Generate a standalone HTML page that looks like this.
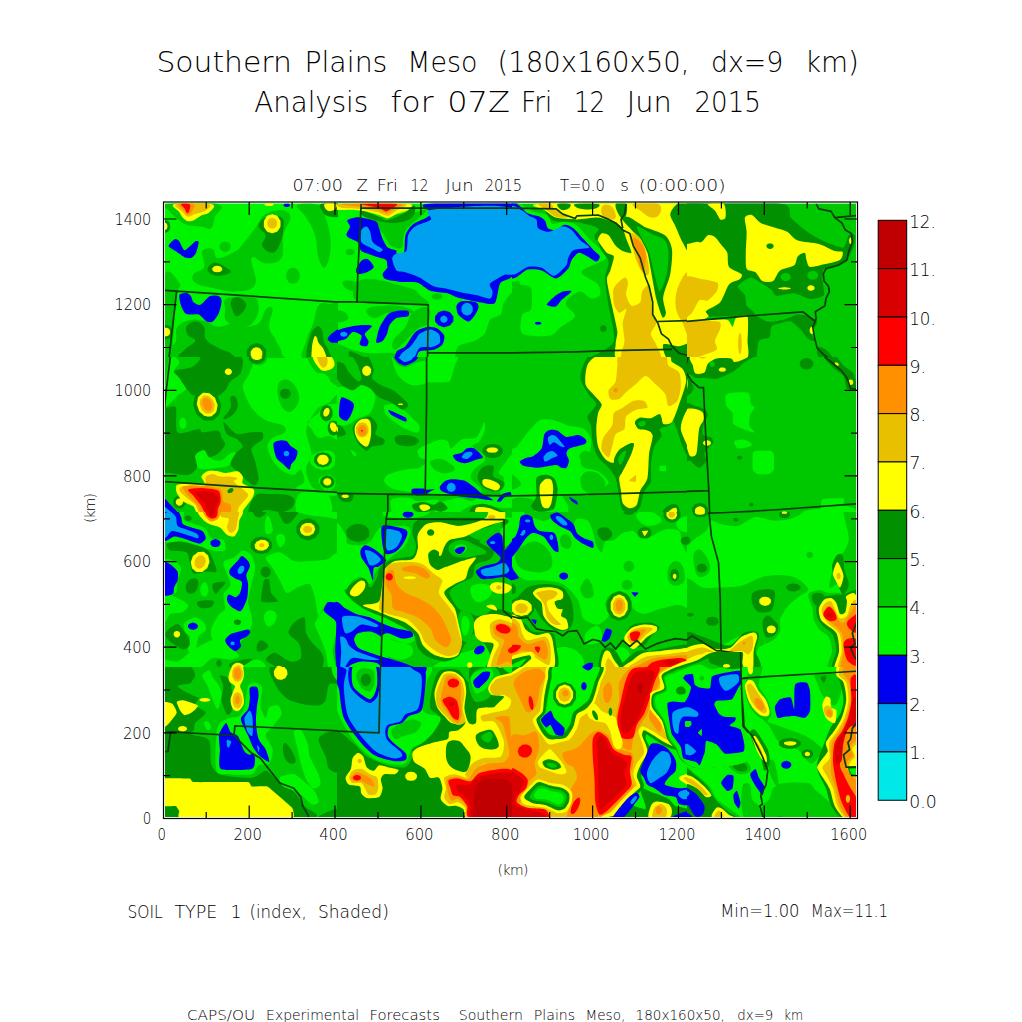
<!DOCTYPE html>
<html lang="en"><head><meta charset="utf-8"><title>Southern Plains Meso - SOIL TYPE 1</title>
<style>html,body{margin:0;padding:0;background:#fff;overflow:hidden}svg{display:block}text{fill:#000}</style>
</head><body>
<svg width="1022" height="1022" viewBox="0 0 1022 1022" font-family="'DejaVu Sans Light','DejaVu Sans','Liberation Sans',sans-serif" font-weight="200">
<defs><clipPath id="mapclip"><rect x="165" y="203.5" width="691" height="613.5"/></clipPath></defs>
<rect width="1022" height="1022" fill="#fff"/>
<g clip-path="url(#mapclip)">
<defs><clipPath id="t0"><rect x="160.0" y="200.0" width="178.0" height="158.0"/></clipPath><clipPath id="t1"><rect x="337.0" y="200.0" width="176.0" height="158.0"/></clipPath><clipPath id="t2"><rect x="512.0" y="200.0" width="176.0" height="158.0"/></clipPath><clipPath id="t3"><rect x="687.0" y="200.0" width="183.0" height="158.0"/></clipPath><clipPath id="t4"><rect x="160.0" y="357.0" width="178.0" height="156.0"/></clipPath><clipPath id="t5"><rect x="337.0" y="357.0" width="176.0" height="156.0"/></clipPath><clipPath id="t6"><rect x="512.0" y="357.0" width="176.0" height="156.0"/></clipPath><clipPath id="t7"><rect x="687.0" y="357.0" width="183.0" height="156.0"/></clipPath><clipPath id="t8"><rect x="160.0" y="512.0" width="178.0" height="156.0"/></clipPath><clipPath id="t9"><rect x="337.0" y="512.0" width="176.0" height="156.0"/></clipPath><clipPath id="t10"><rect x="512.0" y="512.0" width="176.0" height="156.0"/></clipPath><clipPath id="t11"><rect x="687.0" y="512.0" width="183.0" height="156.0"/></clipPath><clipPath id="t12"><rect x="160.0" y="667.0" width="178.0" height="162.9"/></clipPath><clipPath id="t13"><rect x="337.0" y="667.0" width="176.0" height="162.9"/></clipPath><clipPath id="t14"><rect x="512.0" y="667.0" width="176.0" height="162.9"/></clipPath><clipPath id="t15"><rect x="687.0" y="667.0" width="183.0" height="162.9"/></clipPath><clipPath id="t16"><rect x="650.0" y="652.0" width="98.0" height="120.0"/></clipPath></defs>
<rect x="160" y="200" width="700" height="622" fill="#00f400"/>
<g clip-path="url(#t0)">
<path fill="#00c800" d="M167.0 203.9C176.9 202.5 208.6 201.1 218.1 203.9C227.6 206.6 216.0 212.8 214.6 217.6C213.2 222.5 213.9 226.4 211.1 228.2C208.3 229.9 205.4 227.1 200.5 226.4C195.6 225.7 191.4 226.4 186.4 224.7C181.5 222.9 179.4 220.4 175.9 217.6C172.3 214.8 170.6 213.3 168.8 210.6C167.0 207.8 157.2 205.2 167.0 203.9ZM202.3 251.1C204.0 247.6 209.7 247.9 212.8 249.3C216.0 250.7 213.5 257.8 218.1 258.1C222.7 258.5 230.8 253.9 235.7 251.1C240.7 248.3 238.9 248.6 242.8 244.0C246.7 239.5 250.5 234.2 255.1 228.2C259.7 222.2 260.0 217.6 265.7 214.1C271.3 210.6 278.4 209.9 283.3 210.6C288.2 211.3 290.3 212.7 290.3 217.6C290.3 222.5 285.0 227.1 283.3 235.2C281.5 243.3 285.0 252.5 281.5 258.1C278.0 263.8 271.7 263.4 265.7 263.4C259.7 263.4 253.7 253.9 251.6 258.1C249.5 262.3 258.3 277.8 255.1 284.5C251.9 291.2 244.2 290.9 235.7 291.6C227.3 292.3 220.9 289.8 212.8 288.1C204.7 286.3 199.1 285.6 195.2 282.8C191.4 280.0 191.7 277.1 193.5 274.0C195.2 270.8 202.3 271.5 204.0 266.9C205.8 262.3 200.5 254.6 202.3 251.1ZM230.8 246.7C230.8 248.6 231.0 248.0 229.7 249.6C228.4 251.1 229.0 250.8 226.9 251.4C224.8 252.0 225.5 252.0 223.4 251.4C221.3 250.8 221.9 251.1 220.6 249.6C219.3 248.0 219.5 248.6 219.5 246.7C219.5 244.7 219.3 245.3 220.6 243.8C221.9 242.2 221.3 242.6 223.4 242.0C225.5 241.4 224.8 241.4 226.9 242.0C229.0 242.6 228.4 242.2 229.7 243.8C231.0 245.3 230.8 244.7 230.8 246.7ZM299.7 275.7C299.7 278.8 299.9 277.9 298.4 280.4C296.8 282.9 297.5 282.3 295.0 283.3C292.5 284.2 293.4 284.2 290.9 283.3C288.4 282.3 289.1 282.9 287.6 280.4C286.0 277.9 286.3 278.8 286.3 275.7C286.3 272.6 286.0 273.6 287.6 271.1C289.1 268.6 288.4 269.2 290.9 268.2C293.4 267.2 292.5 267.2 295.0 268.2C297.5 269.2 296.8 268.6 298.4 271.1C299.9 273.6 299.7 272.6 299.7 275.7ZM297.4 205.3C299.8 202.8 312.9 202.8 318.5 205.3C324.1 207.7 323.1 209.9 325.6 217.6C328.0 225.4 330.8 234.2 330.8 244.0C330.8 253.9 328.0 264.1 325.6 266.9C323.1 269.7 320.6 264.5 318.5 258.1C316.4 251.8 317.5 243.3 315.0 235.2C312.5 227.1 309.7 223.6 306.2 217.6C302.7 211.6 294.9 207.7 297.4 205.3ZM163.9 277.5C167.0 262.1 176.6 280.0 179.4 282.8C182.1 285.6 178.3 287.0 177.6 291.6C176.9 296.2 177.3 292.0 175.9 305.7C174.4 319.3 173.0 349.1 170.6 359.9C168.2 370.8 165.2 376.4 163.9 359.9C162.5 343.4 160.8 292.9 163.9 277.5ZM177.6 326.8C180.8 322.6 186.1 320.8 191.7 319.8C197.3 318.7 200.5 320.1 205.8 321.5C211.1 322.9 212.5 326.5 218.1 326.8C223.8 327.2 229.0 323.3 234.0 323.3C238.9 323.3 237.8 326.8 242.8 326.8C247.7 326.8 254.1 326.8 258.6 323.3C263.2 319.8 262.9 312.0 265.7 309.2C268.5 306.4 272.0 305.7 272.7 309.2C273.4 312.7 268.5 320.5 269.2 326.8C269.9 333.2 273.8 335.6 276.2 340.9C278.7 346.2 282.2 349.4 281.5 353.2C280.8 357.0 294.9 358.6 272.7 359.9C250.5 361.3 189.9 363.7 170.6 359.9C151.2 356.1 174.4 347.5 175.9 340.9C177.3 334.3 174.4 331.0 177.6 326.8ZM226.9 298.6C232.2 296.2 245.2 295.5 251.6 296.9C257.9 298.3 257.9 301.1 258.6 305.7C259.3 310.3 257.9 315.5 255.1 319.8C252.3 324.0 250.2 326.5 244.5 326.8C238.9 327.2 230.8 325.0 226.9 321.5C223.1 318.0 225.2 313.8 225.2 309.2C225.2 304.6 221.6 301.1 226.9 298.6ZM306.2 340.9C307.9 333.6 310.8 330.3 313.2 323.3C315.7 316.2 315.3 309.5 318.5 305.7C321.7 301.8 324.8 303.2 329.1 303.9C333.4 304.6 337.8 298.0 340.0 309.2C342.2 320.4 347.1 349.8 340.0 359.9C332.9 370.1 311.2 363.7 304.4 359.9C297.7 356.1 304.4 348.2 306.2 340.9Z"/>
<path fill="#009000" d="M258.6 226.4C258.6 222.9 261.1 219.4 265.7 217.6C270.3 215.9 278.0 215.1 281.5 217.6C285.0 220.1 283.6 224.7 283.3 229.9C282.9 235.2 281.9 239.5 279.8 244.0C277.7 248.6 276.2 252.5 272.7 252.8C269.2 253.2 263.6 249.3 262.2 245.8C260.7 242.3 266.4 239.1 265.7 235.2C265.0 231.4 258.6 229.9 258.6 226.4ZM321.2 203.9C324.7 202.5 336.2 201.5 340.0 203.9C343.8 206.3 342.5 213.5 340.0 215.9C337.5 218.2 330.9 216.9 327.3 215.9C323.7 214.8 323.3 213.0 322.0 210.6C320.8 208.2 317.6 205.2 321.2 203.9ZM186.4 326.8C187.8 324.0 191.7 321.5 195.2 321.5C198.7 321.5 201.9 323.3 204.0 326.8C206.1 330.3 203.0 334.9 205.8 339.1C208.6 343.4 213.2 345.1 218.1 347.9C223.1 350.8 228.0 350.8 230.5 353.2C232.9 355.6 240.3 358.6 230.5 359.9C220.6 361.3 190.3 362.0 181.1 359.9C172.0 357.9 181.8 353.5 184.7 349.7C187.5 345.9 194.5 343.7 195.2 340.9C195.9 338.1 189.9 338.4 188.2 335.6C186.4 332.8 185.0 329.6 186.4 326.8ZM231.3 300.4C232.7 298.1 236.3 296.7 239.3 297.7C242.3 298.8 246.7 302.0 246.3 305.7C245.9 309.4 240.3 315.5 237.5 316.2C234.7 316.9 233.4 312.4 232.2 309.2C231.0 306.0 229.9 302.7 231.3 300.4ZM207.6 268.7C208.3 266.4 211.1 262.9 214.6 262.5C218.1 262.2 222.0 265.0 225.2 266.9C228.3 268.9 231.5 270.5 230.5 272.2C229.4 274.0 223.8 275.4 219.9 275.7C216.0 276.1 213.5 275.4 211.1 274.0C208.6 272.6 206.8 271.0 207.6 268.7ZM170.2 226.4C170.2 228.8 170.4 228.1 169.3 230.0C168.1 232.0 168.6 231.5 166.8 232.3C165.0 233.0 165.6 233.0 163.8 232.3C161.9 231.5 162.4 232.0 161.3 230.0C160.2 228.1 160.4 228.8 160.4 226.4C160.4 224.0 160.2 224.7 161.3 222.8C162.4 220.8 161.9 221.3 163.8 220.6C165.6 219.8 165.0 219.8 166.8 220.6C168.6 221.3 168.1 220.8 169.3 222.8C170.4 224.7 170.2 224.0 170.2 226.4ZM172.3 332.1C172.3 334.9 172.6 334.0 171.2 336.2C169.7 338.5 170.4 337.9 168.1 338.8C165.8 339.6 166.6 339.6 164.3 338.8C162.0 337.9 162.6 338.5 161.2 336.2C159.8 334.0 160.0 334.9 160.0 332.1C160.0 329.3 159.8 330.2 161.2 328.0C162.6 325.7 162.0 326.2 164.3 325.4C166.6 324.5 165.8 324.5 168.1 325.4C170.4 326.2 169.7 325.7 171.2 328.0C172.6 330.2 172.3 329.3 172.3 332.1ZM266.2 353.2C266.2 357.0 266.6 355.9 264.4 358.9C262.1 362.0 263.1 361.3 259.5 362.4C255.9 363.6 257.1 363.6 253.5 362.4C249.9 361.3 250.9 362.0 248.7 358.9C246.4 355.9 246.8 357.0 246.8 353.2C246.8 349.4 246.4 350.6 248.7 347.5C250.9 344.5 249.9 345.2 253.5 344.0C257.1 342.8 255.9 342.8 259.5 344.0C263.1 345.2 262.1 344.5 264.4 347.5C266.6 350.6 266.2 349.4 266.2 353.2ZM309.7 337.4C311.5 330.8 314.3 328.2 316.8 326.8C319.2 325.4 320.6 327.5 322.0 330.3C323.4 333.2 322.4 336.7 323.8 340.9C325.2 345.1 328.0 347.7 329.1 351.5C330.1 355.3 333.3 358.2 329.1 359.9C324.9 361.6 311.8 364.4 307.9 359.9C304.1 355.4 307.9 344.0 309.7 337.4Z"/>
<path fill="#ffff00" d="M280.5 223.8C280.5 227.4 280.8 226.3 278.9 229.2C277.0 232.1 277.8 231.4 274.7 232.5C271.7 233.6 272.7 233.6 269.6 232.5C266.5 231.4 267.4 232.1 265.5 229.2C263.6 226.3 263.9 227.4 263.9 223.8C263.9 220.2 263.6 221.3 265.5 218.4C267.4 215.5 266.5 216.2 269.6 215.1C272.7 214.0 271.7 214.0 274.7 215.1C277.8 216.2 277.0 215.5 278.9 218.4C280.8 221.3 280.5 220.2 280.5 223.8ZM324.7 203.9C326.4 202.5 334.2 202.7 336.1 203.9C338.1 205.0 336.1 208.3 334.4 209.7C332.6 211.0 329.3 211.7 327.3 210.6C325.4 209.4 322.9 205.2 324.7 203.9ZM222.2 269.0C222.2 270.3 222.4 269.9 221.2 270.9C220.1 271.9 220.6 271.7 218.8 272.1C216.9 272.4 217.6 272.4 215.7 272.1C213.9 271.7 214.4 271.9 213.3 270.9C212.1 269.9 212.3 270.3 212.3 269.0C212.3 267.8 212.1 268.2 213.3 267.2C214.4 266.2 213.9 266.4 215.7 266.0C217.6 265.6 216.9 265.6 218.8 266.0C220.6 266.4 220.1 266.2 221.2 267.2C222.4 268.2 222.2 267.8 222.2 269.0ZM175.0 203.9C181.3 202.2 204.2 202.2 211.1 203.9C217.9 205.6 211.4 209.9 209.3 212.3C207.2 214.7 204.0 214.1 200.5 215.9C197.0 217.6 194.9 220.4 191.7 221.1C188.5 221.8 187.1 221.1 184.7 219.4C182.2 217.6 181.3 215.4 179.4 212.3C177.4 209.2 168.6 205.6 175.0 203.9ZM167.4 226.4C167.4 227.8 167.5 227.4 166.9 228.5C166.4 229.6 166.6 229.3 165.7 229.8C164.8 230.2 165.1 230.2 164.2 229.8C163.3 229.3 163.5 229.6 162.9 228.5C162.4 227.4 162.5 227.8 162.5 226.4C162.5 225.0 162.4 225.5 162.9 224.3C163.5 223.2 163.3 223.5 164.2 223.1C165.1 222.6 164.8 222.6 165.7 223.1C166.6 223.5 166.4 223.2 166.9 224.3C167.5 225.5 167.4 225.0 167.4 226.4ZM170.0 332.1C170.0 333.8 170.2 333.2 169.3 334.6C168.4 335.9 168.8 335.6 167.4 336.1C165.9 336.6 166.4 336.6 165.0 336.1C163.5 335.6 163.9 335.9 163.0 334.6C162.1 333.2 162.3 333.8 162.3 332.1C162.3 330.4 162.1 330.9 163.0 329.6C163.9 328.3 163.5 328.6 165.0 328.1C166.4 327.6 165.9 327.6 167.4 328.1C168.8 328.6 168.4 328.3 169.3 329.6C170.2 330.9 170.0 330.4 170.0 332.1ZM262.3 353.6C262.3 356.0 262.6 355.3 261.2 357.2C259.9 359.2 260.5 358.7 258.3 359.4C256.1 360.2 256.9 360.2 254.7 359.4C252.6 358.7 253.2 359.2 251.8 357.2C250.5 355.3 250.7 356.0 250.7 353.6C250.7 351.2 250.5 351.9 251.8 350.0C253.2 348.0 252.6 348.5 254.7 347.7C256.9 347.0 256.1 347.0 258.3 347.7C260.5 348.5 259.9 348.0 261.2 350.0C262.6 351.9 262.3 351.2 262.3 353.6ZM314.1 337.4C315.1 334.9 315.9 336.3 316.8 337.4C317.6 338.4 317.1 340.2 318.5 342.7C319.9 345.1 322.4 346.3 323.8 349.7C325.2 353.2 327.7 357.9 325.6 359.9C323.4 362.0 316.0 362.0 313.2 359.9C310.5 357.9 311.6 354.2 311.8 349.7C312.0 345.2 313.1 339.8 314.1 337.4ZM273.6 204.4C273.6 205.1 273.8 204.9 272.8 205.4C271.7 206.0 272.2 205.9 270.6 206.1C268.9 206.3 269.5 206.3 267.8 206.1C266.2 205.9 266.6 206.0 265.6 205.4C264.6 204.9 264.8 205.1 264.8 204.4C264.8 203.7 264.6 203.9 265.6 203.4C266.6 202.8 266.2 202.9 267.8 202.7C269.5 202.5 268.9 202.5 270.6 202.7C272.2 202.9 271.7 202.8 272.8 203.4C273.8 203.9 273.6 203.7 273.6 204.4Z"/>
<path fill="#e8c000" d="M277.1 223.2C277.1 225.3 277.3 224.7 276.2 226.4C275.0 228.0 275.6 227.6 273.7 228.3C271.9 228.9 272.5 228.9 270.7 228.3C268.8 227.6 269.3 228.0 268.2 226.4C267.1 224.7 267.3 225.3 267.3 223.2C267.3 221.2 267.1 221.8 268.2 220.1C269.3 218.5 268.8 218.9 270.7 218.2C272.5 217.6 271.9 217.6 273.7 218.2C275.6 218.9 275.0 218.5 276.2 220.1C277.3 221.8 277.1 221.2 277.1 223.2ZM176.7 203.9C181.8 202.2 202.6 202.5 208.4 203.9C214.2 205.2 208.4 208.5 205.8 210.6C203.2 212.6 198.7 212.9 195.2 214.1C191.7 215.3 190.6 217.1 188.2 216.7C185.7 216.4 185.2 214.9 182.9 212.3C180.6 209.8 171.6 205.6 176.7 203.9Z"/>
<path fill="#ff9000" d="M178.5 203.9C180.4 202.5 190.6 202.5 193.5 203.9C196.3 205.2 193.6 208.3 192.6 210.6C191.5 212.8 189.9 215.0 188.2 215.0C186.4 215.0 185.7 212.8 183.8 210.6C181.8 208.3 176.6 205.2 178.5 203.9Z"/>
<path fill="#ff0000" d="M181.1 203.9C182.0 202.9 187.3 202.9 189.1 203.9C190.8 204.9 190.3 206.9 189.9 208.8C189.6 210.7 188.4 213.2 187.3 213.2C186.2 213.2 185.9 210.7 184.7 208.8C183.4 206.9 180.3 204.9 181.1 203.9Z"/>
<path fill="#0000f0" d="M168.5 246.1C168.2 244.8 173.9 239.6 175.0 239.1C176.1 238.6 178.4 240.3 179.4 241.4C180.3 242.5 183.1 250.2 184.7 250.2C186.2 250.2 193.8 242.2 195.2 241.4C196.6 240.6 198.7 241.1 198.7 242.3C198.8 243.4 196.8 251.3 196.1 252.8C195.4 254.4 192.8 257.3 191.7 257.8C190.6 258.3 186.9 258.3 185.5 257.8C184.1 257.2 179.3 253.6 177.6 252.5C175.9 251.3 168.7 247.5 168.5 246.1ZM179.4 295.1C180.1 293.4 184.9 292.9 186.4 293.0C187.9 293.1 189.9 294.8 190.8 296.0C191.8 297.2 192.2 301.0 193.5 302.2C194.8 303.3 198.4 305.5 200.5 304.8C202.6 304.0 207.0 297.7 209.3 296.5C211.7 295.3 216.5 295.5 218.1 296.0C219.8 296.5 221.5 298.2 221.6 300.4C221.8 302.6 220.2 309.9 219.0 312.7C217.8 315.5 214.5 320.4 212.8 321.5C211.2 322.7 208.6 322.5 206.7 321.5C204.8 320.6 201.4 315.5 198.7 314.5C196.0 313.5 188.8 315.3 186.4 314.1C184.1 313.0 182.1 308.2 181.1 305.7C180.2 303.1 178.7 296.8 179.4 295.1ZM328.2 337.4C329.6 335.3 333.8 331.9 336.1 330.3C338.5 328.7 339.2 327.3 340.0 329.5C340.8 331.6 341.3 338.3 340.0 340.9C338.7 343.5 335.7 342.7 333.5 342.7C331.3 342.7 330.1 342.0 329.1 340.9C328.0 339.8 326.8 339.5 328.2 337.4ZM290.0 205.3C290.0 206.0 290.1 205.8 289.4 206.3C288.6 206.9 289.0 206.7 287.8 207.0C286.6 207.2 287.0 207.2 285.8 207.0C284.6 206.7 285.0 206.9 284.2 206.3C283.5 205.8 283.6 206.0 283.6 205.3C283.6 204.6 283.5 204.8 284.2 204.2C285.0 203.7 284.6 203.8 285.8 203.6C287.0 203.4 286.6 203.4 287.8 203.6C289.0 203.8 288.6 203.7 289.4 204.2C290.1 204.8 290.0 204.6 290.0 205.3Z"/>
<path fill="none" stroke="#0b3b0b" stroke-width="1.7" stroke-linejoin="round" d="M163.9 290.2L340.0 302.2M176.7 290.7L168.8 359.9"/>
</g>
<g clip-path="url(#t1)">
<path fill="#00c800" d="M375.5 219.4C381.5 214.8 404.0 214.1 414.3 212.3C424.5 210.6 427.6 207.7 426.6 210.6C425.5 213.4 413.6 221.5 409.0 226.4C404.4 231.4 405.1 231.0 403.7 235.2C402.3 239.5 404.4 245.4 401.9 247.6C399.5 249.7 394.9 248.3 391.4 245.8C387.8 243.3 387.5 240.5 384.3 235.2C381.1 229.9 369.5 224.0 375.5 219.4ZM357.9 282.8C360.4 278.4 364.9 279.6 370.2 279.3C375.5 278.9 379.0 280.0 384.3 281.0C389.6 282.1 390.7 282.8 396.6 284.5C402.6 286.3 409.7 287.7 414.3 289.8C418.8 291.9 416.7 292.3 419.5 295.1C422.4 297.9 431.2 302.2 428.3 303.9C425.5 305.7 419.5 304.4 405.5 303.9C391.4 303.4 367.4 305.5 357.9 301.3C348.4 297.0 355.4 287.2 357.9 282.8ZM515.0 293.3C513.9 287.6 505.5 300.0 504.1 302.2C502.6 304.3 502.0 312.7 500.6 314.5C499.1 316.2 491.6 317.8 490.0 319.8C488.4 321.7 486.3 331.7 484.7 333.9C483.1 336.0 476.8 339.7 474.1 340.9C471.5 342.1 459.9 344.3 458.3 346.2C456.7 348.1 452.6 358.5 458.3 359.9C464.0 361.3 509.3 366.6 515.0 359.9C520.7 353.3 516.1 299.1 515.0 293.3ZM335.0 311.0C337.1 309.2 343.1 311.0 345.6 312.7C348.0 314.5 349.4 318.0 347.3 319.8C345.2 321.5 337.5 323.3 335.0 321.5C332.5 319.8 332.9 312.7 335.0 311.0ZM366.7 309.2C368.8 306.7 376.6 306.0 384.3 305.7C392.1 305.3 399.5 306.0 405.5 307.4C411.4 308.8 415.0 311.7 414.3 312.7C413.6 313.8 407.2 312.7 401.9 312.7C396.6 312.7 393.5 311.7 387.8 312.7C382.2 313.8 378.0 318.7 373.7 318.0C369.5 317.3 364.6 311.7 366.7 309.2ZM335.0 344.4C338.5 342.4 345.6 347.9 352.6 349.7C359.7 351.5 362.1 352.5 370.2 353.2C378.3 353.9 388.5 351.9 393.1 353.2C397.7 354.6 404.7 358.6 393.1 359.9C381.5 361.3 346.6 363.0 335.0 359.9C323.4 356.8 331.5 346.5 335.0 344.4ZM412.5 312.7C417.1 308.8 425.2 305.3 428.3 307.4C431.5 309.5 430.5 319.1 428.3 323.3C426.2 327.5 422.4 325.0 417.8 328.6C413.2 332.1 410.0 336.7 405.5 340.9C400.9 345.1 397.3 349.7 394.9 349.7C392.4 349.7 391.0 345.5 393.1 340.9C395.2 336.3 401.6 332.4 405.5 326.8C409.3 321.2 407.9 316.6 412.5 312.7ZM354.4 252.0C354.4 253.2 354.5 252.8 353.5 253.8C352.5 254.8 353.0 254.6 351.3 255.0C349.7 255.4 350.3 255.4 348.6 255.0C347.0 254.6 347.4 254.8 346.4 253.8C345.4 252.8 345.6 253.2 345.6 252.0C345.6 250.7 345.4 251.1 346.4 250.1C347.4 249.1 347.0 249.3 348.6 248.9C350.3 248.6 349.7 248.6 351.3 248.9C353.0 249.3 352.5 249.1 353.5 250.1C354.5 251.1 354.4 250.7 354.4 252.0ZM442.4 296.5C442.4 297.8 442.6 297.4 441.4 298.4C440.2 299.4 440.8 299.1 438.8 299.5C436.8 299.9 437.5 299.9 435.5 299.5C433.6 299.1 434.1 299.4 432.9 298.4C431.7 297.4 431.9 297.8 431.9 296.5C431.9 295.3 431.7 295.7 432.9 294.7C434.1 293.6 433.6 293.9 435.5 293.5C437.5 293.1 436.8 293.1 438.8 293.5C440.8 293.9 440.2 293.6 441.4 294.7C442.6 295.7 442.4 295.3 442.4 296.5ZM343.8 281.0C346.3 280.0 355.3 280.7 357.9 282.8C360.5 284.9 359.5 290.5 357.0 291.6C354.5 292.6 348.2 290.2 345.6 288.1C342.9 285.9 341.3 282.1 343.8 281.0Z"/>
<path fill="#009000" d="M361.4 210.6C364.6 210.7 373.7 214.8 379.0 216.7C384.3 218.7 382.6 221.1 387.8 220.3C393.1 219.4 400.2 215.3 405.5 212.3C410.7 209.3 412.5 204.9 414.3 205.3C416.0 205.6 415.3 211.3 414.3 214.1C413.2 216.9 412.8 217.6 409.0 219.4C405.1 221.1 400.9 222.5 394.9 222.9C388.9 223.2 385.4 222.5 379.0 221.1C372.7 219.7 366.7 218.0 363.2 215.9C359.7 213.7 358.2 210.4 361.4 210.6ZM349.1 351.5C350.5 350.5 356.1 353.3 359.7 355.0C363.2 356.7 368.1 358.9 366.7 359.9C365.3 360.9 356.1 361.6 352.6 359.9C349.1 358.2 347.7 352.5 349.1 351.5Z"/>
<path fill="#ffff00" d="M335.0 203.9C342.4 203.3 401.8 203.2 409.0 203.9C416.2 204.5 408.4 209.5 407.2 210.6C406.0 211.6 398.6 213.3 396.6 214.1C394.7 214.9 389.6 218.4 387.8 218.5C386.1 218.6 381.1 215.7 379.0 215.0C376.9 214.3 369.3 212.0 366.7 211.4C364.1 210.9 355.8 209.9 352.6 209.7C349.4 209.5 336.8 210.3 335.0 209.7C333.2 209.1 327.6 204.5 335.0 203.9Z"/>
<path fill="#e8c000" d="M338.5 203.9C344.9 203.5 399.8 203.1 405.5 203.9C411.1 204.6 396.6 210.3 394.9 211.4C393.1 212.6 389.6 215.8 387.8 215.9C386.1 215.9 379.9 213.0 377.3 212.3C374.6 211.6 364.9 209.2 361.4 208.8C357.9 208.4 344.3 208.4 342.0 207.9C339.8 207.4 332.2 204.3 338.5 203.9Z"/>
<path fill="#ff9000" d="M342.0 203.9C346.1 203.6 396.8 203.3 401.9 203.9C407.0 204.5 394.6 208.8 393.1 209.7C391.6 210.6 388.5 213.2 387.0 213.2C385.4 213.2 379.8 210.3 377.3 209.7C374.7 209.1 364.9 207.6 361.4 207.0C357.9 206.5 338.0 204.2 342.0 203.9Z"/>
<path fill="#ff0000" d="M361.4 203.9C363.2 203.5 393.6 203.4 396.6 203.9C399.6 204.4 392.4 208.0 391.4 208.8C390.3 209.6 387.3 211.5 386.1 211.4C384.8 211.4 381.5 208.7 379.0 207.9C376.6 207.2 359.7 204.3 361.4 203.9Z"/>
<path fill="#0000f0" d="M426.6 203.9C437.8 202.7 503.2 195.0 515.0 203.9C526.8 212.8 516.9 259.9 515.0 270.5C513.1 281.0 503.0 279.3 500.6 282.8C498.2 286.3 498.0 294.1 497.0 296.9C496.1 299.7 495.9 303.2 493.5 303.9C491.2 304.6 484.1 303.0 479.4 302.2C474.7 301.3 462.5 298.9 458.3 297.7C454.1 296.6 451.5 294.3 447.7 293.3C444.0 292.4 434.1 292.1 430.1 290.7C426.1 289.3 421.8 284.0 417.8 282.8C413.8 281.6 404.4 282.4 400.2 281.9C395.9 281.4 388.4 280.3 386.1 279.3C383.7 278.2 382.3 275.6 382.6 274.0C382.8 272.3 386.7 269.0 387.8 266.9C389.0 264.8 390.7 260.0 391.4 258.1C392.1 256.2 391.5 253.5 393.1 252.8C394.8 252.1 402.0 255.2 403.7 252.8C405.3 250.5 404.3 239.0 405.5 235.2C406.6 231.5 409.7 227.0 412.5 224.7C415.3 222.3 424.1 219.3 426.6 217.6C429.1 216.0 431.0 214.2 431.0 212.3C431.0 210.5 415.4 205.0 426.6 203.9ZM347.3 220.3C348.5 219.0 355.0 217.1 358.8 217.3C362.5 217.4 372.8 219.7 375.5 221.1C378.2 222.6 378.1 225.8 379.0 228.2C380.0 230.5 381.4 236.2 382.6 238.7C383.7 241.3 386.0 245.9 387.8 247.6C389.7 249.2 395.9 249.7 396.6 251.1C397.3 252.5 393.1 255.5 393.1 258.1C393.1 260.7 397.3 269.3 396.6 270.5C395.9 271.6 389.2 268.3 387.8 266.9C386.4 265.5 387.7 261.3 386.1 259.9C384.4 258.5 378.8 257.5 375.5 256.4C372.2 255.2 363.8 253.0 361.4 251.1C359.1 249.2 359.5 244.0 357.9 242.3C356.3 240.5 350.6 238.9 349.1 237.9C347.6 236.8 346.3 235.9 346.4 234.3C346.6 232.8 349.9 228.3 350.0 226.4C350.1 224.5 346.2 221.5 347.3 220.3ZM356.1 269.6C356.6 267.8 359.9 262.2 361.4 260.8C362.9 259.4 365.9 258.2 367.6 259.0C369.2 259.8 373.9 265.2 373.7 266.9C373.6 268.7 368.8 271.3 366.7 272.2C364.6 273.2 359.3 274.3 357.9 274.0C356.5 273.6 355.7 271.3 356.1 269.6ZM456.5 305.7C457.0 303.9 459.2 301.7 461.8 301.3C464.4 300.8 473.7 301.3 475.9 302.2C478.1 303.0 478.8 305.6 478.5 307.4C478.3 309.3 475.5 314.4 474.1 316.2C472.7 318.1 470.1 321.8 468.0 321.5C465.9 321.3 459.8 316.6 458.3 314.5C456.8 312.4 456.1 307.4 456.5 305.7ZM453.4 318.9C453.4 322.0 453.7 321.0 451.6 323.5C449.5 326.1 450.4 325.5 447.0 326.4C443.6 327.4 444.8 327.4 441.4 326.4C438.0 325.5 438.9 326.1 436.8 323.5C434.7 321.0 435.0 322.0 435.0 318.9C435.0 315.8 434.7 316.7 436.8 314.2C438.9 311.7 438.0 312.3 441.4 311.3C444.8 310.4 443.6 310.4 447.0 311.3C450.4 312.3 449.5 311.7 451.6 314.2C453.7 316.7 453.4 315.8 453.4 318.9ZM417.8 330.3C419.9 329.2 425.8 327.0 428.3 326.8C430.9 326.6 435.0 327.4 437.2 328.6C439.3 329.7 443.5 333.5 444.2 335.6C444.9 337.7 443.8 342.5 442.4 344.4C441.0 346.3 436.7 348.8 433.6 349.7C430.6 350.6 422.1 350.1 419.5 351.5C417.0 352.8 417.4 358.8 414.3 359.9C411.1 361.0 398.1 361.0 395.8 359.9C393.4 358.8 395.4 353.3 396.6 351.5C397.9 349.6 403.3 348.3 405.5 346.2C407.6 344.1 410.9 337.7 412.5 335.6C414.1 333.5 415.7 331.5 417.8 330.3ZM335.0 332.1C336.4 330.3 342.0 328.6 345.6 327.7C349.1 326.8 357.9 325.3 361.4 325.0C364.9 324.8 371.5 324.8 372.0 325.9C372.5 327.1 365.4 331.9 364.9 333.9C364.5 335.9 368.2 339.3 368.5 340.9C368.7 342.5 367.9 345.7 366.7 346.2C365.5 346.7 360.4 345.8 359.7 344.4C359.0 343.0 362.4 337.3 361.4 335.6C360.5 334.0 354.7 331.6 352.6 332.1C350.5 332.6 347.9 338.0 345.6 339.1C343.2 340.3 336.4 341.8 335.0 340.9C333.6 340.0 333.6 333.9 335.0 332.1ZM387.8 314.5C390.1 312.4 393.9 311.4 396.6 311.0C399.3 310.5 406.6 310.3 408.1 311.0C409.6 311.7 409.6 315.3 408.1 316.2C406.6 317.2 399.1 316.8 396.6 318.0C394.2 319.2 390.9 322.9 389.6 325.0C388.3 327.2 387.9 331.7 387.0 333.9C386.0 336.0 384.0 339.7 382.6 340.9C381.1 342.1 377.1 343.4 376.4 342.7C375.7 342.0 376.8 337.7 377.3 335.6C377.7 333.5 378.5 329.6 379.9 326.8C381.3 324.0 385.6 316.6 387.8 314.5Z"/>
<path fill="#00a0f0" d="M431.9 209.7C443.1 208.4 503.9 201.7 515.0 209.7C526.1 217.7 516.5 260.9 515.0 269.6C513.5 278.3 507.4 273.0 504.1 274.9C500.7 276.7 491.5 281.4 490.0 283.7C488.5 285.9 492.6 289.6 492.6 291.6C492.6 293.6 492.2 298.2 490.0 298.6C487.8 299.1 479.7 295.9 475.9 295.1C472.1 294.3 465.6 293.3 461.8 292.5C458.1 291.6 451.5 289.8 447.7 288.9C444.0 288.1 437.4 287.8 433.6 286.3C429.9 284.8 423.3 279.4 419.5 277.5C415.8 275.6 408.5 273.2 405.5 272.2C402.4 271.3 398.4 272.2 396.6 270.5C394.9 268.7 392.4 261.2 392.2 259.0C392.1 256.8 393.9 254.8 395.8 253.7C397.6 252.7 404.7 253.5 406.3 251.1C408.0 248.6 406.9 238.5 408.1 235.2C409.3 231.9 412.1 228.5 415.1 226.4C418.2 224.3 428.8 221.6 431.0 219.4C433.2 217.1 420.7 211.0 431.9 209.7ZM361.4 229.9C362.1 227.8 365.5 226.2 366.7 226.4C367.9 226.7 369.4 229.6 370.2 231.7C371.0 233.8 371.2 239.9 372.9 242.3C374.5 244.6 381.7 248.0 382.6 249.3C383.4 250.6 380.7 252.2 379.0 252.0C377.4 251.7 372.6 248.8 370.2 247.6C367.9 246.3 362.6 244.6 361.4 242.3C360.2 239.9 360.7 232.1 361.4 229.9ZM472.7 309.2C472.7 311.6 473.0 310.9 471.7 312.8C470.4 314.8 470.9 314.3 468.8 315.1C466.7 315.8 467.5 315.8 465.4 315.1C463.3 314.3 463.8 314.8 462.5 312.8C461.2 310.9 461.5 311.6 461.5 309.2C461.5 306.8 461.2 307.5 462.5 305.6C463.8 303.6 463.3 304.1 465.4 303.3C467.5 302.6 466.7 302.6 468.8 303.3C470.9 304.1 470.4 303.6 471.7 305.6C473.0 307.5 472.7 306.8 472.7 309.2ZM447.4 319.2C447.4 320.6 447.5 320.2 446.7 321.3C445.9 322.4 446.2 322.2 444.9 322.6C443.6 323.0 444.1 323.0 442.8 322.6C441.4 322.2 441.8 322.4 441.0 321.3C440.2 320.2 440.3 320.6 440.3 319.2C440.3 317.9 440.2 318.3 441.0 317.2C441.8 316.0 441.4 316.3 442.8 315.9C444.1 315.5 443.6 315.5 444.9 315.9C446.2 316.3 445.9 316.0 446.7 317.2C447.5 318.3 447.4 317.9 447.4 319.2ZM419.5 333.9C421.4 332.6 427.5 329.5 430.1 329.5C432.7 329.5 437.6 332.1 438.9 333.9C440.2 335.6 440.7 340.9 439.8 342.7C438.9 344.4 434.6 346.4 431.9 347.1C429.2 347.8 422.1 346.2 419.5 347.9C417.0 349.7 415.2 358.3 412.5 359.9C409.8 361.5 400.7 360.8 399.3 359.9C397.9 359.0 400.4 355.1 401.9 353.2C403.5 351.4 408.9 348.1 410.7 346.2C412.6 344.3 414.8 340.8 416.0 339.1C417.2 337.5 417.7 335.1 419.5 333.9ZM347.3 334.2C347.3 335.2 347.5 334.9 346.7 335.7C345.8 336.4 346.2 336.3 344.9 336.6C343.6 336.9 344.0 336.9 342.7 336.6C341.4 336.3 341.8 336.4 341.0 335.7C340.1 334.9 340.3 335.2 340.3 334.2C340.3 333.2 340.1 333.5 341.0 332.8C341.8 332.0 341.4 332.2 342.7 331.9C344.0 331.6 343.6 331.6 344.9 331.9C346.2 332.2 345.8 332.0 346.7 332.8C347.5 333.5 347.3 333.2 347.3 334.2Z"/>
<path fill="none" stroke="#0b3b0b" stroke-width="1.7" stroke-linejoin="round" d="M361.1 203.9L359.7 235.2L357.9 270.5L357.0 301.8M335.0 301.8L357.0 301.8L428.3 304.8L427.5 359.9M427.5 352.9L515.0 352.9M361.1 208.1L515.0 208.1"/>
</g>
<g clip-path="url(#t2)">
<path fill="#00c800" d="M510.0 203.9L690.0 203.9L690.0 359.9L510.0 359.9Z"/>
<path fill="#00f400" d="M510.0 203.9C511.6 194.5 519.3 204.3 522.3 205.3C525.4 206.3 529.6 210.2 532.9 211.4C536.2 212.7 544.4 213.3 547.0 215.0C549.6 216.6 550.2 222.8 552.3 223.8C554.4 224.7 559.7 221.9 562.8 222.0C566.0 222.1 572.6 222.5 576.0 224.7C579.5 226.8 584.9 234.3 588.4 237.9C591.9 241.4 600.1 248.3 602.5 251.1C604.8 253.9 608.3 256.7 606.0 259.0C603.6 261.4 588.0 266.7 584.9 268.7C581.7 270.7 580.5 271.9 582.2 274.0C584.0 276.1 595.7 281.7 598.1 284.5C600.4 287.4 600.8 293.2 599.8 295.1C598.9 297.0 593.6 299.1 591.0 298.6C588.4 298.2 583.5 291.6 580.5 291.6C577.4 291.6 570.0 296.8 568.1 298.6C566.2 300.5 565.4 303.3 566.4 305.7C567.3 308.0 575.9 313.4 575.2 316.2C574.5 319.1 564.4 324.2 561.1 326.8C557.8 329.4 555.0 334.4 550.5 335.6C546.0 336.8 531.6 336.3 527.6 335.6C523.6 334.9 521.3 333.2 520.6 330.3C519.9 327.5 520.9 317.3 522.3 314.5C523.7 311.7 530.0 312.7 531.1 309.2C532.3 305.7 532.5 291.4 531.1 288.1C529.7 284.8 522.2 285.5 520.6 284.5C518.9 283.6 520.2 282.2 518.8 281.0C517.4 279.8 511.2 286.0 510.0 275.7C508.8 265.4 508.4 213.3 510.0 203.9Z"/>
<path fill="#009000" d="M545.2 210.6C545.5 210.1 551.6 216.4 555.8 217.6C560.0 218.8 571.3 219.4 576.9 219.4C582.6 219.4 592.9 217.1 598.1 217.6C603.2 218.1 612.4 221.5 615.7 222.9C619.0 224.3 620.6 224.2 622.7 228.2C624.8 232.2 631.5 249.8 631.5 252.8C631.5 255.9 624.8 252.0 622.7 251.1C620.6 250.1 617.6 247.9 615.7 245.8C613.8 243.7 610.5 236.9 608.6 235.2C606.8 233.6 603.2 232.8 601.6 233.5C599.9 234.2 597.2 240.3 596.3 240.5C595.4 240.7 594.3 236.9 594.5 235.2C594.8 233.6 600.4 229.9 598.1 228.2C595.7 226.4 582.8 223.0 576.9 222.0C571.1 221.1 558.3 222.7 554.0 221.1C549.8 219.6 545.0 211.0 545.2 210.6ZM598.1 240.5C598.8 240.7 604.8 250.7 606.9 252.8C609.0 255.0 613.4 254.0 613.9 256.4C614.4 258.7 611.3 267.4 610.4 270.5C609.5 273.5 606.9 275.5 606.9 279.3C606.9 283.0 609.5 293.9 610.4 298.6C611.3 303.3 613.0 310.0 613.9 314.5C614.9 318.9 617.2 328.1 617.4 332.1C617.7 336.1 615.4 340.7 615.7 344.4C615.9 348.1 623.0 357.9 619.2 359.9C615.4 362.0 589.4 361.3 587.5 359.9C585.6 358.6 601.6 352.2 605.1 349.7C608.6 347.2 613.0 344.4 613.9 340.9C614.9 337.4 612.9 328.0 612.2 323.3C611.4 318.6 609.6 311.5 608.6 305.7C607.7 299.8 605.1 285.1 605.1 279.3C605.1 273.4 609.1 265.4 608.6 261.6C608.2 257.9 603.0 253.9 601.6 251.1C600.2 248.3 597.4 240.3 598.1 240.5ZM606.5 328.6C606.5 329.8 606.6 329.4 605.9 330.4C605.2 331.4 605.5 331.2 604.3 331.6C603.1 332.0 603.5 332.0 602.4 331.6C601.2 331.2 601.5 331.4 600.8 330.4C600.1 329.4 600.2 329.8 600.2 328.6C600.2 327.3 600.1 327.7 600.8 326.7C601.5 325.7 601.2 325.9 602.4 325.6C603.5 325.2 603.1 325.2 604.3 325.6C605.5 325.9 605.2 325.7 605.9 326.7C606.6 327.7 606.5 327.3 606.5 328.6Z"/>
<path fill="#ffff00" d="M538.2 203.9C552.7 203.2 674.8 188.3 690.0 203.9C705.2 219.5 697.1 344.3 690.0 359.9C682.9 375.5 626.6 361.5 619.2 359.9C611.8 358.4 615.9 347.2 615.7 344.4C615.5 341.6 617.6 335.1 617.4 332.1C617.3 329.1 614.6 317.8 613.9 314.5C613.2 311.1 611.1 302.2 610.4 298.6C609.7 295.1 606.9 282.1 606.9 279.3C606.9 276.4 609.7 272.7 610.4 270.5C611.1 268.2 614.3 258.1 613.9 256.4C613.6 254.6 608.5 254.4 606.9 252.8C605.3 251.3 598.6 242.4 598.1 240.5C597.5 238.6 600.5 234.0 601.6 233.5C602.6 232.9 607.2 234.0 608.6 235.2C610.0 236.5 614.3 244.2 615.7 245.8C617.1 247.4 621.1 250.4 622.7 251.1C624.3 251.8 631.2 254.1 631.5 252.8C631.9 251.6 627.1 241.2 626.2 238.7C625.4 236.3 623.8 229.8 622.7 228.2C621.7 226.6 618.1 224.0 615.7 222.9C613.2 221.8 601.9 218.0 598.1 217.6C594.2 217.3 581.2 219.4 576.9 219.4C572.7 219.4 559.0 218.5 555.8 217.6C552.6 216.7 547.0 211.9 545.2 210.6C543.5 209.2 523.7 204.5 538.2 203.9Z"/>
<path fill="#009000" d="M615.7 203.9C616.9 201.3 624.3 201.1 626.2 203.9C628.2 206.6 626.6 215.0 625.4 217.6C624.1 220.2 622.0 219.5 620.1 216.7C618.1 214.0 614.4 206.4 615.7 203.9ZM575.2 203.9C578.7 202.9 594.2 202.9 598.1 203.9C601.9 204.9 598.1 207.8 594.5 208.8C591.0 209.8 584.3 209.8 580.5 208.8C576.6 207.8 571.6 204.9 575.2 203.9ZM557.6 203.9C559.3 202.7 567.8 202.9 569.9 203.9C572.0 204.9 569.9 207.6 568.1 208.8C566.4 210.0 563.2 210.7 561.1 209.7C559.0 208.7 555.8 205.0 557.6 203.9ZM621.0 217.6C620.7 216.0 626.7 216.4 629.8 217.6C632.8 218.8 639.2 224.1 643.9 226.4C648.6 228.8 661.2 232.2 665.0 235.2C668.7 238.3 671.3 244.1 672.0 249.3C672.7 254.5 671.4 267.6 670.3 274.0C669.1 280.3 663.8 291.7 663.2 296.9C662.6 302.0 666.0 310.0 665.9 312.7C665.8 315.4 663.6 319.0 662.3 317.1C661.1 315.2 657.7 304.9 656.2 298.6C654.7 292.4 652.1 276.6 650.9 270.5C649.7 264.3 648.8 257.1 647.4 252.8C646.0 248.6 642.4 241.8 640.3 238.7C638.2 235.7 634.1 232.8 631.5 229.9C628.9 227.1 621.2 219.3 621.0 217.6ZM677.3 203.9C679.9 202.5 688.3 197.6 690.0 203.9C691.7 210.2 691.0 246.0 690.0 251.1C689.0 256.2 684.5 245.6 682.6 242.3C680.7 239.0 677.2 230.2 675.6 226.4C673.9 222.7 670.0 217.1 670.3 214.1C670.5 211.1 674.7 205.2 677.3 203.9ZM663.2 344.4C664.6 342.6 675.5 346.3 679.1 346.2C682.6 346.1 688.5 341.7 690.0 343.5C691.5 345.4 692.9 357.7 690.0 359.9C687.1 362.1 672.1 362.0 668.5 359.9C664.9 357.9 661.8 346.3 663.2 344.4Z"/>
<path fill="#00c800" d="M636.8 226.4C638.0 225.7 647.1 231.6 650.9 233.5C654.7 235.3 662.6 237.9 665.0 240.5C667.3 243.1 668.3 248.4 668.5 252.8C668.7 257.3 667.9 268.8 666.8 274.0C665.6 279.1 661.4 291.6 659.7 291.6C658.1 291.6 655.8 279.1 654.4 274.0C653.0 268.8 650.8 257.5 649.1 252.8C647.5 248.1 643.7 242.3 642.1 238.7C640.5 235.2 635.6 227.1 636.8 226.4Z"/>
<path fill="#e8c000" d="M603.3 205.3C605.5 203.9 609.7 204.6 612.2 207.0C614.6 209.5 616.4 215.1 615.7 217.6C615.0 220.1 611.4 220.1 608.6 219.4C605.8 218.7 602.6 216.9 601.6 214.1C600.5 211.3 601.2 206.7 603.3 205.3ZM633.3 203.9C636.8 202.5 652.7 201.8 657.9 203.9C663.2 205.9 661.1 211.3 659.7 214.1C658.3 216.8 654.8 218.3 650.9 217.6C647.0 216.9 643.9 213.3 640.3 210.6C636.8 207.8 629.8 205.2 633.3 203.9ZM629.8 235.2C630.5 232.4 634.0 233.1 636.8 235.2C639.6 237.3 641.4 238.7 643.9 245.8C646.3 252.8 649.1 264.8 649.1 270.5C649.1 276.1 646.3 275.7 643.9 274.0C641.4 272.2 638.9 266.6 636.8 261.6C634.7 256.7 634.7 254.6 633.3 249.3C631.9 244.0 629.1 238.0 629.8 235.2ZM613.9 288.1C615.3 284.5 622.6 278.2 624.5 277.5C626.4 276.8 627.8 280.4 628.0 282.8C628.2 285.1 625.8 292.1 626.2 295.1C626.7 298.2 629.6 304.7 631.5 305.7C633.4 306.6 638.9 304.0 640.3 302.2C641.7 300.3 640.9 293.9 642.1 291.6C643.3 289.2 648.0 283.6 649.1 284.5C650.3 285.5 650.4 294.9 650.9 298.6C651.4 302.4 652.0 309.4 652.7 312.7C653.4 316.0 656.4 320.5 656.2 323.3C655.9 326.1 650.9 331.0 650.9 333.9C650.9 336.7 655.0 340.9 656.2 344.4C657.4 347.9 664.2 357.9 659.7 359.9C655.2 362.0 627.4 362.5 622.7 359.9C618.0 357.4 624.5 345.8 624.5 340.9C624.5 336.0 622.5 327.5 622.7 323.3C623.0 319.1 626.7 310.6 626.2 309.2C625.8 307.8 620.8 313.4 619.2 312.7C617.6 312.0 614.6 307.2 613.9 303.9C613.2 300.6 612.5 291.6 613.9 288.1ZM679.1 284.5C682.0 278.6 687.8 265.9 690.0 275.7C692.2 285.6 691.5 324.3 690.0 333.9C688.5 343.4 685.5 328.9 682.6 323.3C679.7 317.7 676.3 313.4 675.6 305.7C674.9 297.9 676.2 290.5 679.1 284.5ZM538.2 203.9C538.9 202.5 547.0 202.5 550.5 203.9C554.0 205.2 552.3 208.0 555.8 210.6C559.3 213.1 568.1 215.5 568.1 216.7C568.1 218.0 560.0 218.0 555.8 216.7C551.6 215.5 550.5 213.1 547.0 210.6C543.5 208.0 537.5 205.2 538.2 203.9Z"/>
<path fill="#ff9000" d="M633.3 238.7C634.0 236.6 637.9 239.5 640.3 242.3C642.8 245.1 644.9 247.2 645.6 252.8C646.3 258.5 644.9 267.6 643.9 270.5C642.8 273.3 641.7 270.5 640.3 266.9C638.9 263.4 638.2 258.5 636.8 252.8C635.4 247.2 632.6 240.9 633.3 238.7Z"/>
<path fill="#0000f0" d="M510.0 203.9C511.2 194.5 516.5 204.0 518.8 205.3C521.2 206.5 524.8 211.7 527.6 213.2C530.4 214.7 537.6 215.7 539.9 216.7C542.3 217.8 544.2 219.6 545.2 221.1C546.3 222.7 546.5 227.0 547.9 228.2C549.3 229.4 553.6 230.4 555.8 229.9C558.0 229.5 562.3 224.9 564.6 224.7C566.9 224.4 570.8 226.2 573.4 228.2C576.0 230.2 581.2 236.6 584.0 239.6C586.8 242.7 592.4 248.8 594.5 251.1C596.7 253.3 599.6 255.0 599.8 256.4C600.1 257.8 597.9 261.6 596.3 261.6C594.7 261.6 589.8 257.5 587.5 256.4C585.1 255.2 580.8 252.4 578.7 252.8C576.6 253.3 573.1 257.8 571.6 259.9C570.2 262.0 570.2 266.2 568.1 268.7C566.0 271.2 559.3 278.1 555.8 278.4C552.3 278.6 545.5 271.6 541.7 270.5C537.9 269.3 531.8 268.9 527.6 269.6C523.4 270.3 512.3 284.5 510.0 275.7C507.7 267.0 508.8 213.3 510.0 203.9ZM547.0 303.9C547.7 302.7 551.9 298.5 554.0 296.9C556.1 295.2 560.6 292.4 562.8 291.6C565.1 290.8 569.8 290.5 570.8 290.7C571.7 290.9 571.2 292.1 569.9 293.3C568.6 294.6 563.0 298.6 561.1 300.4C559.2 302.2 557.4 305.9 555.8 306.6C554.1 307.3 549.9 306.0 548.7 305.7C547.6 305.3 546.3 305.1 547.0 303.9ZM541.4 323.3C541.4 323.8 541.5 323.7 540.7 324.1C540.0 324.6 540.3 324.5 539.2 324.6C538.0 324.8 538.4 324.8 537.2 324.6C536.0 324.5 536.3 324.6 535.6 324.1C534.9 323.7 535.0 323.8 535.0 323.3C535.0 322.7 534.9 322.9 535.6 322.5C536.3 322.0 536.0 322.1 537.2 321.9C538.4 321.8 538.0 321.8 539.2 321.9C540.3 322.1 540.0 322.0 540.7 322.5C541.5 322.9 541.4 322.7 541.4 323.3Z"/>
<path fill="#00a0f0" d="M510.0 209.7C511.4 201.4 518.0 208.9 520.6 209.7C523.2 210.5 527.3 214.6 529.4 215.9C531.5 217.1 535.2 217.7 536.4 219.4C537.6 221.0 536.5 226.5 538.2 228.2C539.8 229.8 545.5 231.9 548.7 231.7C552.0 231.5 559.8 226.7 562.8 226.4C565.9 226.2 569.3 228.1 571.6 229.9C574.0 231.8 578.1 238.2 580.5 240.5C582.8 242.9 590.2 246.3 589.3 247.6C588.3 248.8 576.2 248.8 573.4 250.2C570.6 251.6 569.1 256.1 568.1 258.1C567.2 260.1 568.2 262.8 566.4 265.2C564.5 267.5 557.3 275.4 554.0 275.7C550.7 276.1 545.2 269.0 541.7 267.8C538.2 266.6 531.8 266.3 527.6 266.9C523.4 267.5 512.3 279.8 510.0 272.2C507.7 264.6 508.6 218.0 510.0 209.7Z"/>
<path fill="none" stroke="#0b3b0b" stroke-width="1.7" stroke-linejoin="round" d="M510.0 208.1L555.8 208.8L562.8 214.1L575.2 218.5L576.9 215.9L598.1 215.0L608.6 219.4L615.7 222.9L622.7 229.9L629.8 233.5L633.3 245.8L640.3 258.1L645.6 277.5L649.1 286.3L652.7 302.2L652.7 314.5L657.9 323.3L661.5 333.9L668.5 339.1L672.0 346.2L679.1 353.2L686.1 355.0L690.0 356.8M626.2 203.9L624.5 214.1L621.0 219.4L622.7 228.2M657.9 321.5L690.0 320.6M510.0 352.9L576.9 351.8L608.6 350.6L672.0 349.4"/>
</g>
<g clip-path="url(#t3)">
<path fill="#00c800" d="M685.0 203.9L865.0 203.9L865.0 359.9L685.0 359.9Z"/>
<path fill="#009000" d="M685.0 203.9C694.8 191.9 772.2 202.5 782.7 203.9C793.3 205.2 788.5 215.0 790.7 217.6C792.9 220.2 801.9 227.8 804.8 229.9C807.6 232.1 816.2 237.3 818.9 238.7C821.5 240.2 828.7 243.2 831.2 244.0C833.6 244.9 841.8 248.4 843.5 247.6C845.3 246.7 847.7 236.5 848.8 235.2C849.9 234.0 854.4 234.2 855.0 235.2C855.5 236.3 854.9 243.3 854.1 245.8C853.3 248.3 848.6 257.9 847.0 259.9C845.5 261.8 840.5 264.3 838.2 265.2C835.9 266.0 825.7 267.3 824.1 268.7C822.6 270.1 822.4 276.6 822.4 279.3C822.4 281.9 824.8 293.2 824.1 295.1C823.4 297.0 816.9 298.3 815.3 298.6C813.7 299.0 810.4 299.2 808.3 298.6C806.2 298.1 797.4 293.6 794.2 293.3C791.0 293.1 778.9 296.3 776.6 296.0C774.3 295.6 772.9 291.1 771.3 289.8C769.7 288.5 762.8 284.0 760.7 282.8C758.6 281.5 752.5 277.1 750.2 277.5C747.9 277.8 738.4 284.5 737.8 286.3C737.3 288.1 744.0 293.2 744.9 295.1C745.8 297.0 745.8 303.7 746.6 305.7C747.5 307.6 757.6 313.3 753.7 314.5C749.8 315.6 714.8 316.2 707.9 317.1C701.0 318.0 687.3 334.6 685.0 323.3C682.7 312.0 675.2 215.8 685.0 203.9ZM744.9 315.4C746.3 309.4 752.4 314.5 755.5 315.4C758.5 316.2 764.0 320.9 767.8 321.5C771.5 322.1 779.6 320.7 783.6 319.8C787.6 318.8 794.4 315.0 797.7 314.5C801.0 314.0 805.7 315.3 808.3 316.2C810.9 317.2 816.6 319.2 817.1 321.5C817.6 323.9 812.0 331.3 811.8 333.9C811.6 336.4 815.8 340.2 815.3 340.9C814.9 341.6 810.2 340.5 808.3 339.1C806.4 337.7 803.6 332.7 801.2 330.3C798.9 328.0 793.5 322.5 790.7 321.5C787.9 320.6 782.7 322.6 780.1 323.3C777.5 324.0 772.7 324.9 771.3 326.8C769.9 328.7 771.2 335.5 769.5 337.4C767.9 339.3 760.9 337.9 759.0 340.9C757.1 343.9 757.3 357.4 755.5 359.9C753.6 362.5 746.3 365.9 744.9 359.9C743.5 354.0 743.5 321.3 744.9 315.4ZM817.1 347.9C818.2 345.9 822.7 347.3 825.9 349.7C829.1 352.1 834.0 357.9 832.9 359.9C831.9 362.0 823.8 362.3 820.6 359.9C817.4 357.5 816.0 350.0 817.1 347.9Z"/>
<path fill="#ffff00" d="M707.9 203.9C709.1 203.0 721.4 202.0 723.7 203.9C726.1 205.7 726.0 215.5 725.5 217.6C725.0 219.7 721.6 220.3 720.2 219.4C718.8 218.4 716.6 212.6 714.9 210.6C713.3 208.5 706.7 204.8 707.9 203.9ZM685.0 244.0C687.1 233.5 697.8 243.4 700.9 242.3C703.9 241.1 706.0 235.9 707.9 235.2C709.8 234.5 713.1 235.6 714.9 237.0C716.8 238.4 720.3 243.7 722.0 245.8C723.6 247.9 726.3 250.0 727.3 252.8C728.2 255.7 727.2 264.1 729.0 266.9C730.9 269.7 740.0 272.3 741.4 274.0C742.8 275.6 741.2 277.8 739.6 279.3C738.0 280.7 731.6 281.5 729.0 284.5C726.4 287.6 723.3 298.6 720.2 302.2C717.2 305.7 707.8 309.0 706.1 311.0C704.5 313.0 710.7 315.7 707.9 317.1C705.1 318.5 688.1 331.3 685.0 321.5C681.9 311.8 682.9 254.6 685.0 244.0ZM744.9 217.6C745.6 215.4 749.8 214.3 751.9 215.0C754.0 215.7 757.4 221.1 760.7 222.9C764.0 224.7 773.1 227.0 776.6 228.2C780.1 229.4 784.3 230.1 787.2 231.7C790.0 233.3 793.5 238.9 797.7 240.5C801.9 242.2 813.9 242.6 818.9 244.0C823.8 245.4 831.5 250.0 834.7 251.1C837.9 252.1 841.9 250.8 842.6 252.0C843.3 253.1 842.5 258.2 840.0 259.9C837.5 261.5 828.1 263.3 824.1 264.3C820.1 265.2 812.4 267.5 810.0 266.9C807.7 266.3 807.2 261.8 806.5 259.9C805.8 258.0 805.9 253.3 804.8 252.8C803.6 252.4 799.1 254.7 797.7 256.4C796.3 258.0 796.5 263.3 794.2 265.2C791.8 267.0 782.9 268.3 780.1 270.5C777.3 272.6 775.4 279.6 773.1 281.0C770.7 282.4 764.8 282.2 762.5 281.0C760.1 279.8 757.6 273.9 755.5 272.2C753.3 270.6 747.9 271.3 746.6 268.7C745.4 266.1 745.8 257.8 745.8 252.8C745.8 247.9 746.8 236.4 746.6 231.7C746.5 227.0 744.2 219.8 744.9 217.6ZM685.0 321.5C687.3 317.5 703.7 319.9 707.9 319.8C712.1 319.6 724.8 319.1 727.3 319.8C729.7 320.5 731.7 327.0 732.6 326.8C733.4 326.6 734.6 319.1 736.1 318.0C737.6 316.9 746.4 314.0 747.5 316.2C748.7 318.5 747.8 336.5 747.5 340.9C747.3 345.3 751.1 358.0 744.9 359.9C738.6 361.8 691.0 363.8 685.0 359.9C679.0 356.1 682.7 325.5 685.0 321.5Z"/>
<path fill="#009000" d="M773.6 246.1C773.6 247.2 773.7 246.9 772.9 247.7C772.1 248.5 772.5 248.3 771.2 248.7C769.8 249.0 770.3 249.0 769.0 248.7C767.7 248.3 768.0 248.5 767.2 247.7C766.4 246.9 766.5 247.2 766.5 246.1C766.5 245.1 766.4 245.4 767.2 244.6C768.0 243.8 767.7 244.0 769.0 243.6C770.3 243.3 769.8 243.3 771.2 243.6C772.5 244.0 772.1 243.8 772.9 244.6C773.7 245.4 773.6 245.1 773.6 246.1ZM683.2 203.9C683.9 202.5 703.7 202.9 704.4 203.9C705.1 204.9 704.6 232.2 704.4 233.5C704.1 234.7 698.0 241.0 697.3 241.4C696.6 241.7 683.7 245.3 683.2 244.0C682.8 242.8 682.5 205.2 683.2 203.9ZM685.0 344.4C686.1 342.4 688.9 346.6 690.3 349.7C691.7 352.8 693.1 357.9 692.0 359.9C691.0 362.0 686.4 363.0 685.0 359.9C683.6 356.8 683.9 346.5 685.0 344.4Z"/>
<path fill="#00c800" d="M790.7 277.0C790.7 278.5 790.9 278.0 789.7 279.2C788.6 280.5 789.1 280.2 787.3 280.7C785.4 281.1 786.1 281.1 784.2 280.7C782.4 280.2 782.9 280.5 781.8 279.2C780.6 278.0 780.8 278.5 780.8 277.0C780.8 275.4 780.6 275.9 781.8 274.7C782.9 273.5 782.4 273.8 784.2 273.3C786.1 272.8 785.4 272.8 787.3 273.3C789.1 273.8 788.6 273.5 789.7 274.7C790.9 275.9 790.7 275.4 790.7 277.0ZM818.0 275.4C818.0 277.1 818.2 276.6 817.0 278.0C815.7 279.4 816.3 279.0 814.3 279.6C812.4 280.1 813.0 280.1 811.1 279.6C809.1 279.0 809.6 279.4 808.4 278.0C807.2 276.6 807.4 277.1 807.4 275.4C807.4 273.7 807.2 274.2 808.4 272.8C809.6 271.4 809.1 271.7 811.1 271.2C813.0 270.7 812.4 270.7 814.3 271.2C816.3 271.7 815.7 271.4 817.0 272.8C818.2 274.2 818.0 273.7 818.0 275.4Z"/>
<path fill="#e8c000" d="M685.0 277.5C686.8 273.8 699.4 278.7 702.6 279.3C705.9 279.8 716.2 281.5 717.6 282.8C719.0 284.0 717.7 289.8 716.7 291.6C715.7 293.3 709.7 299.5 707.9 300.4C706.1 301.3 700.7 299.2 699.1 300.4C697.5 301.6 693.5 311.1 692.0 312.7C690.6 314.3 685.7 319.8 685.0 316.2C684.3 312.7 683.2 281.2 685.0 277.5ZM685.0 323.3C688.3 319.4 714.9 321.0 718.5 321.5C722.0 322.1 720.6 326.6 720.2 328.6C719.9 330.5 715.3 338.8 714.9 340.9C714.6 343.0 718.3 348.1 716.7 349.7C715.1 351.3 701.2 355.7 699.1 356.8C697.0 357.8 697.0 359.6 695.6 359.9C694.2 360.2 686.1 363.6 685.0 359.9C683.9 356.3 681.7 327.1 685.0 323.3ZM741.7 343.5C741.7 347.7 741.8 346.4 741.4 349.8C741.0 353.1 741.2 352.3 740.5 353.6C739.8 354.9 740.1 354.9 739.4 353.6C738.8 352.3 738.9 353.1 738.5 349.8C738.1 346.4 738.2 347.7 738.2 343.5C738.2 339.4 738.1 340.7 738.5 337.3C738.9 334.0 738.8 334.8 739.4 333.5C740.1 332.2 739.8 332.2 740.5 333.5C741.2 334.8 741.0 334.0 741.4 337.3C741.8 340.7 741.7 339.4 741.7 343.5Z"/>
<path fill="#ffff00" d="M814.5 288.1C814.5 289.1 814.6 288.8 813.8 289.6C813.0 290.5 813.3 290.3 812.0 290.6C810.7 290.9 811.2 290.9 809.8 290.6C808.5 290.3 808.9 290.5 808.1 289.6C807.3 288.8 807.4 289.1 807.4 288.1C807.4 287.0 807.3 287.3 808.1 286.5C808.9 285.7 808.5 285.9 809.8 285.6C811.2 285.2 810.7 285.2 812.0 285.6C813.3 285.9 813.0 285.7 813.8 286.5C814.6 287.3 814.5 287.0 814.5 288.1ZM790.7 288.4C790.7 288.8 790.9 288.7 789.5 289.0C788.1 289.4 788.7 289.3 786.4 289.4C784.1 289.5 784.9 289.5 782.6 289.4C780.3 289.3 780.9 289.4 779.5 289.0C778.1 288.7 778.3 288.8 778.3 288.4C778.3 288.0 778.1 288.1 779.5 287.8C780.9 287.5 780.3 287.5 782.6 287.4C784.9 287.3 784.1 287.3 786.4 287.4C788.7 287.5 788.1 287.5 789.5 287.8C790.9 288.1 790.7 288.0 790.7 288.4ZM852.0 240.9C852.0 242.1 852.0 241.7 851.7 242.7C851.4 243.7 851.5 243.5 851.0 243.9C850.5 244.3 850.6 244.3 850.1 243.9C849.6 243.5 849.7 243.7 849.4 242.7C849.1 241.7 849.1 242.1 849.1 240.9C849.1 239.6 849.1 240.0 849.4 239.0C849.7 238.0 849.6 238.2 850.1 237.8C850.6 237.5 850.5 237.5 851.0 237.8C851.5 238.2 851.4 238.0 851.7 239.0C852.0 240.0 852.0 239.6 852.0 240.9ZM813.9 330.3C813.9 331.7 814.0 331.3 813.5 332.4C813.0 333.5 813.3 333.3 812.5 333.7C811.7 334.1 811.9 334.1 811.2 333.7C810.4 333.3 810.6 333.5 810.1 332.4C809.6 331.3 809.7 331.7 809.7 330.3C809.7 329.0 809.6 329.4 810.1 328.3C810.6 327.1 810.4 327.4 811.2 327.0C811.9 326.6 811.7 326.6 812.5 327.0C813.3 327.4 813.0 327.1 813.5 328.3C814.0 329.4 813.9 329.0 813.9 330.3Z"/>
<path fill="none" stroke="#0b3b0b" stroke-width="1.7" stroke-linejoin="round" d="M685.0 321.5L744.9 316.2L803.0 311.8L815.3 321.5M816.2 203.9L818.9 208.8L831.2 211.4L834.7 217.6L856.7 215.5M834.7 217.6L841.8 222.9L845.3 229.9L851.4 233.5L852.3 242.3L848.8 251.1L847.0 259.9L838.2 265.2L825.9 268.7L823.3 274.0L824.1 281.0L828.5 286.3L829.4 291.6L825.9 298.6L825.0 305.7L815.3 311.8L816.2 318.0L815.3 321.5L812.7 326.8L814.5 337.4L817.1 347.9L824.1 355.0L831.2 359.9"/>
</g>
<g clip-path="url(#t4)">
<path fill="#00c800" d="M163.9 355.0C175.1 333.7 236.6 352.7 248.1 355.0C259.5 357.3 250.5 368.4 249.8 372.6C249.1 376.8 242.5 382.0 242.8 386.7C243.0 391.4 248.5 403.4 251.6 407.8C254.6 412.3 261.4 417.8 265.7 420.2C269.9 422.5 280.7 423.8 283.3 425.5C285.9 427.1 286.5 430.9 285.0 432.5C283.6 434.1 275.1 435.9 272.7 437.8C270.4 439.7 267.4 443.5 267.4 446.6C267.4 449.6 270.6 457.4 272.7 460.7C274.8 464.0 280.5 469.4 283.3 471.2C286.1 473.1 291.5 475.0 293.9 474.8C296.2 474.5 299.5 468.5 300.9 469.5C302.3 470.4 304.9 479.2 304.4 481.8C304.0 484.4 292.6 487.4 297.4 488.9C302.1 490.3 334.3 488.9 340.0 492.4C345.7 495.9 363.5 511.9 340.0 514.9C316.5 517.9 187.4 536.2 163.9 514.9C140.4 493.6 152.6 376.3 163.9 355.0ZM278.0 384.9C279.4 380.4 283.3 379.3 286.8 379.7C290.3 380.0 293.2 382.8 295.6 386.7C298.1 390.6 299.5 394.5 299.1 399.0C298.8 403.6 296.3 407.1 293.9 409.6C291.4 412.1 289.6 412.8 286.8 411.4C284.0 410.0 281.5 407.8 279.8 402.6C278.0 397.3 276.6 389.5 278.0 384.9ZM307.9 421.9C309.4 418.8 315.7 416.3 318.5 413.1C321.3 410.0 319.9 407.8 322.0 406.1C324.1 404.3 325.5 404.0 329.1 404.3C332.7 404.7 337.8 401.1 340.0 407.8C342.2 414.5 342.2 432.1 340.0 437.8C337.8 443.4 333.4 436.0 329.1 436.0C324.8 436.0 322.0 439.2 318.5 437.8C315.0 436.4 313.6 432.1 311.5 429.0C309.4 425.8 306.5 425.1 307.9 421.9ZM309.7 458.9C310.4 455.7 313.9 453.3 318.5 451.9C323.1 450.5 329.4 449.4 332.6 451.9C335.8 454.3 335.4 460.7 334.4 464.2C333.3 467.7 331.2 468.8 327.3 469.5C323.4 470.2 318.5 469.8 315.0 467.7C311.5 465.6 309.0 462.1 309.7 458.9ZM340.0 399.0C338.5 387.3 331.9 401.4 329.1 402.6C326.2 403.7 321.1 405.5 318.5 407.8C315.9 410.2 311.4 416.9 309.7 420.2C308.1 423.5 305.9 428.0 306.2 432.5C306.4 437.0 311.5 448.9 311.5 453.6C311.5 458.3 306.7 464.4 306.2 467.7C305.7 471.0 306.8 475.5 307.9 478.3C309.1 481.1 310.7 487.2 315.0 488.9C319.3 490.5 336.7 502.6 340.0 490.6C343.3 478.6 341.5 410.8 340.0 399.0ZM318.5 480.0C318.9 476.9 324.1 475.1 327.3 474.8C330.5 474.4 333.0 475.8 334.4 478.3C335.8 480.8 336.1 484.6 334.4 487.1C332.6 489.6 328.7 492.0 325.6 490.6C322.4 489.2 318.2 483.2 318.5 480.0ZM309.7 355.0C314.7 351.8 333.9 349.4 340.0 355.0C346.1 360.6 341.5 377.5 340.0 383.2C338.5 388.8 335.5 384.9 332.6 383.2C329.7 381.4 329.1 376.8 325.6 374.4C322.0 371.9 318.2 374.7 315.0 370.9C311.8 367.0 304.7 358.2 309.7 355.0ZM248.1 355.0C250.5 353.2 262.5 353.2 265.7 355.0C268.8 356.8 266.4 362.0 263.9 363.8C261.4 365.6 256.5 365.6 253.3 363.8C250.2 362.0 245.6 356.8 248.1 355.0Z"/>
<path fill="#00f400" d="M170.6 355.0C172.2 353.6 178.9 359.9 179.4 362.0C179.8 364.2 174.1 368.7 174.1 370.9C174.1 373.0 177.7 375.5 179.4 377.9C181.0 380.2 186.7 386.1 186.4 388.5C186.2 390.8 180.2 393.2 177.6 395.5C175.0 397.9 168.9 405.8 167.0 406.1C165.2 406.3 163.9 401.7 163.9 397.3C163.9 392.8 166.2 378.2 167.0 372.6C167.9 367.0 168.9 356.4 170.6 355.0ZM186.4 423.3C186.4 425.4 186.6 424.8 185.7 426.4C184.9 428.1 185.3 427.7 184.0 428.4C182.7 429.0 183.1 429.0 181.8 428.4C180.5 427.7 180.9 428.1 180.0 426.4C179.2 424.8 179.4 425.4 179.4 423.3C179.4 421.3 179.2 421.9 180.0 420.2C180.9 418.6 180.5 419.0 181.8 418.3C183.1 417.7 182.7 417.7 184.0 418.3C185.3 419.0 184.9 418.6 185.7 420.2C186.6 421.9 186.4 421.3 186.4 423.3ZM195.2 455.4C196.6 451.9 201.2 449.8 204.0 450.1C206.8 450.5 206.1 455.0 209.3 457.2C212.5 459.3 215.7 461.4 219.9 460.7C224.1 460.0 227.3 455.0 230.5 453.6C233.6 452.2 235.7 451.5 235.7 453.6C235.7 455.7 234.0 461.4 230.5 464.2C226.9 467.0 224.8 467.0 218.1 467.7C211.4 468.4 201.6 470.2 197.0 467.7C192.4 465.3 193.8 458.9 195.2 455.4ZM299.1 494.1C303.0 489.6 312.5 492.0 318.5 492.4C324.5 492.7 327.0 491.4 329.1 495.9C331.2 500.4 335.1 511.1 329.1 514.9C323.1 518.7 305.1 519.1 299.1 514.9C293.2 510.8 295.3 498.6 299.1 494.1Z"/>
<path fill="#009000" d="M290.7 393.7C290.7 395.7 290.9 395.1 289.7 396.6C288.5 398.2 289.0 397.8 287.0 398.4C285.1 399.0 285.7 399.0 283.8 398.4C281.8 397.8 282.3 398.2 281.1 396.6C279.9 395.1 280.1 395.7 280.1 393.7C280.1 391.8 279.9 392.4 281.1 390.8C282.3 389.3 281.8 389.7 283.8 389.1C285.7 388.5 285.1 388.5 287.0 389.1C289.0 389.7 288.5 389.3 289.7 390.8C290.9 392.4 290.7 391.8 290.7 393.7ZM174.1 370.9C175.7 369.4 188.2 369.0 191.7 367.3C195.2 365.7 200.0 360.2 200.5 358.5C201.0 356.9 190.1 355.5 195.2 355.0C200.4 354.5 233.2 352.7 239.3 355.0C245.4 357.3 242.2 369.1 241.0 372.6C239.8 376.1 232.6 379.1 230.5 381.4C228.3 383.8 226.8 388.3 225.2 390.2C223.5 392.1 220.2 395.5 218.1 395.5C216.0 395.5 211.7 390.7 209.3 390.2C207.0 389.8 202.6 391.3 200.5 392.0C198.4 392.7 195.3 396.0 193.5 395.5C191.6 395.0 188.3 390.8 186.4 388.5C184.5 386.1 181.0 380.2 179.4 377.9C177.7 375.5 172.4 372.3 174.1 370.9ZM167.0 407.8C168.6 407.4 174.4 404.5 175.9 407.8C177.3 411.1 174.6 429.7 177.6 432.5C180.7 435.3 195.5 429.0 198.7 429.0C202.0 429.0 199.7 432.3 202.3 432.5C204.9 432.7 215.5 430.0 218.1 430.7C220.7 431.4 220.7 435.9 221.6 437.8C222.6 439.7 225.6 442.7 225.2 444.8C224.7 446.9 220.2 452.0 218.1 453.6C216.0 455.3 211.2 457.6 209.3 457.2C207.4 456.7 205.9 450.3 204.0 450.1C202.2 449.9 196.2 453.0 195.2 455.4C194.3 457.7 197.9 465.1 197.0 467.7C196.0 470.3 191.7 474.1 188.2 474.8C184.7 475.5 173.8 473.9 170.6 473.0C167.3 472.1 164.8 475.9 163.9 467.7C163.0 459.5 163.5 419.3 163.9 411.4C164.3 403.4 165.4 408.3 167.0 407.8ZM223.4 421.9C223.9 421.2 228.6 427.3 230.5 429.0C232.3 430.6 234.9 433.8 237.5 434.3C240.1 434.7 246.5 432.7 249.8 432.5C253.1 432.3 260.5 431.6 262.2 432.5C263.8 433.4 263.6 437.4 262.2 439.5C260.7 441.7 252.5 445.5 251.6 448.3C250.6 451.2 254.2 456.7 255.1 460.7C256.0 464.7 258.6 475.0 258.6 478.3C258.6 481.6 256.5 484.9 255.1 485.3C253.7 485.8 250.4 483.7 248.1 481.8C245.7 479.9 239.8 473.6 237.5 471.2C235.1 468.9 230.7 466.5 230.5 464.2C230.2 461.8 234.1 456.0 235.7 453.6C237.4 451.3 242.5 448.5 242.8 446.6C243.0 444.7 239.6 441.2 237.5 439.5C235.4 437.9 228.8 436.6 226.9 434.3C225.0 431.9 222.9 422.6 223.4 421.9ZM230.5 397.3C231.5 395.2 234.3 395.2 235.7 397.3C237.1 399.4 238.6 404.0 237.5 407.8C236.4 411.7 233.3 414.5 230.5 416.6C227.6 418.8 223.4 420.2 223.4 418.4C223.4 416.6 229.0 412.1 230.5 407.8C231.9 403.6 229.4 399.4 230.5 397.3ZM255.1 495.9C259.3 491.7 262.2 494.1 269.2 494.1C276.2 494.1 285.4 493.8 290.3 495.9C295.3 498.0 295.3 501.5 293.9 504.7C292.4 507.9 288.9 510.7 283.3 511.8C277.7 512.8 270.6 509.4 265.7 510.0C260.7 510.6 262.2 513.9 258.6 514.9C255.1 515.9 248.8 518.7 248.1 514.9C247.4 511.1 250.9 500.1 255.1 495.9ZM219.6 400.7C221.7 406.4 221.5 404.4 220.4 410.1C219.2 415.8 220.1 414.2 216.1 417.7C212.1 421.1 213.7 420.5 208.4 420.4C203.1 420.4 204.8 421.0 200.3 417.4C195.7 413.8 196.9 415.4 194.8 409.7C192.7 404.0 192.9 405.9 194.0 400.3C195.2 394.6 194.3 396.2 198.3 392.7C202.3 389.3 200.7 389.9 206.0 389.9C211.3 390.0 209.6 389.4 214.1 393.0C218.7 396.6 217.5 395.0 219.6 400.7ZM264.8 357.6C264.8 360.1 265.1 359.3 263.3 361.3C261.5 363.2 262.3 362.8 259.3 363.5C256.4 364.3 257.4 364.3 254.4 363.5C251.5 362.8 252.3 363.2 250.5 361.3C248.6 359.3 248.9 360.1 248.9 357.6C248.9 355.2 248.6 356.0 250.5 354.0C252.3 352.1 251.5 352.5 254.4 351.8C257.4 351.0 256.4 351.0 259.3 351.8C262.3 352.5 261.5 352.1 263.3 354.0C265.1 356.0 264.8 355.2 264.8 357.6ZM332.6 413.1C332.6 416.2 332.8 415.3 331.4 417.8C330.0 420.3 330.6 419.7 328.3 420.7C326.0 421.6 326.8 421.6 324.5 420.7C322.2 419.7 322.9 420.3 321.5 417.8C320.0 415.3 320.3 416.2 320.3 413.1C320.3 410.0 320.0 411.0 321.5 408.5C322.9 406.0 322.2 406.5 324.5 405.6C326.8 404.6 326.0 404.6 328.3 405.6C330.6 406.5 330.0 406.0 331.4 408.5C332.8 411.0 332.6 410.0 332.6 413.1ZM339.1 428.1C339.1 431.0 339.3 430.1 338.0 432.4C336.7 434.8 337.3 434.2 335.2 435.1C333.1 436.0 333.8 436.0 331.7 435.1C329.6 434.2 330.2 434.8 328.9 432.4C327.6 430.1 327.8 431.0 327.8 428.1C327.8 425.2 327.6 426.1 328.9 423.7C330.2 421.4 329.6 422.0 331.7 421.1C333.8 420.2 333.1 420.2 335.2 421.1C337.3 422.0 336.7 421.4 338.0 423.7C339.3 426.1 339.1 425.2 339.1 428.1ZM331.7 459.8C331.7 462.7 332.1 461.8 330.0 464.1C328.0 466.5 328.9 465.9 325.6 466.8C322.4 467.7 323.5 467.7 320.2 466.8C316.9 465.9 317.8 466.5 315.8 464.1C313.8 461.8 314.1 462.7 314.1 459.8C314.1 456.9 313.8 457.8 315.8 455.4C317.8 453.1 316.9 453.7 320.2 452.8C323.5 451.9 322.4 451.9 325.6 452.8C328.9 453.7 328.0 453.1 330.0 455.4C332.1 457.8 331.7 456.9 331.7 459.8ZM334.4 481.8C334.4 484.2 334.6 483.5 333.0 485.4C331.4 487.4 332.1 486.9 329.5 487.7C326.9 488.4 327.8 488.4 325.1 487.7C322.5 486.9 323.2 487.4 321.6 485.4C320.0 483.5 320.3 484.2 320.3 481.8C320.3 479.4 320.0 480.1 321.6 478.2C323.2 476.2 322.5 476.7 325.1 475.9C327.8 475.2 326.9 475.2 329.5 475.9C332.1 476.7 331.4 476.2 333.0 478.2C334.6 480.1 334.4 479.4 334.4 481.8ZM185.5 502.1C185.5 504.5 185.8 503.7 184.4 505.7C182.9 507.6 183.6 507.2 181.3 507.9C179.0 508.7 179.8 508.7 177.5 507.9C175.2 507.2 175.8 507.6 174.4 505.7C173.0 503.7 173.2 504.5 173.2 502.1C173.2 499.6 173.0 500.4 174.4 498.4C175.8 496.5 175.2 496.9 177.5 496.2C179.8 495.5 179.0 495.5 181.3 496.2C183.6 496.9 182.9 496.5 184.4 498.4C185.8 500.4 185.5 499.6 185.5 502.1Z"/>
<path fill="#ffff00" d="M216.3 401.4C217.9 405.8 217.8 404.3 217.0 408.6C216.2 412.9 216.8 411.7 213.9 414.3C211.0 416.9 212.2 416.5 208.3 416.4C204.4 416.3 205.6 416.8 202.2 414.0C198.8 411.2 199.7 412.4 198.1 408.0C196.5 403.6 196.6 405.1 197.4 400.7C198.2 396.4 197.6 397.6 200.5 395.0C203.4 392.4 202.2 392.8 206.1 392.9C210.0 393.1 208.8 392.6 212.2 395.4C215.6 398.2 214.7 396.9 216.3 401.4ZM231.9 371.7C231.9 373.0 232.0 372.6 231.2 373.6C230.4 374.6 230.7 374.4 229.4 374.7C228.1 375.1 228.6 375.1 227.2 374.7C225.9 374.4 226.3 374.6 225.5 373.6C224.7 372.6 224.8 373.0 224.8 371.7C224.8 370.5 224.7 370.9 225.5 369.9C226.3 368.9 225.9 369.1 227.2 368.7C228.6 368.3 228.1 368.3 229.4 368.7C230.7 369.1 230.4 368.9 231.2 369.9C232.0 370.9 231.9 370.5 231.9 371.7ZM262.2 356.8C262.2 358.0 262.4 357.6 261.1 358.6C259.9 359.6 260.5 359.4 258.5 359.8C256.5 360.2 257.2 360.2 255.2 359.8C253.3 359.4 253.8 359.6 252.6 358.6C251.4 357.6 251.6 358.0 251.6 356.8C251.6 355.5 251.4 355.9 252.6 354.9C253.8 353.9 253.3 354.1 255.2 353.7C257.2 353.4 256.5 353.4 258.5 353.7C260.5 354.1 259.9 353.9 261.1 354.9C262.4 355.9 262.2 355.5 262.2 356.8ZM313.2 355.0C315.3 352.5 324.9 352.9 329.1 355.0C333.3 357.1 335.1 362.4 334.4 365.6C333.7 368.7 328.7 370.5 325.6 370.9C322.4 371.2 321.0 370.5 318.5 367.3C316.0 364.2 311.1 357.5 313.2 355.0ZM329.1 413.2C328.5 414.8 328.8 414.4 327.7 415.5C326.6 416.5 327.0 416.3 325.8 416.5C324.7 416.6 325.0 416.7 324.2 415.9C323.4 415.0 323.5 415.4 323.4 413.9C323.3 412.4 323.2 412.9 323.8 411.3C324.4 409.7 324.1 410.1 325.2 409.0C326.3 407.9 325.9 408.1 327.1 408.0C328.2 407.9 327.9 407.7 328.7 408.6C329.5 409.5 329.3 409.1 329.5 410.6C329.6 412.1 329.7 411.6 329.1 413.2ZM336.5 426.1C337.1 427.9 337.0 427.3 336.9 429.1C336.7 430.8 336.9 430.3 336.0 431.3C335.1 432.2 335.5 432.1 334.2 432.0C332.9 431.8 333.3 432.0 332.1 430.8C330.8 429.6 331.2 430.1 330.5 428.3C329.8 426.5 329.9 427.1 330.1 425.4C330.2 423.6 330.1 424.1 331.0 423.1C331.9 422.2 331.5 422.3 332.8 422.5C334.1 422.6 333.7 422.4 334.9 423.6C336.1 424.8 335.8 424.3 336.5 426.1ZM328.6 459.8C328.6 461.7 328.8 461.1 327.5 462.7C326.2 464.3 326.8 463.9 324.7 464.5C322.6 465.1 323.3 465.1 321.2 464.5C319.1 463.9 319.7 464.3 318.4 462.7C317.1 461.1 317.3 461.7 317.3 459.8C317.3 457.9 317.1 458.5 318.4 456.9C319.7 455.3 319.1 455.7 321.2 455.1C323.3 454.5 322.6 454.5 324.7 455.1C326.8 455.7 326.2 455.3 327.5 456.9C328.8 458.5 328.6 457.9 328.6 459.8ZM331.2 481.8C331.2 483.2 331.3 482.8 330.5 483.9C329.6 485.0 330.0 484.7 328.5 485.2C327.1 485.6 327.6 485.6 326.1 485.2C324.7 484.7 325.1 485.0 324.2 483.9C323.3 482.8 323.4 483.2 323.4 481.8C323.4 480.4 323.3 480.9 324.2 479.7C325.1 478.6 324.7 478.9 326.1 478.5C327.6 478.0 327.1 478.0 328.5 478.5C330.0 478.9 329.6 478.6 330.5 479.7C331.3 480.9 331.2 480.4 331.2 481.8ZM201.4 476.5C201.9 474.9 205.3 471.9 207.6 471.2C209.8 470.5 215.8 471.0 218.1 471.2C220.5 471.5 222.6 473.0 225.2 473.0C227.7 473.0 235.1 470.8 237.5 471.2C239.8 471.7 242.1 474.9 242.8 476.5C243.5 478.2 241.4 481.9 242.8 483.6C244.2 485.2 251.9 487.2 253.3 488.9C254.8 490.5 254.5 493.3 253.3 495.9C252.2 498.5 246.7 505.7 244.5 508.2C242.4 510.8 243.4 514.0 237.5 514.9C231.6 515.8 206.4 516.0 200.5 514.9C194.6 513.8 195.8 508.3 193.5 506.5C191.1 504.6 185.1 503.1 182.9 501.2C180.7 499.3 177.6 494.5 176.7 492.4C175.9 490.3 175.4 486.5 176.7 485.3C178.0 484.2 182.8 483.8 186.4 483.6C190.1 483.3 202.0 484.5 204.0 483.6C206.0 482.6 200.9 478.2 201.4 476.5ZM182.9 502.1C182.9 503.4 183.0 503.0 182.2 504.1C181.4 505.3 181.8 505.0 180.5 505.4C179.1 505.8 179.6 505.8 178.3 505.4C177.0 505.0 177.3 505.3 176.5 504.1C175.7 503.0 175.9 503.4 175.9 502.1C175.9 500.7 175.7 501.1 176.5 500.0C177.3 498.9 177.0 499.1 178.3 498.7C179.6 498.3 179.1 498.3 180.5 498.7C181.8 499.1 181.4 498.9 182.2 500.0C183.0 501.1 182.9 500.7 182.9 502.1Z"/>
<path fill="#e8c000" d="M213.8 402.3C215.0 405.6 214.9 404.5 214.4 407.8C213.9 411.1 214.3 410.2 212.2 412.1C210.1 414.0 211.0 413.7 208.1 413.6C205.3 413.5 206.2 413.8 203.7 411.7C201.2 409.5 201.8 410.4 200.6 407.1C199.4 403.7 199.5 404.8 200.0 401.6C200.5 398.3 200.1 399.2 202.2 397.2C204.3 395.3 203.4 395.6 206.3 395.7C209.1 395.9 208.2 395.5 210.7 397.7C213.2 399.8 212.6 398.9 213.8 402.3ZM316.8 355.0C317.5 352.5 323.4 353.2 325.6 355.0C327.7 356.8 328.0 361.3 327.3 363.8C326.6 366.3 324.1 369.1 322.0 367.3C319.9 365.6 316.0 357.5 316.8 355.0ZM205.8 476.5C207.0 474.9 211.0 473.9 212.8 473.9C214.7 473.9 217.5 476.2 219.9 476.5C222.2 476.9 228.1 476.3 230.5 476.5C232.8 476.8 237.0 477.6 237.5 478.3C238.0 479.0 233.0 480.2 234.0 481.8C234.9 483.5 242.7 488.7 244.5 490.6C246.4 492.5 248.8 493.8 248.1 495.9C247.4 498.0 241.1 503.9 239.3 506.5C237.4 509.0 238.9 513.8 234.0 514.9C229.0 516.0 207.4 516.3 202.3 514.9C197.1 513.6 197.3 507.0 195.2 504.7C193.1 502.4 188.5 499.5 186.4 497.7C184.3 495.8 179.8 492.1 179.4 490.6C178.9 489.1 179.6 486.8 182.9 486.2C186.2 485.6 201.0 487.5 204.0 486.2C207.1 484.9 204.6 478.2 205.8 476.5Z"/>
<path fill="#ff9000" d="M211.3 402.8C212.2 405.3 212.1 404.5 211.9 406.8C211.7 409.1 211.9 408.5 210.7 409.8C209.4 411.2 209.9 411.0 208.1 410.8C206.3 410.6 206.9 410.9 205.2 409.2C203.5 407.6 204.0 408.3 203.1 405.8C202.2 403.4 202.3 404.2 202.5 401.8C202.7 399.5 202.5 400.1 203.7 398.8C205.0 397.5 204.5 397.7 206.3 397.9C208.1 398.1 207.5 397.8 209.2 399.4C210.9 401.0 210.4 400.3 211.3 402.8ZM182.9 487.1C183.8 485.7 190.3 485.1 195.2 485.3C200.2 485.6 216.1 486.7 219.9 488.9C223.6 491.0 222.0 499.1 223.4 501.2C224.8 503.3 229.7 502.9 230.5 504.7C231.2 506.5 232.3 513.6 228.7 514.9C225.0 516.3 207.4 516.3 203.2 514.9C198.9 513.6 199.0 507.2 197.0 504.7C195.0 502.2 190.1 498.2 188.2 495.9C186.3 493.6 182.0 488.5 182.9 487.1Z"/>
<path fill="#ff0000" d="M188.2 489.7C189.1 488.7 196.5 487.9 200.5 488.0C204.5 488.1 215.4 488.9 218.1 490.6C220.8 492.4 220.8 498.8 220.8 501.2C220.8 503.5 218.7 506.4 218.1 508.2C217.5 510.1 217.9 514.0 216.4 514.9C214.8 515.8 208.8 516.3 206.7 514.9C204.6 513.6 202.3 507.2 200.5 504.7C198.7 502.2 195.1 497.9 193.5 495.9C191.8 493.9 187.2 490.8 188.2 489.7Z"/>
<path fill="#d80000" d="M195.2 492.4C196.4 491.0 209.7 491.7 212.8 492.4C216.0 493.1 218.5 495.8 219.0 497.7C219.5 499.5 217.2 504.2 216.4 506.5C215.5 508.8 213.8 513.8 212.8 514.9C211.9 516.0 210.5 516.5 209.3 514.9C208.1 513.3 205.9 506.0 204.0 502.9C202.2 499.9 194.1 493.8 195.2 492.4Z"/>
<path fill="#0000f0" d="M163.9 497.7C164.3 497.0 169.5 503.6 170.6 504.7C171.6 505.9 179.8 514.2 179.4 514.9C178.9 515.6 164.9 516.1 163.9 514.9C162.8 513.8 163.4 498.3 163.9 497.7ZM273.6 443.1C274.3 441.5 278.0 440.7 279.8 440.4C281.5 440.2 285.4 440.6 286.8 441.3C288.2 442.0 288.9 444.4 290.3 445.7C291.7 447.0 296.7 449.2 297.4 451.0C298.1 452.7 296.4 457.2 295.6 458.9C294.8 460.7 292.0 462.8 291.2 464.2C290.4 465.6 290.5 469.5 289.5 469.5C288.4 469.5 284.9 465.6 283.3 464.2C281.6 462.8 278.3 460.6 277.1 458.9C275.9 457.3 275.0 454.0 274.5 451.9C274.0 449.8 272.9 444.6 273.6 443.1ZM338.8 406.1L341.4 406.1L341.4 416.6L338.8 416.6Z"/>
<path fill="#00a0f0" d="M163.9 506.5C164.2 506.1 168.1 509.4 168.8 510.0C169.5 510.6 174.4 514.6 174.1 514.9C173.8 515.3 164.6 515.5 163.9 514.9C163.2 514.4 163.5 506.8 163.9 506.5ZM289.1 453.6C289.1 454.7 289.2 454.3 288.6 455.2C288.0 456.0 288.3 455.8 287.3 456.1C286.3 456.5 286.6 456.5 285.6 456.1C284.7 455.8 284.9 456.0 284.3 455.2C283.7 454.3 283.8 454.7 283.8 453.6C283.8 452.6 283.7 452.9 284.3 452.1C284.9 451.2 284.7 451.4 285.6 451.1C286.6 450.8 286.3 450.8 287.3 451.1C288.3 451.4 288.0 451.2 288.6 452.1C289.2 452.9 289.1 452.6 289.1 453.6Z"/>
<path fill="#009000" d="M233.2 489.0C233.6 489.7 233.6 489.5 233.3 490.4C233.0 491.4 233.2 491.1 232.3 491.9C231.4 492.7 231.8 492.5 230.6 492.8C229.5 493.2 229.8 493.2 228.9 493.0C227.9 492.8 228.1 492.9 227.7 492.2C227.3 491.5 227.3 491.8 227.6 490.8C227.9 489.9 227.7 490.2 228.6 489.4C229.5 488.6 229.1 488.8 230.3 488.4C231.4 488.0 231.1 488.0 232.1 488.3C233.0 488.5 232.8 488.3 233.2 489.0Z"/>
<path fill="none" stroke="#0b3b0b" stroke-width="1.7" stroke-linejoin="round" d="M163.9 481.5L230.5 486.2L340.0 492.4M170.6 355.0L166.2 390.2L163.9 413.1"/>
</g>
<g clip-path="url(#t5)">
<path fill="#00c800" d="M335.0 355.0L515.0 355.0L515.0 514.9L335.0 514.9Z"/>
<path fill="#00f400" d="M391.4 355.0C391.6 354.3 394.8 362.2 396.6 363.8C398.5 365.5 402.6 367.6 405.5 367.3C408.3 367.1 415.0 362.7 417.8 362.0C420.6 361.3 425.4 359.5 426.6 362.0C427.8 364.6 427.5 378.4 426.6 381.4C425.6 384.5 421.7 384.5 419.5 384.9C417.4 385.4 413.3 385.9 410.7 384.9C408.2 384.0 402.3 380.0 400.2 377.9C398.1 375.8 396.1 372.1 394.9 369.1C393.7 366.0 391.1 355.7 391.4 355.0ZM426.6 355.0C428.7 353.2 456.4 354.3 458.3 355.0C460.2 355.7 455.4 363.8 454.8 365.6C454.2 367.3 451.4 380.4 449.5 381.4C447.6 382.5 428.1 383.2 426.6 381.4C425.1 379.7 424.5 356.8 426.6 355.0ZM335.0 390.2C336.4 385.5 342.0 387.4 345.6 386.7C349.1 386.0 358.1 384.7 361.4 384.9C364.7 385.2 368.3 386.8 370.2 388.5C372.1 390.1 375.5 394.0 375.5 397.3C375.5 400.6 372.6 410.3 370.2 413.1C367.9 415.9 361.2 416.8 357.9 418.4C354.6 420.0 348.6 425.0 345.6 425.5C342.5 425.9 336.4 426.6 335.0 421.9C333.6 417.2 333.6 394.9 335.0 390.2ZM384.3 406.1C385.3 404.7 390.3 403.6 393.1 404.3C395.9 405.0 402.9 409.5 405.5 411.4C408.0 413.2 410.6 416.5 412.5 418.4C414.4 420.3 418.8 423.6 419.5 425.5C420.2 427.3 419.7 432.0 417.8 432.5C415.9 433.0 408.5 430.4 405.5 429.0C402.4 427.6 397.5 423.8 394.9 421.9C392.3 420.0 387.5 417.0 386.1 414.9C384.7 412.8 383.4 407.5 384.3 406.1ZM417.8 450.1C418.7 448.5 423.5 446.2 426.6 444.8C429.6 443.4 437.9 440.0 440.7 439.5C443.5 439.1 446.3 440.1 447.7 441.3C449.1 442.5 449.4 448.6 451.2 448.3C453.1 448.1 458.5 440.9 461.8 439.5C465.1 438.1 473.3 439.2 475.9 437.8C478.5 436.4 480.0 431.1 481.2 429.0C482.4 426.9 484.2 421.7 484.7 421.9C485.2 422.2 485.4 428.2 484.7 430.7C484.0 433.3 481.1 439.2 479.4 441.3C477.8 443.4 471.9 444.9 472.4 446.6C472.8 448.2 481.3 451.8 482.9 453.6C484.6 455.5 485.9 458.6 484.7 460.7C483.5 462.8 476.0 467.1 474.1 469.5C472.3 471.8 469.7 475.7 470.6 478.3C471.6 480.9 480.5 486.7 481.2 488.9C481.9 491.0 483.2 493.4 475.9 494.1C468.6 494.8 435.0 494.4 426.6 494.1C418.1 493.9 417.0 493.1 412.5 492.4C408.0 491.7 396.9 490.3 393.1 488.9C389.4 487.4 385.0 483.7 384.3 481.8C383.6 479.9 385.0 476.4 387.8 474.8C390.7 473.1 401.2 470.4 405.5 469.5C409.7 468.5 416.7 468.9 419.5 467.7C422.4 466.5 426.6 462.1 426.6 460.7C426.6 459.3 420.7 458.6 419.5 457.2C418.4 455.7 416.8 451.8 417.8 450.1ZM504.1 464.2C506.2 461.6 513.5 449.6 515.0 453.6C516.5 457.6 516.9 488.7 515.0 494.1C513.1 499.5 502.0 496.3 500.6 494.1C499.1 492.0 504.3 481.1 504.1 478.3C503.8 475.5 498.8 474.9 498.8 473.0C498.8 471.1 501.9 466.8 504.1 464.2ZM391.4 499.4C393.5 497.1 405.5 497.4 409.0 497.7C412.5 497.9 414.5 500.9 417.8 501.2C421.1 501.4 430.1 499.4 433.6 499.4C437.2 499.4 440.9 501.4 444.2 501.2C447.5 500.9 454.5 497.7 458.3 497.7C462.0 497.7 469.6 501.2 472.4 501.2C475.2 501.2 473.7 498.1 479.4 497.7C485.1 497.2 510.3 496.5 515.0 497.7C519.7 498.8 516.5 505.1 515.0 506.5C513.5 507.9 509.3 508.5 504.1 508.2C498.9 508.0 481.1 504.7 475.9 504.7C470.7 504.7 468.2 506.9 465.3 508.2C462.5 509.6 459.0 514.0 454.8 514.9C450.5 515.8 436.0 515.8 433.6 514.9C431.3 514.0 438.1 508.7 437.2 508.2C436.2 507.8 429.2 511.5 426.6 511.8C424.0 512.0 420.1 509.6 417.8 510.0C415.4 510.4 412.3 514.3 409.0 514.9C405.7 515.6 395.5 517.0 393.1 514.9C390.8 512.9 389.2 501.7 391.4 499.4ZM350.9 450.1C351.2 449.6 355.4 452.4 356.1 453.6C356.8 454.9 355.4 457.0 354.4 456.3C353.3 455.6 350.5 450.6 350.9 450.1Z"/>
<path fill="#009000" d="M335.0 362.0C336.2 360.6 341.9 362.4 343.8 363.8C345.7 365.2 347.2 370.3 349.1 372.6C351.0 375.0 356.3 380.7 357.9 381.4C359.5 382.1 361.4 380.0 361.4 377.9C361.4 375.8 359.1 368.6 357.9 365.6C356.7 362.5 351.4 356.4 352.6 355.0C353.8 353.6 363.9 353.1 366.7 355.0C369.5 356.9 373.0 366.0 373.7 369.1C374.5 372.1 371.0 375.8 372.0 377.9C372.9 380.0 378.0 383.3 380.8 384.9C383.6 386.6 389.8 388.1 393.1 390.2C396.4 392.3 403.5 398.7 405.5 400.8C407.4 402.9 408.6 404.9 408.1 406.1C407.6 407.3 404.2 410.1 401.9 409.6C399.7 409.1 394.4 404.2 391.4 402.6C388.3 400.9 381.8 399.1 379.0 397.3C376.2 395.4 372.6 390.1 370.2 388.5C367.9 386.8 363.8 384.7 361.4 384.9C359.1 385.2 355.2 390.2 352.6 390.2C350.0 390.2 344.4 387.1 342.0 384.9C339.7 382.8 335.9 377.4 335.0 374.4C334.1 371.3 333.8 363.5 335.0 362.0ZM352.6 429.0C352.6 425.9 355.5 421.8 357.9 420.2C360.2 418.5 367.6 415.9 370.2 416.6C372.8 417.3 376.6 423.1 377.3 425.5C378.0 427.8 374.6 432.4 375.5 434.3C376.4 436.1 383.4 438.1 384.3 439.5C385.3 440.9 384.2 443.9 382.6 444.8C380.9 445.8 374.1 445.8 372.0 446.6C369.9 447.4 368.6 451.5 366.7 451.0C364.8 450.5 359.8 446.0 357.9 443.1C356.0 440.1 352.6 432.0 352.6 429.0ZM394.9 437.8C395.6 435.8 398.1 435.3 401.9 435.1C405.8 435.0 410.9 435.7 414.3 436.9C417.6 438.1 419.0 439.5 418.7 441.3C418.3 443.1 416.5 445.0 412.5 445.7C408.4 446.4 401.9 446.4 398.4 444.8C394.9 443.2 394.2 439.7 394.9 437.8ZM335.0 427.2C336.1 425.1 338.2 424.0 340.3 425.5C342.4 426.9 346.6 432.1 345.6 434.3C344.5 436.4 337.1 437.4 335.0 436.0C332.9 434.6 333.9 429.3 335.0 427.2ZM502.8 451.0C502.8 453.6 503.2 452.8 500.9 454.9C498.5 457.0 499.6 456.5 495.8 457.4C492.0 458.2 493.3 458.2 489.5 457.4C485.7 456.5 486.7 457.0 484.4 454.9C482.0 452.8 482.4 453.6 482.4 451.0C482.4 448.4 482.0 449.2 484.4 447.1C486.7 444.9 485.7 445.4 489.5 444.6C493.3 443.8 492.0 443.8 495.8 444.6C499.6 445.4 498.5 444.9 500.9 447.1C503.2 449.2 502.8 448.4 502.8 451.0ZM479.4 471.2C480.4 469.6 482.8 466.7 484.7 466.0C486.6 465.3 492.3 464.5 493.5 466.0C494.7 467.4 492.1 474.4 493.5 476.5C494.9 478.6 502.9 480.2 504.1 481.8C505.3 483.5 503.7 487.6 502.3 488.9C500.9 490.1 496.1 491.7 493.5 491.5C490.9 491.3 485.1 488.9 482.9 487.1C480.8 485.3 478.1 480.4 477.7 478.3C477.2 476.2 478.5 472.9 479.4 471.2ZM412.5 504.7C413.7 503.6 420.2 502.1 423.1 502.1C425.9 502.1 431.3 504.8 433.6 504.7C436.0 504.6 438.8 500.7 440.7 501.2C442.6 501.7 447.7 506.8 447.7 508.2C447.7 509.6 442.6 511.5 440.7 511.8C438.8 512.0 436.0 509.9 433.6 510.0C431.3 510.1 425.6 512.6 423.1 512.6C420.5 512.6 415.7 511.0 414.3 510.0C412.8 508.9 411.3 505.8 412.5 504.7ZM472.4 506.5C473.8 505.0 480.1 503.8 482.9 503.8C485.8 503.8 490.7 505.4 493.5 506.5C496.3 507.5 501.2 510.6 504.1 511.8C506.9 512.9 519.2 514.5 515.0 514.9C510.8 515.3 478.1 516.0 472.4 514.9C466.7 513.8 471.0 507.9 472.4 506.5ZM338.5 494.1C340.6 492.7 350.1 492.7 352.6 494.1C355.1 495.5 353.0 499.8 350.9 501.2C348.7 502.6 344.5 502.6 342.0 501.2C339.6 499.8 336.4 495.5 338.5 494.1Z"/>
<path fill="#00c800" d="M430.1 462.4C430.8 460.0 436.4 458.6 440.7 458.9C444.9 459.3 448.4 462.1 451.2 464.2C454.1 466.3 455.5 467.7 454.8 469.5C454.1 471.2 451.2 472.7 447.7 473.0C444.2 473.4 440.7 473.4 437.2 471.2C433.6 469.1 429.4 464.9 430.1 462.4Z"/>
<path fill="#ffff00" d="M371.1 370.9C371.1 372.8 371.3 372.2 370.3 373.7C369.3 375.3 369.7 374.9 368.1 375.5C366.4 376.1 367.0 376.1 365.3 375.5C363.7 374.9 364.2 375.3 363.1 373.7C362.1 372.2 362.3 372.8 362.3 370.9C362.3 368.9 362.1 369.5 363.1 368.0C364.2 366.4 363.7 366.8 365.3 366.2C367.0 365.6 366.4 365.6 368.1 366.2C369.7 366.8 369.3 366.4 370.3 368.0C371.3 369.5 371.1 368.9 371.1 370.9ZM355.3 425.5C356.3 423.0 359.1 420.2 361.4 419.3C363.8 418.4 367.7 418.6 369.3 420.2C371.0 421.8 371.0 425.7 371.1 429.0C371.3 432.2 371.0 436.6 370.2 439.5C369.5 442.5 368.5 446.1 366.7 446.6C364.9 447.0 361.6 444.2 359.7 442.2C357.7 440.1 356.0 437.0 355.3 434.3C354.5 431.5 354.2 427.9 355.3 425.5ZM403.2 404.3C403.2 404.6 403.3 404.5 402.7 404.7C402.0 405.0 402.3 404.9 401.3 405.0C400.4 405.1 400.7 405.1 399.7 405.0C398.7 404.9 399.0 405.0 398.4 404.7C397.8 404.5 397.9 404.6 397.9 404.3C397.9 404.0 397.8 404.1 398.4 403.9C399.0 403.7 398.7 403.7 399.7 403.6C400.7 403.6 400.4 403.6 401.3 403.6C402.3 403.7 402.0 403.7 402.7 403.9C403.3 404.1 403.2 404.0 403.2 404.3ZM335.0 425.5C335.5 424.4 337.1 426.0 337.6 427.2C338.2 428.4 338.2 430.6 337.6 431.6C337.1 432.7 335.5 433.7 335.0 432.5C334.5 431.3 334.5 426.5 335.0 425.5ZM497.9 450.1C497.9 451.1 498.1 450.8 496.8 451.7C495.5 452.5 496.1 452.3 494.0 452.6C491.9 452.9 492.6 452.9 490.5 452.6C488.4 452.3 489.0 452.5 487.7 451.7C486.4 450.8 486.6 451.1 486.6 450.1C486.6 449.1 486.4 449.4 487.7 448.6C489.0 447.7 488.4 447.9 490.5 447.6C492.6 447.3 491.9 447.3 494.0 447.6C496.1 447.9 495.5 447.7 496.8 448.6C498.1 449.4 497.9 449.1 497.9 450.1ZM483.8 479.2C485.9 478.5 490.3 479.7 493.5 480.9C496.7 482.2 499.0 483.5 499.7 485.3C500.4 487.2 499.3 489.7 497.0 490.3C494.7 490.8 491.0 489.1 488.2 488.0C485.4 486.8 483.8 486.2 482.9 484.5C482.1 482.7 481.7 479.9 483.8 479.2ZM348.7 496.3C348.7 496.9 348.9 496.7 348.1 497.3C347.3 497.8 347.6 497.7 346.3 497.9C345.0 498.1 345.4 498.1 344.1 497.9C342.8 497.7 343.2 497.8 342.4 497.3C341.6 496.7 341.7 496.9 341.7 496.3C341.7 495.6 341.6 495.8 342.4 495.2C343.2 494.7 342.8 494.8 344.1 494.6C345.4 494.4 345.0 494.4 346.3 494.6C347.6 494.8 347.3 494.7 348.1 495.2C348.9 495.8 348.7 495.6 348.7 496.3ZM419.5 505.6C420.2 504.4 424.5 504.2 426.6 504.7C428.7 505.2 430.8 507.0 430.1 508.2C429.4 509.5 425.2 511.4 423.1 510.9C420.9 510.3 418.8 506.8 419.5 505.6ZM475.9 508.2C477.0 506.7 480.5 506.8 484.7 507.3C488.9 507.9 493.2 509.4 497.0 510.9C500.9 512.4 507.6 514.1 504.1 514.9C500.6 515.7 485.1 516.3 479.4 514.9C473.8 513.6 474.8 509.7 475.9 508.2Z"/>
<path fill="#e8c000" d="M368.5 429.9C368.5 432.8 368.7 431.9 367.3 434.2C365.9 436.5 366.5 436.0 364.2 436.9C361.9 437.8 362.7 437.8 360.4 436.9C358.1 436.0 358.7 436.5 357.3 434.2C355.9 431.9 356.1 432.8 356.1 429.9C356.1 427.0 355.9 427.9 357.3 425.5C358.7 423.2 358.1 423.7 360.4 422.8C362.7 421.9 361.9 421.9 364.2 422.8C366.5 423.7 365.9 423.2 367.3 425.5C368.7 427.9 368.5 427.0 368.5 429.9Z"/>
<path fill="#ff9000" d="M366.5 430.4C366.5 432.5 366.7 431.8 365.7 433.5C364.7 435.2 365.2 434.8 363.6 435.4C362.0 436.0 362.6 436.0 361.0 435.4C359.4 434.8 359.9 435.2 358.9 433.5C357.9 431.8 358.1 432.5 358.1 430.4C358.1 428.3 357.9 429.0 358.9 427.3C359.9 425.6 359.4 426.0 361.0 425.4C362.6 424.7 362.0 424.7 363.6 425.4C365.2 426.0 364.7 425.6 365.7 427.3C366.7 429.0 366.5 428.3 366.5 430.4Z"/>
<path fill="#ff0000" d="M362.8 430.7C362.8 431.1 362.9 431.0 362.7 431.3C362.5 431.5 362.5 431.5 362.2 431.6C361.9 431.7 362.0 431.7 361.7 431.6C361.3 431.5 361.4 431.5 361.2 431.3C361.0 431.0 361.1 431.1 361.1 430.7C361.1 430.4 361.0 430.5 361.2 430.2C361.4 429.9 361.3 430.0 361.7 429.9C362.0 429.8 361.9 429.8 362.2 429.9C362.5 430.0 362.5 429.9 362.7 430.2C362.9 430.5 362.8 430.4 362.8 430.7Z"/>
<path fill="#0000f0" d="M394.9 355.0C397.5 354.1 414.1 354.3 416.9 355.0C419.7 355.7 417.5 358.9 416.0 360.3C414.5 361.7 407.9 365.3 405.5 365.6C403.0 365.8 398.9 363.5 397.5 362.0C396.1 360.6 392.3 355.9 394.9 355.0ZM342.0 397.3C343.9 396.9 352.2 401.3 353.5 403.4C354.8 405.5 352.7 410.8 351.7 413.1C350.8 415.5 348.1 420.6 346.4 421.0C344.8 421.5 340.3 418.6 339.4 416.6C338.5 414.6 339.1 408.7 339.4 406.1C339.8 403.5 340.2 397.6 342.0 397.3ZM388.7 410.0C390.1 410.2 403.8 416.4 405.5 417.5C407.1 418.7 406.9 421.8 405.5 421.6C404.0 421.3 393.0 416.0 391.4 414.9C389.7 413.7 387.3 409.7 388.7 410.0ZM453.0 455.4C453.7 454.3 459.9 453.7 461.8 452.7C463.7 451.8 465.5 448.9 467.1 448.3C468.7 447.8 472.0 447.2 474.1 448.3C476.3 449.5 482.7 455.6 482.9 457.2C483.2 458.7 478.2 459.0 475.9 459.8C473.6 460.6 467.9 463.2 465.3 463.3C462.7 463.4 458.2 461.7 456.5 460.7C454.9 459.6 452.3 456.4 453.0 455.4ZM439.8 487.1C440.1 485.7 443.3 482.0 445.1 480.9C446.8 479.9 450.3 479.2 453.0 479.2C455.7 479.2 462.5 479.9 465.3 480.9C468.2 482.0 472.0 485.5 474.1 487.1C476.3 488.7 479.5 492.1 481.2 493.3C482.8 494.4 484.9 495.0 486.5 495.9C488.0 496.8 494.5 500.1 492.6 500.3C490.8 500.5 477.2 498.2 472.4 497.7C467.6 497.1 460.5 496.7 456.5 495.9C452.5 495.1 444.7 492.7 442.4 491.5C440.2 490.3 439.4 488.5 439.8 487.1ZM412.1 488.9C413.2 488.2 421.6 488.4 423.1 488.5C424.5 488.6 425.4 489.7 426.6 489.7C427.7 489.8 434.2 488.7 434.5 488.9C434.9 489.0 431.1 490.9 430.1 491.5C429.1 492.1 426.6 494.7 424.8 495.0C423.1 495.4 413.8 495.6 412.5 495.0C411.2 494.4 411.1 489.5 412.1 488.9ZM497.0 501.2C497.2 500.4 501.0 495.1 502.3 494.1C503.6 493.2 509.4 491.9 510.2 492.0C511.1 492.1 511.7 494.5 511.1 495.0C510.5 495.6 505.1 497.0 504.1 497.7C503.0 498.3 501.3 501.2 500.6 501.5C499.9 501.9 496.9 501.9 497.0 501.2ZM402.8 512.6C403.9 512.0 407.0 511.3 409.0 511.8C410.9 512.2 413.6 514.3 412.5 514.9C411.4 515.6 405.6 515.4 403.7 514.9C401.8 514.5 401.8 513.3 402.8 512.6Z"/>
<path fill="#00a0f0" d="M397.5 355.0C398.8 354.1 411.6 354.3 413.4 355.0C415.1 355.7 412.0 359.4 410.7 360.3C409.4 361.2 405.5 362.4 403.7 361.7C401.9 361.0 396.2 355.9 397.5 355.0ZM461.8 457.2C461.6 456.3 464.0 453.5 465.3 452.7C466.6 452.0 470.6 451.6 471.5 451.9C472.4 452.1 473.0 453.6 472.4 454.5C471.8 455.5 468.5 458.6 467.1 458.9C465.7 459.3 462.0 458.0 461.8 457.2ZM455.6 487.4C455.6 489.2 455.8 488.6 454.8 490.0C453.8 491.4 454.2 491.1 452.6 491.6C451.0 492.2 451.5 492.2 449.9 491.6C448.2 491.1 448.7 491.4 447.7 490.0C446.7 488.6 446.8 489.2 446.8 487.4C446.8 485.7 446.7 486.3 447.7 484.9C448.7 483.5 448.2 483.8 449.9 483.3C451.5 482.7 451.0 482.7 452.6 483.3C454.2 483.8 453.8 483.5 454.8 484.9C455.8 486.3 455.6 485.7 455.6 487.4Z"/>
<path fill="none" stroke="#0b3b0b" stroke-width="1.7" stroke-linejoin="round" d="M426.6 355.0L426.6 400.8L425.2 494.1M335.0 493.3L387.8 494.1L515.0 495.9M387.8 494.1L387.8 514.9"/>
</g>
<g clip-path="url(#t6)">
<path fill="#00c800" d="M510.0 355.0L690.0 355.0L690.0 514.9L510.0 514.9Z"/>
<path fill="#00f400" d="M510.0 455.4C510.9 446.3 514.7 449.6 517.0 446.6C519.4 443.5 524.6 436.0 527.6 432.5C530.7 429.0 536.4 421.8 539.9 420.2C543.5 418.5 550.3 419.5 554.0 420.2C557.8 420.9 564.1 424.3 568.1 425.5C572.1 426.6 580.9 427.1 584.0 429.0C587.0 430.9 590.3 436.3 591.0 439.5C591.7 442.8 590.7 450.8 589.3 453.6C587.8 456.4 581.2 458.8 580.5 460.7C579.7 462.6 581.6 466.3 584.0 467.7C586.3 469.1 594.8 469.4 598.1 471.2C601.4 473.1 608.2 479.5 608.6 481.8C609.1 484.2 604.4 487.0 601.6 488.9C598.8 490.7 590.8 495.2 587.5 495.9C584.2 496.6 580.2 494.1 576.9 494.1C573.6 494.1 564.0 494.3 562.8 495.9C561.7 497.5 568.1 503.9 568.1 506.5C568.1 509.0 570.6 513.8 562.8 514.9C555.1 516.0 517.0 522.9 510.0 514.9C503.0 507.0 509.1 464.5 510.0 455.4ZM659.7 466.0C659.9 465.8 665.7 465.8 665.9 466.0C666.1 466.1 666.1 471.1 665.9 471.2C665.7 471.4 659.9 471.4 659.7 471.2C659.5 471.1 659.5 466.1 659.7 466.0Z"/>
<path fill="#009000" d="M585.7 360.3C588.1 357.2 584.2 355.7 598.1 355.0C612.0 354.3 677.7 347.3 690.0 355.0C702.3 362.7 691.5 406.1 690.0 413.1C688.5 420.2 681.5 406.7 679.1 407.8C676.7 409.0 673.4 419.6 672.0 421.9C670.6 424.3 670.2 424.5 668.5 425.5C666.9 426.4 660.6 427.6 659.7 429.0C658.8 430.4 662.2 433.7 661.5 436.0C660.8 438.4 655.8 442.8 654.4 446.6C653.0 450.3 651.4 459.5 650.9 464.2C650.4 468.9 651.8 478.1 650.9 481.8C650.0 485.6 645.3 489.1 643.9 492.4C642.4 495.7 641.7 503.6 640.3 506.5C638.9 509.3 635.6 513.0 633.3 513.5C630.9 514.0 624.6 512.3 622.7 510.0C620.8 507.6 620.1 500.1 619.2 495.9C618.3 491.7 617.1 482.0 615.7 478.3C614.3 474.5 611.0 470.5 608.6 467.7C606.3 464.9 600.2 460.4 598.1 457.2C595.9 453.9 593.7 447.3 592.8 443.1C591.8 438.8 591.7 429.0 591.0 425.5C590.3 421.9 586.8 419.5 587.5 416.6C588.2 413.8 596.1 407.1 596.3 404.3C596.5 401.5 591.4 399.0 589.3 395.5C587.1 392.0 580.9 382.6 580.5 377.9C580.0 373.2 583.4 363.3 585.7 360.3ZM672.0 414.9C672.3 411.8 677.2 410.7 679.1 407.8C681.0 405.0 684.7 395.9 686.1 393.7C687.6 391.6 689.5 389.6 690.0 392.0C690.5 394.3 690.8 408.3 690.0 411.4C689.2 414.4 685.6 413.0 684.4 414.9C683.1 416.8 680.6 422.2 680.8 425.5C681.1 428.7 684.9 435.8 686.1 439.5C687.3 443.3 689.5 450.8 690.0 453.6C690.5 456.4 691.0 461.6 690.0 460.7C689.0 459.7 684.3 450.6 682.6 446.6C680.9 442.6 678.7 435.0 677.3 430.7C675.9 426.5 671.8 417.9 672.0 414.9ZM665.0 508.2C667.1 506.0 671.0 503.8 673.8 503.8C676.6 503.8 678.4 506.0 679.1 508.2C679.8 510.4 680.5 513.6 677.3 514.9C674.1 516.3 665.7 516.3 663.2 514.9C660.8 513.6 662.9 510.4 665.0 508.2Z"/>
<path fill="#00c800" d="M582.2 474.8C584.0 472.7 585.7 471.2 589.3 471.2C592.8 471.2 596.7 471.9 599.8 474.8C603.0 477.6 606.2 481.5 605.1 485.3C604.1 489.2 598.8 493.1 594.5 494.1C590.3 495.2 586.8 493.1 584.0 490.6C581.2 488.2 580.8 485.0 580.5 481.8C580.1 478.6 580.5 476.9 582.2 474.8ZM591.9 456.3C591.9 458.3 592.1 457.7 590.7 459.4C589.3 461.1 589.9 460.7 587.6 461.3C585.3 461.9 586.1 461.9 583.8 461.3C581.5 460.7 582.2 461.1 580.7 459.4C579.3 457.7 579.6 458.3 579.6 456.3C579.6 454.2 579.3 454.8 580.7 453.2C582.2 451.5 581.5 451.9 583.8 451.2C586.1 450.6 585.3 450.6 587.6 451.2C589.9 451.9 589.3 451.5 590.7 453.2C592.1 454.8 591.9 454.2 591.9 456.3ZM510.0 474.8C511.4 472.7 514.9 476.2 517.0 478.3C519.2 480.4 522.0 483.2 520.6 485.3C519.2 487.4 512.1 491.0 510.0 488.9C507.9 486.7 508.6 476.9 510.0 474.8ZM510.0 501.2C512.8 497.7 518.8 497.3 524.1 497.7C529.4 498.0 535.0 499.5 536.4 502.9C537.8 506.4 536.4 512.5 531.1 514.9C525.9 517.3 514.2 517.7 510.0 514.9C505.8 512.2 507.2 504.6 510.0 501.2Z"/>
<path fill="#009000" d="M536.4 478.3C537.6 475.5 542.9 474.8 545.2 474.8C547.6 474.8 552.4 476.4 554.0 478.3C555.7 480.2 557.3 485.6 557.6 488.9C557.8 492.1 556.5 500.1 555.8 502.9C555.1 505.8 554.6 508.8 552.3 510.0C549.9 511.2 541.0 512.2 538.2 511.8C535.4 511.3 531.4 508.6 531.1 506.5C530.9 504.4 535.7 499.7 536.4 495.9C537.1 492.1 535.2 481.1 536.4 478.3Z"/>
<path fill="#ffff00" d="M585.7 372.6C586.2 369.6 586.9 364.4 589.3 362.0C591.6 359.7 593.2 355.9 603.3 355.0C613.4 354.1 655.8 354.1 665.0 355.0C674.1 355.9 669.7 360.2 672.0 362.0C674.4 363.9 680.7 366.5 682.6 369.1C684.5 371.7 686.6 376.7 686.1 381.4C685.7 386.1 681.0 398.9 679.1 404.3C677.2 409.7 674.1 419.3 672.0 421.9C669.9 424.5 664.9 424.6 663.2 423.7C661.6 422.7 661.4 415.6 659.7 414.9C658.1 414.2 653.5 417.9 650.9 418.4C648.3 418.9 642.4 417.7 640.3 418.4C638.2 419.1 634.6 422.3 635.0 423.7C635.5 425.1 641.5 427.6 643.9 429.0C646.2 430.4 652.0 431.0 652.7 434.3C653.4 437.5 649.8 447.8 649.1 453.6C648.4 459.5 648.6 473.4 647.4 478.3C646.2 483.2 641.7 487.1 640.3 490.6C638.9 494.1 638.2 502.4 636.8 504.7C635.4 507.1 631.6 508.5 629.8 508.2C627.9 508.0 623.9 505.3 622.7 502.9C621.5 500.6 621.4 493.9 621.0 490.6C620.5 487.3 619.0 480.9 619.2 478.3C619.4 475.7 621.1 474.5 622.7 471.2C624.4 468.0 630.1 457.4 631.5 453.6C632.9 449.9 634.9 443.5 633.3 443.1C631.6 442.6 621.8 447.5 619.2 450.1C616.6 452.7 615.8 461.3 613.9 462.4C612.0 463.6 607.2 461.0 605.1 458.9C603.0 456.8 599.2 450.6 598.1 446.6C596.9 442.6 596.3 433.4 596.3 429.0C596.3 424.5 597.4 416.4 598.1 413.1C598.8 409.8 602.3 406.9 601.6 404.3C600.9 401.7 594.9 396.3 592.8 393.7C590.7 391.2 586.7 387.8 585.7 384.9C584.8 382.1 585.3 375.7 585.7 372.6ZM680.8 429.0C680.6 425.2 683.1 417.5 684.4 414.9C685.6 412.3 689.2 404.9 690.0 409.6C690.8 414.3 690.5 445.6 690.0 450.1C689.5 454.6 687.3 445.9 686.1 443.1C684.9 440.2 681.1 432.7 680.8 429.0ZM539.9 485.3C540.6 483.1 543.7 479.9 545.2 479.2C546.8 478.5 550.3 478.8 551.4 480.0C552.4 481.3 553.2 485.8 553.2 488.9C553.2 491.9 552.1 500.4 551.4 502.9C550.7 505.5 549.0 507.8 547.9 508.2C546.7 508.7 543.6 508.1 542.6 506.5C541.5 504.8 540.3 498.7 539.9 495.9C539.6 493.1 539.2 487.6 539.9 485.3ZM667.6 514.9C666.6 513.9 668.5 511.3 670.3 510.0C672.0 508.7 675.4 507.2 676.4 508.2C677.5 509.2 677.3 513.6 675.6 514.9C673.8 516.3 668.7 515.9 667.6 514.9Z"/>
<path fill="#009000" d="M613.9 460.7C614.1 457.4 616.8 452.5 619.2 450.1C621.5 447.8 629.6 443.5 631.5 443.1C633.4 442.6 634.2 443.3 633.3 446.6C632.3 449.9 626.6 464.0 624.5 467.7C622.4 471.5 618.8 475.7 617.4 474.8C616.0 473.8 613.7 464.0 613.9 460.7ZM635.0 421.9C635.3 420.4 638.2 418.0 640.3 417.5C642.4 417.1 648.3 418.9 650.9 418.4C653.5 417.9 658.2 413.3 659.7 414.0C661.2 414.7 662.8 422.2 662.3 423.7C661.9 425.2 656.5 423.8 656.2 425.5C655.8 427.1 659.7 434.1 659.7 436.0C659.7 437.9 657.6 440.2 656.2 439.5C654.8 438.8 651.5 432.1 649.1 430.7C646.8 429.3 640.5 430.1 638.6 429.0C636.7 427.8 634.8 423.5 635.0 421.9Z"/>
<path fill="#00c800" d="M618.3 458.9C618.7 456.4 621.1 453.3 622.7 451.9C624.3 450.5 626.6 449.4 626.2 451.9C625.9 454.3 622.5 462.8 621.0 464.2C619.4 465.6 618.0 461.4 618.3 458.9ZM638.6 422.8C639.3 421.8 642.4 420.7 643.9 421.0C645.3 421.4 646.3 423.5 645.6 424.6C644.9 425.6 641.7 426.7 640.3 426.3C638.9 426.0 637.9 423.9 638.6 422.8Z"/>
<path fill="#e8c000" d="M617.4 365.6C618.1 362.0 614.9 356.4 621.0 355.0C627.1 353.6 656.9 353.6 663.2 355.0C669.6 356.4 666.4 363.2 668.5 365.6C670.6 367.9 677.4 369.8 679.1 372.6C680.7 375.4 681.1 382.9 680.8 386.7C680.6 390.5 679.0 398.2 677.3 400.8C675.7 403.4 670.2 407.0 668.5 406.1C666.9 405.1 666.9 396.8 665.0 393.7C663.1 390.7 657.0 385.5 654.4 383.2C651.8 380.8 648.0 376.1 645.6 376.1C643.3 376.1 639.4 381.1 636.8 383.2C634.2 385.3 628.6 389.9 626.2 392.0C623.9 394.1 621.3 398.1 619.2 399.0C617.1 400.0 611.8 400.2 610.4 399.0C609.0 397.9 607.9 392.6 608.6 390.2C609.3 387.9 614.5 384.7 615.7 381.4C616.8 378.1 616.7 369.1 617.4 365.6ZM613.9 413.1C615.3 410.8 620.1 409.5 622.7 407.8C625.3 406.2 630.5 401.7 633.3 400.8C636.1 399.9 642.0 399.9 643.9 400.8C645.7 401.7 648.3 406.7 647.4 407.8C646.4 409.0 639.6 408.4 636.8 409.6C634.0 410.8 627.9 414.1 626.2 416.6C624.6 419.2 625.9 426.6 624.5 429.0C623.1 431.3 617.3 431.9 615.7 434.3C614.0 436.6 613.1 443.5 612.2 446.6C611.2 449.6 610.0 456.7 608.6 457.2C607.2 457.6 602.3 452.7 601.6 450.1C600.9 447.5 601.9 441.1 603.3 437.8C604.8 434.5 610.7 428.7 612.2 425.5C613.6 422.2 612.5 415.5 613.9 413.1ZM628.9 480.9C628.9 480.7 635.7 474.7 635.9 474.8C636.2 474.8 636.2 481.6 635.9 481.8C635.7 482.0 628.9 481.2 628.9 480.9Z"/>
<path fill="#ff9000" d="M617.8 390.2C617.8 391.1 617.9 390.8 617.4 391.5C616.9 392.1 617.1 392.0 616.3 392.2C615.5 392.5 615.8 392.5 615.0 392.2C614.2 392.0 614.5 392.1 614.0 391.5C613.5 390.8 613.6 391.1 613.6 390.2C613.6 389.4 613.5 389.7 614.0 389.0C614.5 388.3 614.2 388.5 615.0 388.2C615.8 388.0 615.5 388.0 616.3 388.2C617.1 388.5 616.9 388.3 617.4 389.0C617.9 389.7 617.8 389.4 617.8 390.2Z"/>
<path fill="#0000f0" d="M519.7 461.6C519.9 460.5 524.1 458.7 525.9 458.0C527.6 457.3 530.8 457.6 532.9 456.3C535.0 455.0 540.2 451.3 541.7 448.3C543.2 445.4 543.3 436.7 544.3 434.3C545.4 431.8 547.9 430.3 549.6 429.9C551.4 429.4 555.3 429.8 557.6 430.7C559.8 431.7 563.5 436.3 566.4 436.9C569.2 437.5 576.1 434.8 578.7 435.1C581.3 435.5 584.9 438.4 585.7 439.5C586.6 440.7 587.0 442.8 584.9 443.9C582.7 445.1 572.3 447.1 569.9 448.3C567.4 449.6 566.5 452.0 566.4 453.6C566.2 455.3 569.0 458.8 569.0 460.7C569.0 462.6 567.4 466.8 566.4 467.7C565.3 468.7 562.5 468.1 561.1 467.7C559.7 467.4 558.8 465.1 555.8 465.1C552.7 465.1 542.4 467.6 538.2 467.7C534.0 467.8 526.6 466.8 524.1 466.0C521.6 465.1 519.5 462.6 519.7 461.6ZM569.0 496.8C569.4 496.8 576.3 500.7 576.9 501.2C577.5 501.7 578.2 504.7 577.8 504.7C577.5 504.7 572.2 501.7 571.6 501.2C571.1 500.7 568.6 496.8 569.0 496.8ZM552.3 514.9C551.9 514.7 555.2 511.8 555.8 511.8C556.4 511.8 561.3 514.7 561.1 514.9C560.8 515.1 552.6 515.1 552.3 514.9Z"/>
<path fill="#00a0f0" d="M547.9 437.8C548.2 436.5 551.1 435.3 552.3 435.1C553.4 435.0 555.0 435.4 556.7 436.9C558.3 438.4 564.0 445.3 564.6 446.6C565.2 447.9 562.5 447.2 561.1 446.6C559.7 446.0 555.6 442.4 554.0 442.2C552.5 441.9 550.5 445.4 549.6 444.8C548.8 444.2 547.5 439.1 547.9 437.8ZM543.5 457.2C543.7 456.0 545.8 453.6 547.0 452.7C548.2 451.9 550.9 450.6 552.3 451.0C553.7 451.3 557.6 454.5 557.6 455.4C557.6 456.3 553.9 457.2 552.3 458.0C550.6 458.9 546.4 461.7 545.2 461.6C544.1 461.4 543.2 458.3 543.5 457.2Z"/>
<path fill="none" stroke="#0b3b0b" stroke-width="1.7" stroke-linejoin="round" d="M510.0 495.9L580.5 494.7L690.0 491.5"/>
</g>
<g clip-path="url(#t7)">
<path fill="#00c800" d="M685.0 355.0L865.0 355.0L865.0 514.9L685.0 514.9Z"/>
<path fill="#00f400" d="M725.5 395.5C725.9 394.2 728.5 393.1 730.8 392.9C733.1 392.6 746.4 391.7 748.4 392.9C750.4 394.0 750.4 402.8 751.0 404.3C751.7 405.8 754.7 406.8 754.6 407.8C754.5 408.9 750.7 413.1 750.2 414.9C749.6 416.6 748.8 423.7 749.3 425.5C749.7 427.2 755.2 432.1 754.6 432.5C754.0 432.8 745.2 429.9 743.1 429.0C741.0 428.1 734.5 425.3 733.4 423.7C732.4 422.1 733.3 414.9 732.6 413.1C731.8 411.4 727.1 407.8 726.4 406.1C725.7 404.3 725.1 396.8 725.5 395.5ZM734.3 441.3C735.0 440.1 740.9 439.3 743.1 439.5C745.4 439.8 750.1 442.1 751.0 443.1C752.0 444.0 751.9 445.9 750.2 446.6C748.4 447.3 740.0 449.1 737.8 448.3C735.7 447.6 733.6 442.5 734.3 441.3ZM752.8 453.6C753.0 452.4 754.2 451.2 755.5 451.0C756.7 450.8 770.1 450.7 771.3 451.0C772.5 451.3 773.8 454.2 773.9 455.4C774.1 456.6 774.2 468.2 773.9 469.5C773.6 470.7 770.7 473.6 769.5 473.9C768.4 474.2 758.3 474.2 757.2 473.9C756.1 473.6 753.1 470.8 752.8 469.5C752.5 468.1 752.6 454.9 752.8 453.6ZM822.4 499.4C824.7 498.5 841.4 498.0 843.5 498.5C845.6 499.1 842.5 503.7 843.5 504.7C844.6 505.7 853.0 507.2 854.1 508.2C855.1 509.3 859.7 514.3 854.1 514.9C848.4 515.6 802.3 515.4 797.7 514.9C793.1 514.4 806.0 510.7 808.3 510.0C810.6 509.3 819.2 509.3 820.6 508.2C822.0 507.2 820.1 500.4 822.4 499.4Z"/>
<path fill="#009000" d="M685.0 355.0C693.9 352.4 743.9 354.1 751.9 355.0C759.9 355.9 747.2 359.9 744.9 362.0C742.5 364.2 736.7 369.2 734.3 370.9C732.0 372.5 729.6 373.3 727.3 374.4C724.9 375.4 719.8 378.3 716.7 378.8C713.6 379.2 707.2 378.0 704.4 377.9C701.6 377.8 697.4 378.4 695.6 377.9C693.7 377.4 691.7 374.8 690.3 374.4C688.9 373.9 685.7 377.0 685.0 374.4C684.3 371.8 676.1 357.6 685.0 355.0ZM685.0 374.4C686.4 371.9 690.5 380.0 692.0 383.2C693.6 386.4 694.3 387.8 692.9 390.2C691.5 392.7 686.6 398.7 685.0 395.5C683.4 392.3 683.6 376.8 685.0 374.4ZM685.0 406.1C686.4 399.3 693.0 405.6 695.6 406.1C698.2 406.5 702.7 408.4 704.4 409.6C706.0 410.8 707.9 413.2 707.9 414.9C707.9 416.5 705.1 419.3 704.4 421.9C703.7 424.5 701.7 432.1 702.6 434.3C703.6 436.4 710.0 436.6 711.4 437.8C712.8 439.0 713.6 441.7 713.2 443.1C712.7 444.5 709.1 446.9 707.9 448.3C706.7 449.8 704.6 452.0 704.4 453.6C704.1 455.3 706.8 458.8 706.1 460.7C705.4 462.6 701.2 467.7 699.1 467.7C697.0 467.7 692.2 462.1 690.3 460.7C688.4 459.3 685.7 464.4 685.0 457.2C684.3 449.9 683.6 412.9 685.0 406.1ZM813.2 363.8C813.2 366.0 813.5 365.3 811.9 367.1C810.4 368.9 811.1 368.5 808.6 369.2C806.1 369.8 807.0 369.8 804.5 369.2C802.0 368.5 802.7 368.9 801.1 367.1C799.6 365.3 799.8 366.0 799.8 363.8C799.8 361.6 799.6 362.3 801.1 360.5C802.7 358.7 802.0 359.1 804.5 358.4C807.0 357.8 806.1 357.8 808.6 358.4C811.1 359.1 810.4 358.7 811.9 360.5C813.5 362.3 813.2 361.6 813.2 363.8ZM824.1 355.0C825.3 354.3 832.1 353.6 834.7 355.0C837.3 356.4 840.9 363.0 843.5 365.6C846.1 368.2 852.4 371.3 854.1 374.4C855.7 377.4 856.8 386.6 855.8 388.5C854.9 390.3 848.7 390.1 847.0 388.5C845.4 386.8 845.2 378.7 843.5 376.1C841.9 373.6 837.1 371.2 834.7 369.1C832.4 367.0 827.3 362.2 825.9 360.3C824.5 358.4 823.0 355.7 824.1 355.0ZM742.2 457.7C742.2 458.4 742.3 458.2 741.7 458.7C741.1 459.3 741.4 459.1 740.4 459.4C739.4 459.6 739.8 459.6 738.8 459.4C737.8 459.1 738.1 459.3 737.5 458.7C736.9 458.2 737.0 458.4 737.0 457.7C737.0 457.0 736.9 457.2 737.5 456.6C738.1 456.1 737.8 456.2 738.8 456.0C739.8 455.8 739.4 455.8 740.4 456.0C741.4 456.2 741.1 456.1 741.7 456.6C742.3 457.2 742.2 457.0 742.2 457.7ZM753.5 504.7C753.5 505.4 753.6 505.2 753.1 505.7C752.6 506.3 752.8 506.2 752.1 506.4C751.3 506.6 751.5 506.6 750.7 506.4C750.0 506.2 750.2 506.3 749.7 505.7C749.2 505.2 749.3 505.4 749.3 504.7C749.3 504.0 749.2 504.2 749.7 503.7C750.2 503.1 750.0 503.2 750.7 503.0C751.5 502.8 751.3 502.8 752.1 503.0C752.8 503.2 752.6 503.1 753.1 503.7C753.6 504.2 753.5 504.0 753.5 504.7ZM707.9 510.0C707.9 512.6 708.2 511.8 706.4 513.9C704.6 516.0 705.4 515.5 702.4 516.4C699.5 517.2 700.5 517.2 697.5 516.4C694.6 515.5 695.4 516.0 693.6 513.9C691.7 511.8 692.0 512.6 692.0 510.0C692.0 507.4 691.7 508.2 693.6 506.1C695.4 503.9 694.6 504.4 697.5 503.6C700.5 502.8 699.5 502.8 702.4 503.6C705.4 504.4 704.6 503.9 706.4 506.1C708.2 508.2 707.9 507.4 707.9 510.0Z"/>
<path fill="#ffff00" d="M692.9 355.0C700.1 353.6 740.2 354.3 746.6 355.0C753.1 355.7 743.0 359.3 741.4 360.3C739.7 361.2 735.7 362.3 734.3 362.0C732.9 361.8 733.1 359.0 730.8 358.5C728.4 358.1 719.8 357.8 716.7 358.5C713.6 359.2 709.5 361.9 707.9 363.8C706.3 365.7 706.0 371.3 704.4 372.6C702.7 373.9 697.1 374.4 695.6 373.5C694.0 372.6 693.3 368.0 692.9 365.6C692.6 363.1 685.8 356.4 692.9 355.0ZM685.0 376.1C685.5 374.4 687.3 378.6 687.6 381.4C688.0 384.2 687.3 388.5 686.8 390.2C686.2 392.0 685.4 393.0 685.0 390.2C684.6 387.4 684.5 377.9 685.0 376.1ZM685.0 411.4C686.2 407.3 691.5 408.6 693.8 408.7C696.2 408.8 701.3 410.7 702.6 412.2C703.9 413.8 704.0 417.9 703.5 420.2C703.0 422.4 700.0 424.5 699.1 429.0C698.2 433.4 697.6 450.0 696.4 453.6C695.3 457.3 691.5 456.7 690.3 456.3C689.1 455.8 688.3 452.3 687.6 450.1C686.9 447.9 685.4 444.7 685.0 439.5C684.6 434.4 683.8 415.5 685.0 411.4ZM710.9 443.1C710.9 444.1 711.0 443.8 710.2 444.6C709.3 445.5 709.7 445.3 708.2 445.6C706.8 445.9 707.3 445.9 705.8 445.6C704.4 445.3 704.8 445.5 703.9 444.6C703.0 443.8 703.1 444.1 703.1 443.1C703.1 442.0 703.0 442.3 703.9 441.5C704.8 440.7 704.4 440.9 705.8 440.6C707.3 440.2 706.8 440.2 708.2 440.6C709.7 440.9 709.3 440.7 710.2 441.5C711.0 442.3 710.9 442.0 710.9 443.1ZM838.7 365.2C838.4 365.7 838.5 365.6 837.9 365.7C837.2 365.9 837.5 365.9 836.7 365.6C835.9 365.4 836.2 365.5 835.6 365.0C835.0 364.5 835.1 364.7 834.9 364.0C834.7 363.4 834.7 363.6 835.0 363.1C835.3 362.6 835.1 362.7 835.8 362.6C836.4 362.4 836.2 362.4 836.9 362.7C837.7 362.9 837.5 362.8 838.1 363.3C838.7 363.9 838.5 363.7 838.7 364.3C838.9 364.9 838.9 364.7 838.7 365.2ZM853.2 382.3C853.2 383.3 853.3 383.0 852.7 383.9C852.1 384.7 852.4 384.5 851.4 384.8C850.4 385.1 850.7 385.1 849.7 384.8C848.8 384.5 849.0 384.7 848.4 383.9C847.8 383.0 847.9 383.3 847.9 382.3C847.9 381.3 847.8 381.6 848.4 380.7C849.0 379.9 848.8 380.1 849.7 379.8C850.7 379.5 850.4 379.5 851.4 379.8C852.4 380.1 852.1 379.9 852.7 380.7C853.3 381.6 853.2 381.3 853.2 382.3ZM704.9 510.9C704.9 512.6 705.1 512.1 704.0 513.5C702.8 514.9 703.3 514.5 701.5 515.1C699.7 515.6 700.3 515.6 698.4 515.1C696.6 514.5 697.1 514.9 696.0 513.5C694.8 512.1 695.0 512.6 695.0 510.9C695.0 509.1 694.8 509.7 696.0 508.3C697.1 506.9 696.6 507.2 698.4 506.7C700.3 506.2 699.7 506.2 701.5 506.7C703.3 507.2 702.8 506.9 704.0 508.3C705.1 509.7 704.9 509.1 704.9 510.9ZM787.2 512.6C787.2 513.0 787.3 512.9 786.6 513.3C786.0 513.6 786.3 513.5 785.3 513.6C784.3 513.8 784.7 513.8 783.7 513.6C782.7 513.5 783.0 513.6 782.4 513.3C781.8 512.9 781.9 513.0 781.9 512.6C781.9 512.2 781.8 512.3 782.4 512.0C783.0 511.7 782.7 511.8 783.7 511.6C784.7 511.5 784.3 511.5 785.3 511.6C786.3 511.8 786.0 511.7 786.6 512.0C787.3 512.3 787.2 512.2 787.2 512.6Z"/>
<path fill="#00c800" d="M714.9 364.2C714.9 365.2 715.0 364.9 714.4 365.7C713.8 366.5 714.1 366.4 713.1 366.7C712.1 367.0 712.5 367.0 711.5 366.7C710.5 366.4 710.8 366.5 710.2 365.7C709.6 364.9 709.7 365.2 709.7 364.2C709.7 363.1 709.6 363.4 710.2 362.6C710.8 361.8 710.5 362.0 711.5 361.6C712.5 361.3 712.1 361.3 713.1 361.6C714.1 362.0 713.8 361.8 714.4 362.6C715.0 363.4 714.9 363.1 714.9 364.2Z"/>
<path fill="#e8c000" d="M697.3 355.0C698.4 354.3 706.8 354.3 707.9 355.0C709.0 355.7 704.7 358.5 702.6 358.5C700.5 358.5 696.3 355.7 697.3 355.0Z"/>
<path fill="#ffff00" d="M725.9 369.6C725.9 370.4 726.0 370.2 725.2 370.9C724.4 371.5 724.7 371.4 723.4 371.6C722.1 371.9 722.6 371.9 721.3 371.6C719.9 371.4 720.3 371.5 719.5 370.9C718.7 370.2 718.8 370.4 718.8 369.6C718.8 368.8 718.7 369.0 719.5 368.4C720.3 367.7 719.9 367.9 721.3 367.6C722.6 367.4 722.1 367.4 723.4 367.6C724.7 367.9 724.4 367.7 725.2 368.4C726.0 369.0 725.9 368.8 725.9 369.6Z"/>
<path fill="none" stroke="#0b3b0b" stroke-width="1.7" stroke-linejoin="round" d="M688.5 355.0L686.8 362.0L685.0 367.3M685.0 370.9L692.0 381.4L699.1 387.6L703.5 387.6L704.4 407.8L706.1 443.1L708.8 490.6L709.7 514.9M685.0 491.5L708.8 490.6M709.7 513.5L773.1 510.0L856.7 503.8M822.4 355.0L831.2 362.0L841.8 370.9L847.0 377.9L850.6 388.5L856.7 389.3"/>
</g>
<g clip-path="url(#t8)">
<path fill="#00c800" d="M160.0 510.0L340.0 510.0L340.0 669.9L160.0 669.9Z"/>
<path fill="#00f400" d="M163.9 510.0C166.4 506.0 180.1 508.6 182.9 510.0C185.7 511.4 181.8 518.2 184.7 520.6C187.5 522.9 200.5 525.3 204.0 527.6C207.6 530.0 208.5 536.5 211.1 538.2C213.7 539.8 221.5 538.3 223.4 539.9C225.3 541.6 226.6 549.1 225.2 550.5C223.8 551.9 216.1 551.0 212.8 550.5C209.5 550.0 205.2 547.9 200.5 547.0C195.8 546.0 182.5 544.4 177.6 543.5C172.7 542.5 165.7 544.4 163.9 539.9C162.0 535.5 161.3 514.0 163.9 510.0ZM223.4 562.8C223.9 559.3 231.4 559.2 234.0 557.6C236.6 555.9 240.4 550.7 242.8 550.5C245.1 550.3 249.9 553.4 251.6 555.8C253.2 558.1 255.1 564.4 255.1 568.1C255.1 571.9 252.5 579.5 251.6 584.0C250.6 588.4 248.1 597.4 248.1 601.6C248.1 605.8 251.1 612.4 251.6 615.7C252.1 619.0 252.5 623.4 251.6 626.2C250.6 629.1 246.9 633.5 244.5 636.8C242.2 640.1 236.8 649.3 234.0 650.9C231.2 652.5 226.2 650.5 223.4 649.1C220.6 647.7 214.5 642.9 212.8 640.3C211.2 637.7 210.4 633.1 211.1 629.8C211.8 626.5 216.2 618.5 218.1 615.7C220.0 612.9 224.5 611.4 225.2 608.6C225.9 605.8 222.7 597.8 223.4 594.5C224.1 591.3 230.5 588.2 230.5 584.0C230.5 579.7 222.9 566.4 223.4 562.8ZM265.7 557.6C266.6 555.4 276.0 551.8 279.8 552.3C283.5 552.7 289.9 559.9 293.9 561.1C297.8 562.3 305.2 561.3 309.7 561.1C314.2 560.8 323.3 560.3 327.3 559.3C331.4 558.4 338.3 548.4 340.0 554.0C341.7 559.7 341.9 594.8 340.0 601.6C338.1 608.4 328.4 603.2 325.6 605.1C322.7 607.0 319.9 616.6 318.5 615.7C317.1 614.7 316.2 602.3 315.0 598.1C313.8 593.8 312.1 585.4 309.7 584.0C307.4 582.6 300.4 586.3 297.4 587.5C294.3 588.7 289.2 593.7 286.8 592.8C284.5 591.8 281.6 583.7 279.8 580.5C277.9 577.2 274.6 571.2 272.7 568.1C270.8 565.1 264.7 559.7 265.7 557.6ZM263.9 615.7C264.3 612.5 266.7 610.7 269.2 610.4C271.7 610.0 275.2 611.4 276.2 613.9C277.3 616.4 276.2 620.3 274.5 622.7C272.7 625.2 269.5 627.7 267.4 626.2C265.3 624.8 263.6 618.8 263.9 615.7ZM181.1 568.1C181.6 570.7 178.3 577.2 177.6 580.5C176.9 583.7 177.7 590.9 175.9 592.8C174.0 594.7 165.5 598.8 163.9 594.5C162.3 590.3 162.5 565.5 163.9 561.1C165.2 556.6 171.8 560.1 174.1 561.1C176.4 562.0 180.7 565.5 181.1 568.1ZM163.9 594.5C165.7 591.3 174.4 596.7 177.6 598.1C180.9 599.5 187.5 603.2 188.2 605.1C188.9 607.0 185.2 611.0 182.9 612.2C180.5 613.3 173.1 612.5 170.6 613.9C168.0 615.3 164.8 625.3 163.9 622.7C163.0 620.1 162.0 597.8 163.9 594.5ZM184.7 622.7C186.1 620.8 192.6 617.4 195.2 617.4C197.8 617.4 202.6 621.1 204.0 622.7C205.4 624.4 206.5 627.9 205.8 629.8C205.1 631.6 200.2 634.0 198.7 636.8C197.3 639.6 196.6 649.0 195.2 650.9C193.8 652.8 188.9 652.8 188.2 650.9C187.5 649.0 190.4 639.4 189.9 636.8C189.5 634.2 185.4 633.4 184.7 631.5C184.0 629.6 183.2 624.6 184.7 622.7ZM191.7 650.9C196.4 648.1 208.6 640.6 212.8 640.3C217.1 640.1 220.6 647.7 223.4 649.1C226.2 650.5 231.9 650.0 234.0 650.9C236.1 651.8 239.7 655.0 239.3 656.2C238.8 657.4 234.0 659.5 230.5 659.7C226.9 659.9 216.4 657.2 212.8 657.9C209.3 658.6 206.4 663.4 204.0 665.0C201.7 666.6 200.6 669.3 195.2 669.9C189.9 670.6 168.1 671.3 163.9 669.9C159.7 668.6 162.0 660.8 163.9 659.7C165.7 658.6 173.9 662.6 177.6 661.5C181.3 660.3 187.0 653.7 191.7 650.9ZM276.2 536.4C276.9 534.0 281.5 533.6 283.3 534.7C285.0 535.7 285.8 539.2 285.0 541.7C284.3 544.2 281.5 548.0 279.8 547.0C278.0 545.9 275.5 538.9 276.2 536.4ZM265.7 518.8C266.4 515.6 267.8 514.6 269.2 517.0C270.6 519.5 273.4 528.0 272.7 531.1C272.0 534.3 267.1 535.4 265.7 532.9C264.3 530.4 265.0 522.0 265.7 518.8ZM200.5 587.5C201.2 585.0 203.3 581.9 204.9 582.2C206.5 582.6 208.3 586.4 208.4 589.3C208.6 592.1 207.2 595.2 205.8 596.3C204.4 597.4 202.4 596.3 201.4 594.5C200.3 592.8 199.8 590.0 200.5 587.5ZM327.3 606.9C330.1 605.9 335.0 612.2 336.1 615.7C337.3 619.2 336.6 628.6 336.1 633.3C335.7 638.0 332.6 646.0 332.6 650.9C332.6 655.8 336.6 667.4 336.1 669.9C335.7 672.5 330.5 672.5 329.1 669.9C327.7 667.4 327.0 655.8 325.6 650.9C324.1 646.0 319.9 637.0 318.5 633.3C317.1 629.5 313.8 626.2 315.0 622.7C316.2 619.2 324.5 607.8 327.3 606.9ZM297.4 510.0C303.4 508.9 331.5 508.2 340.0 510.0C348.5 511.8 342.9 517.4 340.0 518.8C337.1 520.2 331.6 517.7 325.6 517.0C319.5 516.3 315.3 516.7 309.7 515.3C304.1 513.9 291.3 511.1 297.4 510.0ZM244.5 665.0C247.4 662.9 254.4 658.7 258.6 659.7C262.9 660.7 268.5 667.9 265.7 669.9C262.9 672.0 248.8 670.9 244.5 669.9C240.3 668.9 241.7 667.0 244.5 665.0Z"/>
<path fill="#009000" d="M167.0 543.5C168.7 542.3 177.7 541.0 182.9 541.7C188.1 542.4 201.8 546.4 205.8 548.7C209.8 551.1 211.4 556.3 212.8 559.3C214.2 562.4 217.3 570.0 216.4 571.6C215.4 573.3 208.8 571.4 205.8 571.6C202.7 571.9 195.6 574.6 193.5 573.4C191.4 572.2 190.9 565.7 189.9 562.8C189.0 560.0 189.0 553.9 186.4 552.3C183.8 550.6 173.2 551.7 170.6 550.5C168.0 549.3 165.4 544.6 167.0 543.5ZM186.4 584.0C187.5 581.5 189.4 579.4 191.7 578.7C194.0 578.0 196.8 578.3 197.9 580.5C198.9 582.6 198.2 586.6 197.0 589.3C195.8 591.9 193.8 593.3 191.7 593.7C189.6 594.0 187.5 593.0 186.4 591.0C185.4 589.1 185.4 586.4 186.4 584.0ZM212.8 584.0C214.8 581.7 223.8 581.2 225.2 582.2C226.6 583.3 221.8 587.0 219.9 589.3C217.9 591.5 216.9 594.7 215.5 593.7C214.1 592.6 210.9 586.3 212.8 584.0ZM197.9 601.6C200.3 600.2 210.2 599.6 212.8 600.7C215.5 601.8 213.5 605.5 211.1 606.9C208.6 608.3 203.2 608.8 200.5 607.7C197.9 606.7 195.4 603.0 197.9 601.6ZM191.7 518.3C191.7 519.3 191.8 519.0 191.0 519.8C190.2 520.7 190.6 520.5 189.3 520.8C188.0 521.1 188.4 521.1 187.1 520.8C185.8 520.5 186.1 520.7 185.3 519.8C184.5 519.0 184.7 519.3 184.7 518.3C184.7 517.2 184.5 517.6 185.3 516.7C186.1 515.9 185.8 516.1 187.1 515.8C188.4 515.4 188.0 515.4 189.3 515.8C190.6 516.1 190.2 515.9 191.0 516.7C191.8 517.6 191.7 517.2 191.7 518.3ZM253.3 510.0C255.1 508.6 263.6 508.9 265.7 510.0C267.8 511.1 265.7 513.9 263.9 515.3C262.2 516.7 259.0 518.1 256.9 517.0C254.8 516.0 251.6 511.4 253.3 510.0ZM279.8 510.0C282.9 508.2 294.6 508.2 297.4 510.0C300.2 511.8 296.0 516.0 293.9 518.8C291.7 521.6 289.3 524.1 286.8 524.1C284.3 524.1 282.9 521.6 281.5 518.8C280.1 516.0 276.6 511.8 279.8 510.0ZM271.8 545.2C271.8 548.5 272.3 547.5 269.8 550.2C267.4 552.9 268.5 552.2 264.5 553.3C260.6 554.3 261.9 554.3 258.0 553.3C254.1 552.2 255.2 552.9 252.7 550.2C250.3 547.5 250.7 548.5 250.7 545.2C250.7 541.9 250.3 542.9 252.7 540.3C255.2 537.6 254.1 538.2 258.0 537.2C261.9 536.2 260.6 536.2 264.5 537.2C268.5 538.2 267.4 537.6 269.8 540.3C272.3 542.9 271.8 541.9 271.8 545.2ZM319.4 529.4C319.4 533.5 319.8 532.2 317.2 535.6C314.6 538.9 315.7 538.1 311.5 539.4C307.2 540.7 308.7 540.7 304.4 539.4C300.1 538.1 301.3 538.9 298.7 535.6C296.0 532.2 296.5 533.5 296.5 529.4C296.5 525.2 296.0 526.5 298.7 523.2C301.3 519.8 300.1 520.6 304.4 519.3C308.7 518.0 307.2 518.0 311.5 519.3C315.7 520.6 314.6 519.8 317.2 523.2C319.8 526.5 319.4 525.2 319.4 529.4ZM270.6 572.0C270.6 574.1 270.8 573.4 269.7 575.1C268.5 576.8 269.0 576.4 267.2 577.0C265.4 577.7 266.0 577.7 264.2 577.0C262.3 576.4 262.8 576.8 261.7 575.1C260.5 573.4 260.7 574.1 260.7 572.0C260.7 569.9 260.5 570.6 261.7 568.9C262.8 567.2 262.3 567.6 264.2 567.0C266.0 566.3 265.4 566.3 267.2 567.0C269.0 567.6 268.5 567.2 269.7 568.9C270.8 570.6 270.6 569.9 270.6 572.0ZM261.3 601.6C260.3 600.2 263.4 581.9 263.9 580.5C264.4 579.0 268.7 578.7 269.2 579.6C269.7 580.4 270.4 591.3 271.0 592.8C271.5 594.2 278.6 601.0 278.0 601.6C277.4 602.2 262.2 603.0 261.3 601.6ZM241.0 622.2C241.0 623.2 241.2 622.9 240.3 623.7C239.5 624.6 239.9 624.4 238.6 624.7C237.3 625.0 237.7 625.0 236.4 624.7C235.1 624.4 235.5 624.6 234.6 623.7C233.8 622.9 234.0 623.2 234.0 622.2C234.0 621.2 233.8 621.5 234.6 620.6C235.5 619.8 235.1 620.0 236.4 619.7C237.7 619.4 237.3 619.4 238.6 619.7C239.9 620.0 239.5 619.8 240.3 620.6C241.2 621.5 241.0 621.2 241.0 622.2ZM165.3 635.0C165.3 630.8 172.3 625.5 175.9 624.5C179.4 623.4 180.1 626.2 182.9 629.8C185.7 633.3 189.6 638.2 189.9 642.1C190.3 646.0 187.5 648.4 184.7 649.1C181.8 649.8 179.7 648.4 175.9 645.6C172.0 642.8 165.3 639.3 165.3 635.0ZM256.9 645.6C257.4 643.3 259.0 640.2 261.3 640.3C263.6 640.5 268.8 644.2 268.3 646.5C267.8 648.8 260.9 652.0 258.6 651.8C256.3 651.6 256.3 647.9 256.9 645.6ZM288.6 633.3C287.9 630.5 291.7 624.8 293.9 622.7C296.0 620.6 302.8 616.0 304.4 617.4C306.1 618.8 305.0 629.8 306.2 633.3C307.4 636.8 311.4 641.5 313.2 643.9C315.1 646.2 318.9 648.8 320.3 650.9C321.7 653.0 324.0 657.2 323.8 659.7C323.6 662.2 323.9 668.6 318.5 669.9C313.1 671.3 289.4 670.6 283.3 669.9C277.2 669.3 275.1 666.4 272.7 665.0C270.4 663.6 265.4 661.4 265.7 659.7C265.9 658.1 271.2 652.4 274.5 652.7C277.8 652.9 286.8 660.8 290.3 661.5C293.9 662.2 299.7 660.3 300.9 657.9C302.1 655.6 300.8 647.1 299.1 643.9C297.5 640.6 289.3 636.1 288.6 633.3ZM221.6 663.2C221.6 664.6 221.7 664.2 221.1 665.3C220.5 666.4 220.8 666.2 219.8 666.6C218.8 667.0 219.2 667.0 218.2 666.6C217.2 666.2 217.5 666.4 216.9 665.3C216.3 664.2 216.4 664.6 216.4 663.2C216.4 661.8 216.3 662.3 216.9 661.2C217.5 660.0 217.2 660.3 218.2 659.9C219.2 659.5 218.8 659.5 219.8 659.9C220.8 660.3 220.5 660.0 221.1 661.2C221.7 662.3 221.6 661.8 221.6 663.2ZM230.5 663.2C234.0 661.0 248.8 658.5 251.6 658.8C254.4 659.2 248.1 662.8 244.5 665.0C241.0 667.2 236.8 670.3 234.0 669.9C231.2 669.6 226.9 665.4 230.5 663.2Z"/>
<path fill="#ffff00" d="M199.6 510.0C204.8 508.8 235.7 508.6 241.0 510.0C246.3 511.4 239.6 518.0 239.3 520.6C238.9 523.2 239.1 527.3 238.4 529.4C237.7 531.5 235.5 535.7 234.0 536.4C232.4 537.1 228.8 535.8 226.9 534.7C225.0 533.5 222.2 529.0 219.9 527.6C217.5 526.2 211.7 525.3 209.3 524.1C207.0 522.9 203.6 520.7 202.3 518.8C201.0 516.9 194.5 511.2 199.6 510.0ZM208.4 565.0C207.1 568.7 207.8 567.7 204.8 570.0C201.8 572.4 202.9 572.0 199.4 572.0C195.9 572.1 196.9 572.4 194.3 570.2C191.6 567.9 192.2 568.9 191.4 565.2C190.6 561.4 190.5 562.7 191.9 558.9C193.3 555.2 192.5 556.2 195.5 553.9C198.5 551.5 197.4 551.9 200.9 551.9C204.4 551.9 203.4 551.5 206.0 553.8C208.7 556.0 208.1 555.0 208.9 558.8C209.7 562.5 209.8 561.2 208.4 565.0ZM268.7 544.0C269.1 546.0 269.3 545.4 268.0 547.3C266.6 549.2 267.3 548.7 264.8 549.8C262.3 550.9 263.2 550.7 260.5 550.6C257.8 550.4 258.6 550.6 256.7 549.3C254.8 547.9 255.2 548.5 254.9 546.4C254.5 544.4 254.3 545.1 255.6 543.2C257.0 541.2 256.3 541.7 258.8 540.7C261.3 539.6 260.4 539.7 263.1 539.9C265.8 540.1 265.0 539.8 266.9 541.2C268.8 542.5 268.4 542.0 268.7 544.0ZM314.7 527.5C315.4 529.9 315.5 529.0 314.3 531.4C313.2 533.8 313.8 533.2 311.4 534.6C308.9 536.1 309.8 535.8 306.9 535.8C304.1 535.8 304.9 536.0 302.8 534.5C300.6 533.0 301.1 533.7 300.4 531.3C299.8 528.9 299.7 529.7 300.8 527.3C302.0 524.9 301.4 525.6 303.8 524.1C306.3 522.7 305.4 522.9 308.2 523.0C311.1 523.0 310.2 522.7 312.4 524.2C314.6 525.7 314.1 525.1 314.7 527.5ZM180.1 634.2C180.1 635.4 180.2 635.0 179.5 636.0C178.7 637.0 179.1 636.8 177.9 637.2C176.7 637.6 177.1 637.6 175.9 637.2C174.7 636.8 175.1 637.0 174.3 636.0C173.6 635.0 173.7 635.4 173.7 634.2C173.7 632.9 173.6 633.3 174.3 632.3C175.1 631.3 174.7 631.5 175.9 631.2C177.1 630.8 176.7 630.8 177.9 631.2C179.1 631.5 178.7 631.3 179.5 632.3C180.2 633.3 180.1 632.9 180.1 634.2ZM231.3 669.9C229.6 668.8 232.4 665.5 234.0 664.1C235.6 662.7 237.3 662.5 239.3 662.9C241.2 663.2 243.0 664.5 243.7 665.9C244.4 667.3 245.2 669.1 242.8 669.9C240.3 670.7 233.1 671.1 231.3 669.9ZM274.5 669.9C273.1 669.1 276.2 666.3 278.0 665.9C279.8 665.4 281.9 666.8 283.3 667.6C284.7 668.4 286.8 669.5 285.0 669.9C283.3 670.4 275.9 670.7 274.5 669.9Z"/>
<path fill="#e8c000" d="M219.9 510.0C222.1 509.1 236.0 508.6 238.4 510.0C240.7 511.4 237.8 518.0 237.5 520.6C237.1 523.2 236.7 527.7 235.7 529.4C234.8 531.0 231.6 533.1 230.5 532.9C229.3 532.7 227.2 529.5 226.9 527.6C226.7 525.7 229.4 520.2 228.7 518.8C228.0 517.4 222.8 518.2 221.6 517.0C220.5 515.9 217.7 510.9 219.9 510.0ZM205.1 563.8C204.2 566.2 204.7 565.5 202.8 567.1C201.0 568.7 201.6 568.4 199.5 568.5C197.4 568.6 198.0 568.8 196.4 567.4C194.9 565.9 195.2 566.6 194.8 564.2C194.4 561.8 194.3 562.6 195.2 560.1C196.1 557.7 195.6 558.4 197.5 556.8C199.4 555.2 198.7 555.5 200.8 555.4C202.9 555.3 202.3 555.1 203.9 556.5C205.4 558.0 205.1 557.3 205.5 559.7C205.9 562.1 206.0 561.3 205.1 563.8ZM264.4 545.2C264.4 546.1 264.5 545.8 263.9 546.5C263.3 547.1 263.6 547.0 262.6 547.2C261.6 547.5 262.0 547.5 261.0 547.2C260.0 547.0 260.3 547.1 259.7 546.5C259.1 545.8 259.2 546.1 259.2 545.2C259.2 544.4 259.1 544.7 259.7 544.0C260.3 543.3 260.0 543.5 261.0 543.2C262.0 543.0 261.6 543.0 262.6 543.2C263.6 543.5 263.3 543.3 263.9 544.0C264.5 544.7 264.4 544.4 264.4 545.2ZM312.0 529.4C312.0 530.8 312.2 530.3 311.2 531.4C310.1 532.6 310.6 532.3 309.0 532.7C307.3 533.2 307.9 533.2 306.2 532.7C304.6 532.3 305.0 532.6 304.0 531.4C303.0 530.3 303.2 530.8 303.2 529.4C303.2 528.0 303.0 528.4 304.0 527.3C305.0 526.2 304.6 526.5 306.2 526.0C307.9 525.6 307.3 525.6 309.0 526.0C310.6 526.5 310.1 526.2 311.2 527.3C312.2 528.4 312.0 528.0 312.0 529.4ZM234.0 669.9C233.3 669.1 235.2 666.5 236.6 665.9C238.0 665.2 240.3 665.9 241.0 666.8C241.7 667.6 241.5 669.3 240.1 669.9C238.7 670.6 234.7 670.7 234.0 669.9Z"/>
<path fill="#ff9000" d="M203.2 510.0C205.0 509.1 217.9 508.8 219.9 510.0C221.9 511.2 219.3 517.3 218.1 518.8C216.9 520.3 212.7 521.7 211.1 521.4C209.4 521.2 206.8 518.6 205.8 517.0C204.7 515.5 201.3 510.9 203.2 510.0Z"/>
<path fill="#ff0000" d="M205.8 510.0C207.2 509.3 215.8 509.1 217.2 510.0C218.6 510.9 217.2 515.9 216.4 517.0C215.5 518.2 212.4 518.7 211.1 518.5C209.8 518.2 207.4 516.4 206.7 515.3C206.0 514.2 204.4 510.7 205.8 510.0Z"/>
<path fill="#d80000" d="M208.4 510.0C209.0 509.2 213.9 509.3 214.6 510.0C215.3 510.7 214.3 514.5 213.7 515.3C213.1 516.1 210.9 516.9 210.2 516.2C209.5 515.5 207.8 510.8 208.4 510.0Z"/>
<path fill="#0000f0" d="M163.9 510.0C165.6 506.0 174.4 509.1 176.7 510.0C179.0 510.9 180.3 515.2 181.1 517.0C182.0 518.9 181.5 522.7 182.9 524.1C184.3 525.5 189.1 526.7 191.7 527.6C194.3 528.6 200.4 529.7 202.3 531.1C204.1 532.5 206.0 536.5 205.8 538.2C205.6 539.8 201.9 542.9 200.5 543.5C199.1 544.1 197.6 543.3 195.2 542.6C192.9 541.9 185.7 539.0 182.9 538.2C180.1 537.4 176.6 536.2 174.1 536.4C171.6 536.7 165.2 543.5 163.9 539.9C162.5 536.4 162.2 514.0 163.9 510.0ZM220.4 543.1C220.4 544.6 220.6 544.2 219.5 545.4C218.3 546.6 218.8 546.3 217.0 546.8C215.2 547.3 215.8 547.3 214.0 546.8C212.1 546.3 212.6 546.6 211.5 545.4C210.4 544.2 210.5 544.6 210.5 543.1C210.5 541.6 210.4 542.1 211.5 540.8C212.6 539.6 212.1 539.9 214.0 539.4C215.8 539.0 215.2 539.0 217.0 539.4C218.8 539.9 218.3 539.6 219.5 540.8C220.6 542.1 220.4 541.6 220.4 543.1ZM163.9 562.8C164.5 559.8 169.2 563.7 170.6 564.6C171.9 565.5 176.9 570.1 177.6 571.6C178.3 573.2 178.0 578.9 177.6 580.5C177.3 582.0 174.5 586.2 174.1 587.5C173.6 588.8 174.2 593.0 173.2 593.7C172.2 594.4 164.8 597.6 163.9 594.5C162.9 591.5 163.2 565.8 163.9 562.8ZM229.6 569.9C230.5 568.0 235.9 562.9 237.5 561.1C239.1 559.2 240.5 556.1 241.9 556.1C243.3 556.1 247.0 559.7 248.1 561.1C249.1 562.4 250.1 564.5 249.8 566.4C249.6 568.2 246.5 572.8 246.3 575.2C246.1 577.5 247.9 580.9 248.1 584.0C248.2 587.0 247.9 594.8 247.2 598.1C246.5 601.4 243.8 606.9 242.8 608.6C241.7 610.4 240.9 611.6 239.3 611.3C237.6 610.9 232.1 607.5 230.5 606.0C228.8 604.5 227.2 601.4 226.9 599.8C226.7 598.3 227.5 594.9 228.7 594.5C229.9 594.2 234.2 597.4 235.7 597.2C237.3 596.9 239.3 594.8 240.1 592.8C241.0 590.8 242.5 584.1 241.9 582.2C241.3 580.3 237.3 579.6 235.7 578.7C234.2 577.7 231.3 576.3 230.5 575.2C229.6 574.0 228.6 571.8 229.6 569.9ZM197.9 626.2C197.9 627.6 198.1 627.2 196.9 628.3C195.8 629.4 196.3 629.2 194.5 629.6C192.6 630.0 193.2 630.0 191.4 629.6C189.6 629.2 190.1 629.4 188.9 628.3C187.8 627.2 188.0 627.6 188.0 626.2C188.0 624.9 187.8 625.3 188.9 624.2C190.1 623.1 189.6 623.3 191.4 622.9C193.2 622.5 192.6 622.5 194.5 622.9C196.3 623.3 195.8 623.1 196.9 624.2C198.1 625.3 197.9 624.9 197.9 626.2ZM225.2 640.3C225.3 638.6 228.6 635.3 230.5 634.2C232.3 633.0 236.9 632.2 239.3 631.5C241.6 630.9 246.6 629.3 248.1 629.4C249.5 629.5 250.4 631.4 250.2 632.4C249.9 633.4 247.6 635.8 246.3 636.8C245.0 637.9 240.8 639.0 240.1 640.3C239.4 641.6 241.6 645.1 241.0 646.5C240.4 647.9 237.3 650.8 235.7 650.9C234.2 651.0 231.0 648.8 229.6 647.4C228.2 646.0 225.0 642.1 225.2 640.3ZM323.8 610.4C323.6 609.1 326.3 603.3 327.3 602.5C328.4 601.7 333.1 602.1 334.4 602.5C335.6 602.8 339.4 599.2 340.0 606.0C340.6 612.7 340.3 663.5 340.0 669.9C339.7 676.3 337.5 671.8 337.0 669.9C336.5 668.0 335.3 655.6 335.2 650.9C335.2 646.2 336.7 626.2 336.1 622.7C335.5 619.2 330.3 616.9 329.1 615.7C327.8 614.4 324.0 611.7 323.8 610.4Z"/>
<path fill="#00a0f0" d="M163.9 515.3C164.8 512.0 169.0 511.5 170.6 511.8C172.2 512.0 174.9 515.2 175.9 517.0C176.8 518.9 176.2 524.2 177.6 525.9C179.0 527.5 183.8 528.3 186.4 529.4C189.0 530.4 195.5 532.6 197.0 533.8C198.5 535.0 199.3 538.1 197.9 538.2C196.5 538.3 189.8 535.6 186.4 534.7C183.0 533.7 174.9 530.9 172.3 531.1C169.7 531.4 168.2 535.7 167.0 536.4C165.9 537.1 164.3 539.2 163.9 536.4C163.5 533.6 163.0 518.6 163.9 515.3ZM243.5 571.3C242.6 572.8 243.0 572.4 241.7 573.3C240.4 574.1 240.9 574.0 239.7 573.9C238.5 573.9 238.8 574.1 238.2 573.1C237.5 572.1 237.6 572.5 237.7 571.0C237.9 569.5 237.7 570.0 238.6 568.5C239.4 567.0 239.1 567.4 240.3 566.5C241.6 565.6 241.2 565.8 242.4 565.8C243.5 565.9 243.2 565.7 243.9 566.7C244.5 567.7 244.4 567.2 244.3 568.8C244.2 570.3 244.3 569.8 243.5 571.3ZM234.7 643.3C234.7 644.0 234.8 643.8 234.3 644.4C233.8 644.9 234.0 644.8 233.2 645.0C232.4 645.2 232.7 645.2 231.9 645.0C231.1 644.8 231.3 644.9 230.9 644.4C230.4 643.8 230.5 644.0 230.5 643.3C230.5 642.6 230.4 642.8 230.9 642.3C231.3 641.7 231.1 641.9 231.9 641.7C232.7 641.4 232.4 641.4 233.2 641.7C234.0 641.9 233.8 641.7 234.3 642.3C234.8 642.8 234.7 642.6 234.7 643.3Z"/>
</g>
<g clip-path="url(#t9)">
<path fill="#00c800" d="M335.0 510.0L515.0 510.0L515.0 669.9L335.0 669.9Z"/>
<path fill="#00f400" d="M335.0 524.1C336.4 517.0 343.9 532.1 345.6 534.7C347.2 537.2 345.5 542.1 347.3 543.5C349.2 544.9 356.6 545.5 359.7 545.2C362.7 545.0 367.4 544.1 370.2 541.7C373.0 539.4 376.1 529.7 380.8 527.6C385.5 525.5 401.5 525.4 405.5 525.9C409.4 526.3 410.7 528.6 410.7 531.1C410.7 533.7 407.8 541.9 405.5 545.2C403.1 548.5 395.9 553.4 393.1 555.8C390.3 558.1 386.7 560.7 384.3 562.8C382.0 565.0 377.4 568.8 375.5 571.6C373.6 574.5 372.1 583.3 370.2 584.0C368.3 584.7 363.8 577.4 361.4 576.9C359.1 576.5 354.7 578.8 352.6 580.5C350.5 582.1 347.9 588.3 345.6 589.3C343.2 590.2 336.4 596.2 335.0 587.5C333.6 578.8 333.6 531.1 335.0 524.1ZM335.0 587.5C336.4 577.2 343.2 590.9 345.6 592.8C347.9 594.7 350.3 599.9 352.6 601.6C355.0 603.2 359.4 603.5 363.2 605.1C366.9 606.8 376.3 611.6 380.8 613.9C385.3 616.3 392.4 620.6 396.6 622.7C400.9 624.8 410.1 627.4 412.5 629.8C414.8 632.1 415.2 638.5 414.3 640.3C413.3 642.2 409.0 643.9 405.5 643.9C401.9 643.9 390.7 636.9 387.8 640.3C385.0 643.8 391.4 666.0 384.3 669.9C377.3 673.9 341.6 680.9 335.0 669.9C328.4 658.9 333.6 597.8 335.0 587.5ZM387.8 510.0C395.6 508.6 420.2 508.6 426.6 510.0C432.9 511.4 427.3 515.6 419.5 517.0C411.8 518.5 394.2 518.5 387.8 517.0C381.5 515.6 380.1 511.4 387.8 510.0ZM502.3 520.6C504.9 515.6 512.5 517.0 515.0 520.6C517.5 524.1 517.5 533.2 515.0 538.2C512.5 543.1 504.9 548.7 502.3 545.2C499.8 541.7 499.8 525.5 502.3 520.6ZM447.7 657.9C454.8 654.1 461.1 653.7 468.9 650.9C476.6 648.1 482.2 643.9 486.5 643.9C490.7 643.9 490.0 646.7 490.0 650.9C490.0 655.1 489.3 661.2 486.5 665.0C483.6 668.8 486.5 668.9 475.9 669.9C465.3 670.9 439.3 672.3 433.6 669.9C428.0 667.5 440.7 661.7 447.7 657.9Z"/>
<path fill="#009000" d="M369.3 532.9C369.3 536.3 369.8 535.3 367.2 538.1C364.5 540.9 365.7 540.2 361.4 541.3C357.2 542.3 358.6 542.3 354.4 541.3C350.1 540.2 351.3 540.9 348.6 538.1C346.0 535.3 346.4 536.3 346.4 532.9C346.4 529.4 346.0 530.5 348.6 527.7C351.3 524.9 350.1 525.6 354.4 524.5C358.6 523.5 357.2 523.5 361.4 524.5C365.7 525.6 364.5 524.9 367.2 527.7C369.8 530.5 369.3 529.4 369.3 532.9ZM412.5 531.1C413.4 527.6 410.9 520.5 423.1 518.8C435.3 517.2 493.5 517.6 504.1 518.8C514.6 520.0 504.2 525.7 502.3 527.6C500.4 529.5 493.0 531.0 490.0 532.9C486.9 534.8 479.0 539.4 479.4 541.7C479.9 544.1 492.1 548.2 493.5 550.5C494.9 552.9 492.3 557.4 490.0 559.3C487.6 561.2 478.2 562.3 475.9 564.6C473.6 566.9 474.7 574.3 472.4 576.9C470.0 579.5 461.3 581.9 458.3 584.0C455.2 586.1 449.5 589.5 449.5 592.8C449.5 596.1 455.7 606.0 458.3 608.6C460.9 611.2 466.5 611.2 468.9 612.2C471.2 613.1 473.6 615.4 475.9 615.7C478.2 615.9 484.1 614.9 486.5 613.9C488.8 613.0 491.2 609.1 493.5 608.6C495.9 608.2 501.2 609.0 504.1 610.4C506.9 611.8 513.5 611.3 515.0 619.2C516.5 627.1 518.8 663.2 515.0 669.9C511.2 676.7 489.8 672.0 486.5 669.9C483.1 667.9 491.4 659.3 490.0 654.4C488.6 649.5 479.2 634.7 475.9 633.3C472.6 631.9 467.7 640.8 465.3 643.9C463.0 646.9 461.1 653.8 458.3 656.2C455.5 658.5 448.4 661.5 444.2 661.5C440.0 661.5 430.1 658.1 426.6 656.2C423.1 654.3 419.7 650.4 417.8 647.4C415.9 644.3 416.5 637.0 412.5 633.3C408.5 629.5 394.4 622.5 387.8 619.2C381.3 615.9 368.8 612.2 363.2 608.6C357.5 605.1 347.0 596.1 345.6 592.8C344.2 589.5 350.3 585.9 352.6 584.0C355.0 582.1 360.8 578.2 363.2 578.7C365.5 579.2 368.3 587.7 370.2 587.5C372.1 587.3 375.9 579.7 377.3 576.9C378.7 574.1 378.7 568.7 380.8 566.4C382.9 564.0 388.9 560.7 393.1 559.3C397.3 557.9 409.4 557.7 412.5 555.8C415.5 553.9 416.0 548.5 416.0 545.2C416.0 541.9 411.6 534.7 412.5 531.1ZM347.3 589.3C348.0 585.4 352.6 582.6 356.1 580.5C359.7 578.3 362.5 577.3 364.9 578.7C367.4 580.1 368.8 584.0 368.5 587.5C368.1 591.0 366.4 593.8 363.2 596.3C360.0 598.8 355.8 601.2 352.6 599.8C349.4 598.4 346.6 593.1 347.3 589.3Z"/>
<path fill="#00c800" d="M449.5 545.2C451.6 542.4 456.5 539.9 461.8 539.9C467.1 539.9 471.0 542.8 475.9 545.2C480.8 547.7 486.5 550.2 486.5 552.3C486.5 554.4 480.8 554.7 475.9 555.8C471.0 556.8 466.7 557.9 461.8 557.6C456.9 557.2 453.7 556.5 451.2 554.0C448.8 551.6 447.4 548.0 449.5 545.2ZM461.8 587.5C463.9 584.0 467.4 582.2 472.4 580.5C477.3 578.7 481.5 578.0 486.5 578.7C491.4 579.4 494.2 580.8 497.0 584.0C499.9 587.1 501.3 590.3 500.6 594.5C499.9 598.8 497.7 602.3 493.5 605.1C489.3 607.9 484.4 608.6 479.4 608.6C474.5 608.6 472.4 607.2 468.9 605.1C465.3 603.0 463.2 601.6 461.8 598.1C460.4 594.5 459.7 591.0 461.8 587.5ZM468.9 532.9C470.3 530.4 480.1 529.7 486.5 527.6C492.8 525.5 497.7 522.0 500.6 522.3C503.4 522.7 502.7 526.6 500.6 529.4C498.4 532.2 494.2 534.3 490.0 536.4C485.8 538.5 483.6 540.6 479.4 539.9C475.2 539.2 467.4 535.4 468.9 532.9ZM458.3 615.7C459.7 610.4 463.9 609.0 467.1 610.4C470.3 611.8 473.8 616.7 474.1 622.7C474.5 628.7 471.7 637.5 468.9 640.3C466.0 643.2 462.2 641.7 460.0 636.8C457.9 631.9 456.9 621.0 458.3 615.7Z"/>
<path fill="#00f400" d="M454.8 547.0C455.8 545.2 459.3 544.2 461.8 544.3C464.3 544.5 467.1 545.9 467.1 547.9C467.1 549.8 463.9 553.0 461.8 554.0C459.7 555.1 457.9 554.6 456.5 553.2C455.1 551.7 453.7 548.7 454.8 547.0ZM470.6 587.5C472.4 584.0 480.5 583.6 484.7 584.0C488.9 584.3 491.0 586.4 491.8 589.3C492.5 592.1 491.4 595.6 488.2 598.1C485.1 600.5 479.4 603.7 475.9 601.6C472.4 599.5 468.9 591.0 470.6 587.5ZM461.8 619.2C462.6 616.2 464.6 615.5 466.2 616.6C467.8 617.6 469.7 620.8 469.7 624.5C469.7 628.2 467.7 633.6 466.2 635.0C464.7 636.5 463.0 634.7 462.2 631.5C461.3 628.4 461.0 622.2 461.8 619.2Z"/>
<path fill="#ffff00" d="M417.8 534.7C419.0 531.4 423.5 525.7 426.6 524.1C429.6 522.4 436.4 522.1 440.7 522.3C444.9 522.6 453.6 525.9 458.3 525.9C463.0 525.9 472.1 523.5 475.9 522.3C479.7 521.2 484.6 518.7 486.5 517.0C488.3 515.4 487.6 510.9 490.0 510.0C492.3 509.1 502.2 508.6 504.1 510.0C506.0 511.4 505.5 518.7 504.1 520.6C502.7 522.4 496.8 522.9 493.5 524.1C490.2 525.3 483.2 527.7 479.4 529.4C475.7 531.0 469.3 535.0 465.3 536.4C461.3 537.8 452.3 538.5 449.5 539.9C446.7 541.4 445.4 544.9 444.2 547.0C443.0 549.1 442.1 554.9 440.7 555.8C439.3 556.7 435.0 553.1 433.6 554.0C432.2 555.0 429.6 561.0 430.1 562.8C430.6 564.7 434.8 567.7 437.2 568.1C439.5 568.6 444.4 567.3 447.7 566.4C451.0 565.4 458.1 562.3 461.8 561.1C465.6 559.9 475.0 556.6 475.9 557.6C476.8 558.5 470.3 565.3 468.9 568.1C467.4 570.9 467.2 576.6 465.3 578.7C463.5 580.8 457.6 582.1 454.8 584.0C451.9 585.9 444.2 589.5 444.2 592.8C444.2 596.1 452.9 604.6 454.8 608.6C456.6 612.6 457.3 618.5 458.3 622.7C459.2 626.9 461.8 636.1 461.8 640.3C461.8 644.6 460.2 652.1 458.3 654.4C456.4 656.8 451.0 657.9 447.7 657.9C444.4 657.9 436.9 656.1 433.6 654.4C430.3 652.8 425.2 648.4 423.1 645.6C420.9 642.8 420.1 636.3 417.8 633.3C415.4 630.2 409.4 625.1 405.5 622.7C401.5 620.4 392.5 617.6 387.8 615.7C383.1 613.8 373.5 610.0 370.2 608.6C366.9 607.2 362.0 606.0 363.2 605.1C364.4 604.2 376.4 604.9 379.0 601.6C381.6 598.3 381.8 584.7 382.6 580.5C383.3 576.2 382.7 572.5 384.3 569.9C386.0 567.3 391.1 562.5 394.9 561.1C398.6 559.7 409.4 561.0 412.5 559.3C415.5 557.7 417.1 552.0 417.8 548.7C418.5 545.5 416.6 537.9 417.8 534.7ZM350.0 591.9C350.9 589.1 355.1 584.3 357.9 582.2C360.7 580.1 362.7 580.3 364.1 581.3C365.5 582.4 365.8 584.9 364.9 587.5C364.1 590.1 361.9 592.8 359.7 594.5C357.4 596.3 355.4 596.8 353.5 596.3C351.6 595.8 349.1 594.7 350.0 591.9ZM490.0 585.7C490.7 583.8 493.2 582.4 497.0 582.2C500.9 582.0 506.5 583.4 509.4 584.9C512.2 586.3 512.2 587.5 511.1 589.3C510.1 591.0 507.6 593.1 504.1 593.7C500.6 594.2 496.3 593.5 493.5 591.9C490.7 590.3 489.3 587.7 490.0 585.7ZM486.5 606.0C487.2 605.3 491.4 604.2 493.5 605.1C495.6 606.0 497.7 609.7 497.0 610.4C496.3 611.1 492.1 609.5 490.0 608.6C487.9 607.7 485.8 606.7 486.5 606.0ZM474.1 622.7C474.8 619.9 478.6 616.8 481.2 615.7C483.8 614.5 490.5 613.9 493.5 613.9C496.6 613.9 501.2 614.5 504.1 615.7C506.9 616.8 513.5 615.5 515.0 622.7C516.5 630.0 518.6 663.6 515.0 669.9C511.4 676.2 491.6 671.8 488.2 669.9C484.9 668.1 489.3 659.7 490.0 656.2C490.7 652.7 494.5 645.7 493.5 643.9C492.6 642.0 485.3 643.0 482.9 642.1C480.6 641.2 477.1 639.4 475.9 636.8C474.7 634.2 473.4 625.5 474.1 622.7ZM472.4 665.0C472.4 666.0 472.5 665.7 471.9 666.5C471.3 667.4 471.5 667.2 470.6 667.5C469.6 667.8 469.9 667.8 468.9 667.5C467.9 667.2 468.2 667.4 467.6 666.5C467.0 665.7 467.1 666.0 467.1 665.0C467.1 664.0 467.0 664.3 467.6 663.4C468.2 662.6 467.9 662.8 468.9 662.5C469.9 662.2 469.6 662.2 470.6 662.5C471.5 662.8 471.3 662.6 471.9 663.4C472.5 664.3 472.4 664.0 472.4 665.0Z"/>
<path fill="#009000" d="M434.2 532.5C434.2 533.8 434.3 533.4 433.5 534.4C432.7 535.4 433.0 535.2 431.7 535.6C430.4 535.9 430.9 535.9 429.5 535.6C428.2 535.2 428.6 535.4 427.8 534.4C427.0 533.4 427.1 533.8 427.1 532.5C427.1 531.3 427.0 531.7 427.8 530.7C428.6 529.7 428.2 529.9 429.5 529.5C430.9 529.1 430.4 529.1 431.7 529.5C433.0 529.9 432.7 529.7 433.5 530.7C434.3 531.7 434.2 531.3 434.2 532.5ZM428.3 554.0C428.8 552.0 432.2 549.9 433.6 549.6C435.0 549.4 438.2 551.0 438.9 552.3C439.6 553.6 438.2 557.4 438.9 559.3C439.6 561.2 444.4 565.0 444.2 566.4C444.0 567.8 439.0 570.1 437.2 569.9C435.3 569.6 431.3 566.7 430.1 564.6C428.9 562.5 427.9 556.0 428.3 554.0Z"/>
<path fill="#e8c000" d="M501.4 587.5C501.4 588.3 501.5 588.1 500.9 588.7C500.3 589.4 500.6 589.2 499.6 589.5C498.6 589.8 499.0 589.8 498.0 589.5C497.0 589.2 497.3 589.4 496.7 588.7C496.1 588.1 496.2 588.3 496.2 587.5C496.2 586.7 496.1 586.9 496.7 586.3C497.3 585.6 497.0 585.7 498.0 585.5C499.0 585.2 498.6 585.2 499.6 585.5C500.6 585.7 500.3 585.6 500.9 586.3C501.5 586.9 501.4 586.7 501.4 587.5ZM490.0 624.5C490.9 622.1 496.0 619.4 498.8 619.2C501.6 619.0 509.0 621.8 511.1 622.7C513.3 623.7 514.5 619.9 515.0 626.2C515.5 632.5 518.1 664.1 515.0 669.9C511.9 675.7 494.6 671.8 491.8 669.9C488.9 668.1 492.6 659.7 493.5 656.2C494.5 652.7 499.0 646.4 498.8 643.9C498.6 641.3 492.9 639.4 491.8 636.8C490.6 634.2 489.1 626.8 490.0 624.5ZM495.3 517.0C495.3 517.9 495.4 517.6 494.6 518.3C493.8 519.0 494.2 518.8 492.8 519.1C491.5 519.3 492.0 519.3 490.7 519.1C489.4 518.8 489.7 519.0 488.9 518.3C488.1 517.6 488.2 517.9 488.2 517.0C488.2 516.2 488.1 516.5 488.9 515.8C489.7 515.1 489.4 515.3 490.7 515.0C492.0 514.8 491.5 514.8 492.8 515.0C494.2 515.3 493.8 515.1 494.6 515.8C495.4 516.5 495.3 516.2 495.3 517.0ZM386.1 568.1C387.7 564.6 391.4 563.7 394.9 562.8C398.4 562.0 408.7 561.7 412.5 562.0C416.3 562.2 420.2 563.1 423.1 564.6C425.9 566.1 431.0 571.3 433.6 573.4C436.2 575.5 441.7 577.9 442.4 580.5C443.1 583.0 438.2 589.5 438.9 592.8C439.6 596.1 445.6 602.1 447.7 605.1C449.8 608.2 453.4 612.4 454.8 615.7C456.2 619.0 457.3 626.0 458.3 629.8C459.2 633.5 461.8 640.8 461.8 643.9C461.8 646.9 460.2 651.0 458.3 652.7C456.4 654.3 450.8 656.4 447.7 656.2C444.7 655.9 438.4 652.8 435.4 650.9C432.3 649.0 426.9 644.7 424.8 642.1C422.7 639.5 421.9 634.6 419.5 631.5C417.2 628.5 411.4 621.5 407.2 619.2C403.0 616.8 391.6 615.3 387.8 613.9C384.1 612.5 379.7 611.9 379.0 608.6C378.3 605.3 381.6 594.7 382.6 589.3C383.5 583.9 384.4 571.6 386.1 568.1Z"/>
<path fill="#ffff00" d="M416.0 577.8C416.0 578.4 416.3 578.2 414.8 578.6C413.4 579.1 414.1 579.0 411.8 579.1C409.5 579.3 410.2 579.3 407.9 579.1C405.7 579.0 406.3 579.1 404.9 578.6C403.4 578.2 403.7 578.4 403.7 577.8C403.7 577.3 403.4 577.4 404.9 577.0C406.3 576.5 405.7 576.6 407.9 576.5C410.2 576.3 409.5 576.3 411.8 576.5C414.1 576.6 413.4 576.5 414.8 577.0C416.3 577.4 416.0 577.3 416.0 577.8Z"/>
<path fill="#ff9000" d="M493.5 626.2C494.2 624.6 498.2 622.7 500.6 622.7C502.9 622.7 509.2 625.3 511.1 626.2C513.1 627.2 514.5 624.6 515.0 629.8C515.5 634.9 516.0 660.8 515.0 665.0C514.0 669.2 510.0 661.5 507.6 661.5C505.2 661.5 498.0 666.4 497.0 665.0C496.1 663.6 499.6 654.2 500.6 650.9C501.5 647.6 504.8 642.4 504.1 640.3C503.4 638.2 496.7 636.9 495.3 635.0C493.9 633.2 492.8 627.9 493.5 626.2ZM386.1 573.4C387.0 571.3 391.7 568.5 393.1 569.9C394.5 571.3 395.0 580.9 396.6 584.0C398.3 587.0 402.6 590.9 405.5 592.8C408.3 594.7 414.5 596.4 417.8 598.1C421.1 599.7 427.1 602.8 430.1 605.1C433.2 607.5 438.3 612.4 440.7 615.7C443.0 619.0 446.3 626.5 447.7 629.8C449.1 633.1 451.5 638.0 451.2 640.3C451.0 642.7 448.1 647.4 446.0 647.4C443.8 647.4 437.5 642.9 435.4 640.3C433.3 637.7 432.5 631.1 430.1 628.0C427.8 625.0 421.3 619.5 417.8 617.4C414.3 615.3 407.0 613.3 403.7 612.2C400.4 611.0 394.8 611.0 393.1 608.6C391.5 606.3 392.3 597.6 391.4 594.5C390.4 591.5 386.8 588.6 386.1 585.7C385.4 582.9 385.1 575.5 386.1 573.4ZM401.9 568.1C402.9 567.3 409.7 565.5 412.5 565.5C415.3 565.5 420.7 566.8 423.1 568.1C425.4 569.4 429.6 573.8 430.1 575.2C430.6 576.6 428.5 578.9 426.6 578.7C424.7 578.5 418.8 574.3 416.0 573.4C413.2 572.5 407.3 572.3 405.5 571.6C403.6 570.9 401.0 568.9 401.9 568.1Z"/>
<path fill="#ff0000" d="M510.3 630.8C509.9 632.5 510.3 632.0 508.3 632.9C506.3 633.8 507.1 633.7 504.3 633.5C501.5 633.3 502.4 633.6 499.9 632.3C497.4 631.1 498.0 631.6 496.7 629.8C495.5 628.0 495.6 628.6 496.1 627.0C496.5 625.3 496.1 625.7 498.1 624.8C500.1 623.9 499.3 624.0 502.1 624.2C504.9 624.4 504.0 624.2 506.5 625.4C509.0 626.7 508.4 626.1 509.7 627.9C510.9 629.7 510.8 629.1 510.3 630.8ZM508.5 649.1C509.6 647.7 513.7 644.9 515.0 645.6C516.3 646.3 516.1 651.3 515.0 652.7C513.9 654.1 510.7 653.4 509.4 652.7C508.1 652.0 507.4 650.5 508.5 649.1ZM392.8 576.9C392.8 578.3 392.9 577.9 392.1 579.0C391.3 580.1 391.6 579.9 390.3 580.3C389.0 580.7 389.5 580.7 388.2 580.3C386.8 579.9 387.2 580.1 386.4 579.0C385.6 577.9 385.7 578.3 385.7 576.9C385.7 575.5 385.6 576.0 386.4 574.9C387.2 573.7 386.8 574.0 388.2 573.6C389.5 573.2 389.0 573.2 390.3 573.6C391.6 574.0 391.3 573.7 392.1 574.9C392.9 576.0 392.8 575.5 392.8 576.9Z"/>
<path fill="#0000f0" d="M381.7 526.7C382.8 524.1 388.2 525.5 391.4 525.9C394.5 526.2 403.3 528.2 405.5 529.4C407.6 530.5 407.7 532.5 407.2 534.7C406.7 536.8 403.6 542.9 401.9 545.2C400.3 547.6 397.0 551.1 394.9 552.3C392.8 553.4 387.7 555.0 386.1 554.0C384.4 553.1 383.1 548.9 382.6 545.2C382.0 541.6 380.5 529.3 381.7 526.7ZM360.5 550.5C361.0 548.9 363.2 545.5 364.9 545.2C366.7 545.0 371.4 547.3 373.7 548.7C376.1 550.2 380.9 554.1 382.6 555.8C384.2 557.4 386.5 559.7 386.1 561.1C385.6 562.5 380.7 565.4 379.0 566.4C377.4 567.3 374.6 566.2 373.7 568.1C372.9 570.0 373.6 580.5 372.9 580.5C372.2 580.5 370.0 571.2 368.5 568.1C366.9 565.1 362.5 559.9 361.4 557.6C360.4 555.2 360.1 552.2 360.5 550.5ZM413.4 514.4C413.4 515.6 413.6 515.3 412.4 516.3C411.1 517.3 411.7 517.0 409.7 517.4C407.8 517.8 408.4 517.8 406.5 517.4C404.5 517.0 405.0 517.3 403.8 516.3C402.6 515.3 402.8 515.6 402.8 514.4C402.8 513.2 402.6 513.5 403.8 512.5C405.0 511.5 404.5 511.8 406.5 511.4C408.4 511.0 407.8 511.0 409.7 511.4C411.7 511.8 411.1 511.5 412.4 512.5C413.6 513.5 413.4 513.2 413.4 514.4ZM454.8 550.5C454.8 549.1 457.9 547.5 460.0 547.0C462.2 546.5 465.3 546.5 465.3 547.9C465.3 549.3 462.2 553.5 460.0 554.0C457.9 554.6 454.8 551.9 454.8 550.5ZM486.5 541.7C486.9 539.4 494.9 533.6 497.0 532.9C499.1 532.2 501.4 534.1 502.3 536.4C503.3 538.8 502.4 550.0 504.1 550.5C505.8 551.0 513.5 536.2 515.0 539.9C516.5 543.7 516.5 573.8 515.0 578.7C513.5 583.6 507.4 576.9 504.1 576.9C500.7 576.9 493.0 578.5 490.0 578.7C486.9 578.9 483.1 579.6 481.2 578.7C479.3 577.7 475.7 573.3 475.9 571.6C476.1 570.0 480.1 567.5 482.9 566.4C485.8 565.2 494.7 564.0 497.0 562.8C499.4 561.7 501.0 559.2 500.6 557.6C500.1 555.9 495.4 552.6 493.5 550.5C491.6 548.4 486.0 544.1 486.5 541.7ZM335.0 605.1C336.4 596.9 342.7 607.5 345.6 608.6C348.4 609.8 352.8 612.7 356.1 613.9C359.4 615.1 366.9 616.3 370.2 617.4C373.5 618.6 377.5 621.3 380.8 622.7C384.1 624.1 390.9 626.8 394.9 628.0C398.9 629.2 408.4 630.4 410.7 631.5C413.1 632.7 413.7 635.9 412.5 636.8C411.3 637.7 405.2 639.0 401.9 638.6C398.6 638.1 390.7 633.5 387.8 633.3C385.0 633.1 381.7 635.4 380.8 636.8C379.9 638.2 382.2 643.4 380.8 643.9C379.4 644.3 372.8 641.7 370.2 640.3C367.6 638.9 363.5 633.5 361.4 633.3C359.3 633.1 354.8 636.7 354.4 638.6C353.9 640.5 355.8 645.5 357.9 647.4C360.0 649.3 367.2 651.5 370.2 652.7C373.3 653.8 377.7 655.2 380.8 656.2C383.8 657.1 389.4 658.5 393.1 659.7C396.9 660.9 406.2 663.6 409.0 665.0C411.8 666.4 424.1 669.3 414.3 669.9C404.4 670.6 345.6 678.6 335.0 669.9C324.4 661.3 333.6 613.3 335.0 605.1ZM484.3 647.2C485.1 648.5 485.0 648.0 484.5 649.7C484.0 651.4 484.4 650.9 482.8 652.3C481.2 653.8 481.8 653.4 479.8 654.1C477.7 654.7 478.4 654.7 476.6 654.3C474.9 653.9 475.3 654.2 474.5 652.8C473.8 651.5 473.8 652.0 474.3 650.3C474.8 648.6 474.5 649.2 476.1 647.7C477.7 646.2 477.0 646.6 479.1 646.0C481.1 645.3 480.5 645.4 482.2 645.8C484.0 646.2 483.5 645.9 484.3 647.2Z"/>
<path fill="#00a0f0" d="M386.1 529.4C387.8 528.0 396.3 530.2 398.4 531.1C400.5 532.1 402.2 534.3 401.9 536.4C401.7 538.5 398.5 545.1 396.6 547.0C394.8 548.9 389.4 551.2 387.8 550.5C386.3 549.8 385.4 544.5 385.2 541.7C385.0 538.9 384.3 530.8 386.1 529.4ZM364.9 550.5C365.4 548.9 370.8 551.1 372.9 552.3C375.0 553.4 380.4 557.7 380.8 559.3C381.1 561.0 377.0 563.9 375.5 564.6C374.0 565.3 370.8 566.5 369.3 564.6C367.9 562.7 364.5 552.2 364.9 550.5ZM481.2 569.9C482.4 568.6 490.5 567.3 493.5 566.4C496.6 565.4 502.0 562.4 504.1 562.8C506.2 563.3 509.4 568.4 509.4 569.9C509.4 571.4 507.4 573.5 504.1 574.3C500.8 575.1 487.8 576.6 484.7 576.0C481.7 575.5 480.0 571.2 481.2 569.9ZM495.3 542.6C495.3 543.1 495.4 543.0 494.8 543.4C494.2 543.9 494.4 543.8 493.4 543.9C492.5 544.1 492.8 544.1 491.8 543.9C490.8 543.8 491.1 543.9 490.5 543.4C489.9 543.0 490.0 543.1 490.0 542.6C490.0 542.0 489.9 542.2 490.5 541.8C491.1 541.3 490.8 541.4 491.8 541.2C492.8 541.1 492.5 541.1 493.4 541.2C494.4 541.4 494.2 541.3 494.8 541.8C495.4 542.2 495.3 542.0 495.3 542.6ZM342.9 616.6C344.9 615.3 353.3 615.5 357.9 616.6C362.5 617.6 374.9 623.1 377.3 624.5C379.6 625.9 377.6 627.1 375.5 627.1C373.4 627.1 364.6 623.9 361.4 624.5C358.2 625.1 353.8 630.4 351.7 631.5C349.6 632.7 346.7 634.0 345.6 633.3C344.4 632.6 343.3 628.5 342.9 626.2C342.6 624.0 340.9 617.8 342.9 616.6ZM340.3 636.8C340.9 635.2 344.4 637.4 345.6 638.6C346.7 639.7 347.7 644.0 349.1 645.6C350.5 647.3 353.3 649.5 356.1 650.9C359.0 652.3 367.2 655.0 370.2 656.2C373.3 657.4 379.5 659.2 379.0 659.7C378.6 660.2 370.2 659.9 366.7 659.7C363.2 659.5 355.2 657.5 352.6 657.9C350.0 658.4 348.5 661.6 347.3 663.2C346.2 664.8 344.7 669.0 343.8 669.9C342.9 670.8 340.6 672.5 340.3 669.9C339.9 667.4 341.2 655.3 341.2 650.9C341.2 646.5 339.7 638.5 340.3 636.8Z"/>
<path fill="#00f400" d="M357.9 633.3C360.0 632.3 367.2 631.1 370.2 631.5C373.3 632.0 379.5 634.9 380.8 636.8C382.1 638.7 381.3 644.9 379.9 645.6C378.5 646.3 372.7 642.8 370.2 642.1C367.8 641.4 363.3 640.1 361.4 640.3C359.5 640.6 357.1 644.1 356.1 643.9C355.2 643.6 354.1 640.0 354.4 638.6C354.6 637.2 355.8 634.2 357.9 633.3ZM350.9 665.0C352.5 663.9 357.9 661.7 361.4 661.5C364.9 661.2 374.9 662.1 377.3 663.2C379.6 664.4 382.8 669.0 379.0 669.9C375.3 670.8 352.8 670.6 349.1 669.9C345.3 669.3 349.2 666.1 350.9 665.0ZM384.3 638.6C386.0 637.5 391.4 640.3 394.9 641.2C398.4 642.2 408.4 643.9 410.7 645.6C413.1 647.4 413.7 652.5 412.5 654.4C411.3 656.3 405.2 659.5 401.9 659.7C398.6 659.9 390.4 657.6 387.8 656.2C385.3 654.8 383.0 651.5 382.6 649.1C382.1 646.8 382.7 639.6 384.3 638.6Z"/>
<path fill="none" stroke="#0b3b0b" stroke-width="1.7" stroke-linejoin="round" d="M387.8 510.0L386.1 518.8L504.1 519.7L503.2 610.4L515.0 621.0M386.1 518.8L383.4 580.5L380.8 669.9"/>
</g>
<g clip-path="url(#t10)">
<path fill="#00f400" d="M510.0 510.0L690.0 510.0L690.0 669.9L510.0 669.9Z"/>
<path fill="#00c800" d="M531.1 510.0C550.9 508.6 668.8 504.1 690.0 510.0C711.2 515.9 691.0 549.3 690.0 554.0C689.0 558.7 684.1 548.3 682.6 545.2C681.1 542.2 681.4 533.2 679.1 531.1C676.7 529.0 668.7 528.7 665.0 529.4C661.2 530.1 654.2 535.2 650.9 536.4C647.6 537.6 642.7 538.9 640.3 538.2C638.0 537.5 635.6 531.8 633.3 531.1C630.9 530.4 625.3 531.7 622.7 532.9C620.1 534.1 616.3 538.8 613.9 539.9C611.6 541.1 606.8 540.1 605.1 541.7C603.5 543.3 602.8 551.8 601.6 552.3C600.4 552.7 597.5 548.0 596.3 545.2C595.1 542.4 594.0 534.4 592.8 531.1C591.6 527.8 589.6 522.2 587.5 520.6C585.4 518.9 579.0 517.9 576.9 518.8C574.8 519.7 573.1 527.4 571.6 527.6C570.2 527.8 568.0 522.2 566.4 520.6C564.7 518.9 561.4 515.5 559.3 515.3C557.2 515.0 552.9 518.1 550.5 518.8C548.2 519.5 544.3 521.7 541.7 520.6C539.1 519.4 511.4 511.4 531.1 510.0ZM515.3 554.0C516.2 550.5 520.6 547.3 524.1 545.2C527.6 543.2 532.3 540.8 536.4 541.7C540.5 542.6 546.1 546.7 548.7 550.5C551.4 554.3 552.9 561.1 552.3 564.6C551.7 568.1 548.7 570.5 545.2 571.6C541.7 572.8 535.5 572.5 531.1 571.6C526.7 570.8 521.4 569.3 518.8 566.4C516.2 563.4 514.4 557.6 515.3 554.0ZM561.1 536.4C562.5 534.3 566.0 533.2 568.1 534.7C570.2 536.1 571.6 540.6 571.6 543.5C571.6 546.3 570.2 548.4 568.1 548.7C566.0 549.1 562.5 547.7 561.1 545.2C559.7 542.8 559.7 538.5 561.1 536.4ZM634.2 566.4C634.2 568.4 634.4 567.8 633.2 569.5C631.9 571.1 632.5 570.7 630.5 571.4C628.5 572.0 629.2 572.0 627.3 571.4C625.3 570.7 625.8 571.1 624.6 569.5C623.4 567.8 623.6 568.4 623.6 566.4C623.6 564.3 623.4 564.9 624.6 563.3C625.8 561.6 625.3 562.0 627.3 561.3C629.2 560.7 628.5 560.7 630.5 561.3C632.5 562.0 631.9 561.6 633.2 563.3C634.4 564.9 634.2 564.3 634.2 566.4ZM632.4 584.9C632.4 586.8 632.6 586.2 631.4 587.8C630.2 589.3 630.7 588.9 628.8 589.5C626.8 590.1 627.5 590.1 625.5 589.5C623.5 588.9 624.1 589.3 622.8 587.8C621.6 586.2 621.8 586.8 621.8 584.9C621.8 582.9 621.6 583.5 622.8 582.0C624.1 580.4 623.5 580.8 625.5 580.2C627.5 579.6 626.8 579.6 628.8 580.2C630.7 580.8 630.2 580.4 631.4 582.0C632.6 583.5 632.4 582.9 632.4 584.9ZM582.2 584.0C583.6 581.5 585.4 578.0 587.5 578.7C589.6 579.4 591.7 584.0 592.8 587.5C593.8 591.0 594.2 594.2 592.8 596.3C591.4 598.4 588.2 599.1 585.7 598.1C583.3 597.0 581.2 593.8 580.5 591.0C579.7 588.2 580.8 586.4 582.2 584.0ZM668.5 568.1C669.9 564.2 672.7 561.4 675.6 561.1C678.4 560.7 680.8 562.5 682.6 566.4C684.4 570.2 685.8 576.6 684.4 580.5C683.0 584.3 678.7 585.7 675.6 585.7C672.4 585.7 669.9 584.0 668.5 580.5C667.1 576.9 667.1 572.0 668.5 568.1ZM686.1 608.6C687.3 605.8 689.2 602.3 690.0 605.1C690.8 607.9 691.1 619.9 690.0 622.7C688.9 625.5 685.1 622.0 684.4 619.2C683.6 616.4 685.0 611.4 686.1 608.6ZM510.0 580.5C512.3 568.5 522.9 580.5 527.6 580.5C532.3 580.5 540.5 580.0 545.2 580.5C549.9 580.9 558.6 581.6 562.8 584.0C567.1 586.3 574.6 594.8 576.9 598.1C579.3 601.4 579.5 605.8 580.5 608.6C581.4 611.4 581.6 617.1 584.0 619.2C586.3 621.3 594.8 625.0 598.1 624.5C601.4 624.0 607.7 618.3 608.6 615.7C609.6 613.1 605.1 607.7 605.1 605.1C605.1 602.5 606.8 598.2 608.6 596.3C610.5 594.4 616.4 591.0 619.2 591.0C622.0 591.0 627.9 594.0 629.8 596.3C631.6 598.6 631.4 606.3 633.3 608.6C635.2 611.0 640.1 613.9 643.9 613.9C647.6 613.9 656.8 609.8 661.5 608.6C666.2 607.5 675.3 604.2 679.1 605.1C682.9 606.0 688.5 607.0 690.0 615.7C691.5 624.3 714.0 662.7 690.0 669.9C666.0 677.2 534.0 681.9 510.0 669.9C486.0 658.0 507.7 592.4 510.0 580.5Z"/>
<path fill="#00f400" d="M636.8 513.5C638.9 511.4 646.0 510.4 650.9 511.8C655.8 513.2 661.5 517.7 661.5 520.6C661.5 523.4 655.1 525.5 650.9 525.9C646.7 526.2 643.2 524.8 640.3 522.3C637.5 519.9 634.7 515.6 636.8 513.5ZM677.3 520.6C679.5 518.1 687.5 514.9 690.0 517.0C692.5 519.2 692.2 528.7 690.0 531.1C687.8 533.6 681.6 531.5 679.1 529.4C676.5 527.3 675.1 523.0 677.3 520.6ZM584.0 608.6C585.4 604.4 588.9 599.5 592.8 598.1C596.7 596.7 600.9 598.1 603.3 601.6C605.8 605.1 606.2 611.4 605.1 615.7C604.1 619.9 601.9 622.0 598.1 622.7C594.2 623.4 588.6 622.0 585.7 619.2C582.9 616.4 582.6 612.9 584.0 608.6ZM585.7 633.3C587.8 629.8 594.9 624.8 598.1 626.2C601.2 627.7 603.7 636.8 601.6 640.3C599.5 643.9 590.7 645.3 587.5 643.9C584.3 642.4 583.6 636.8 585.7 633.3ZM554.0 650.9C556.8 646.4 562.8 646.7 568.1 647.4C573.4 648.1 577.3 650.9 580.5 654.4C583.6 657.9 584.7 661.9 584.0 665.0C583.3 668.1 582.9 668.9 576.9 669.9C570.9 670.9 558.6 673.7 554.0 669.9C549.5 666.1 551.2 655.4 554.0 650.9ZM613.9 650.9C615.3 648.4 619.5 646.7 622.7 647.4C625.9 648.1 629.4 651.6 629.8 654.4C630.1 657.2 627.3 660.4 624.5 661.5C621.7 662.5 617.8 661.8 615.7 659.7C613.6 657.6 612.5 653.4 613.9 650.9Z"/>
<path fill="#009000" d="M679.1 575.2C679.1 577.6 679.3 576.8 678.2 578.8C677.2 580.7 677.7 580.3 676.0 581.0C674.4 581.8 675.0 581.8 673.3 581.0C671.7 580.3 672.1 580.7 671.1 578.8C670.1 576.8 670.3 577.6 670.3 575.2C670.3 572.8 670.1 573.5 671.1 571.5C672.1 569.6 671.7 570.1 673.3 569.3C675.0 568.6 674.4 568.6 676.0 569.3C677.7 570.1 677.2 569.6 678.2 571.5C679.3 573.5 679.1 572.8 679.1 575.2ZM598.1 529.4C599.6 527.6 604.1 526.6 606.9 527.6C609.7 528.7 612.5 532.0 612.2 534.7C611.8 537.3 607.7 540.5 605.1 540.8C602.5 541.2 600.4 538.7 598.9 536.4C597.5 534.1 596.5 531.1 598.1 529.4ZM634.2 512.1C634.2 513.1 634.4 512.8 633.2 513.7C631.9 514.5 632.5 514.3 630.5 514.6C628.5 514.9 629.2 514.9 627.3 514.6C625.3 514.3 625.8 514.5 624.6 513.7C623.4 512.8 623.6 513.1 623.6 512.1C623.6 511.1 623.4 511.4 624.6 510.6C625.8 509.7 625.3 509.9 627.3 509.6C629.2 509.3 628.5 509.3 630.5 509.6C632.5 509.9 631.9 509.7 633.2 510.6C634.4 511.4 634.2 511.1 634.2 512.1ZM689.6 540.8C689.6 542.3 689.8 541.9 688.8 543.1C687.8 544.3 688.2 544.0 686.6 544.5C685.0 545.0 685.5 545.0 683.9 544.5C682.2 544.0 682.7 544.3 681.7 543.1C680.7 541.9 680.8 542.3 680.8 540.8C680.8 539.3 680.7 539.8 681.7 538.5C682.7 537.3 682.2 537.6 683.9 537.1C685.5 536.7 685.0 536.7 686.6 537.1C688.2 537.6 687.8 537.3 688.8 538.5C689.8 539.8 689.6 539.3 689.6 540.8ZM651.4 532.9C651.4 535.1 651.7 534.4 650.2 536.2C648.6 538.0 649.3 537.6 646.8 538.3C644.3 538.9 645.2 538.9 642.7 538.3C640.2 537.6 640.9 538.0 639.3 536.2C637.8 534.4 638.0 535.1 638.0 532.9C638.0 530.7 637.8 531.4 639.3 529.6C640.9 527.8 640.2 528.2 642.7 527.5C645.2 526.9 644.3 526.9 646.8 527.5C649.3 528.2 648.6 527.8 650.2 529.6C651.7 531.4 651.4 530.7 651.4 532.9ZM680.5 514.4C680.5 517.5 680.8 516.5 678.9 519.1C676.9 521.6 677.8 521.0 674.6 521.9C671.5 522.9 672.6 522.9 669.4 521.9C666.3 521.0 667.1 521.6 665.2 519.1C663.2 516.5 663.6 517.5 663.6 514.4C663.6 511.3 663.2 512.3 665.2 509.7C667.1 507.2 666.3 507.8 669.4 506.9C672.6 505.9 671.5 505.9 674.6 506.9C677.8 507.8 676.9 507.2 678.9 509.7C680.8 512.3 680.5 511.3 680.5 514.4ZM527.6 587.5C531.6 585.4 540.5 584.0 545.2 584.0C549.9 584.0 559.3 585.1 562.8 587.5C566.4 589.8 570.2 597.4 571.6 601.6C573.1 605.8 573.9 615.4 573.4 619.2C572.9 623.0 570.7 628.4 568.1 629.8C565.5 631.2 557.6 631.2 554.0 629.8C550.5 628.4 544.8 622.5 541.7 619.2C538.6 615.9 535.1 605.6 531.1 605.1C527.1 604.6 514.6 615.7 511.8 615.7C508.9 615.7 509.5 607.2 510.0 605.1C510.5 603.0 512.9 602.2 515.3 599.8C517.6 597.5 523.6 589.6 527.6 587.5ZM534.1 607.7C534.1 611.9 534.6 610.6 531.7 614.0C528.8 617.3 530.1 616.5 525.4 617.8C520.6 619.1 522.3 619.1 517.5 617.8C512.8 616.5 514.1 617.3 511.2 614.0C508.3 610.6 508.8 611.9 508.8 607.7C508.8 603.6 508.3 604.9 511.2 601.5C514.1 598.2 512.8 599.0 517.5 597.7C522.3 596.4 520.6 596.4 525.4 597.7C530.1 599.0 528.8 598.2 531.7 601.5C534.6 604.9 534.1 603.6 534.1 607.7ZM631.5 606.0C631.5 611.5 632.0 609.8 629.2 614.3C626.3 618.7 627.6 617.7 623.0 619.4C618.4 621.1 620.0 621.1 615.4 619.4C610.8 617.7 612.1 618.7 609.2 614.3C606.4 609.8 606.9 611.5 606.9 606.0C606.9 600.5 606.4 602.2 609.2 597.7C612.1 593.2 610.8 594.3 615.4 592.6C620.0 590.9 618.4 590.9 623.0 592.6C627.6 594.3 626.3 593.2 629.2 597.7C632.0 602.2 631.5 600.5 631.5 606.0ZM626.2 633.3C626.7 630.2 630.0 625.9 633.3 624.5C636.6 623.1 647.4 622.3 650.9 622.7C654.4 623.2 659.7 626.1 659.7 628.0C659.7 629.9 653.0 634.5 650.9 636.8C648.8 639.2 646.7 644.2 643.9 645.6C641.0 647.0 632.1 649.0 629.8 647.4C627.4 645.7 625.8 636.3 626.2 633.3ZM510.0 622.7C511.9 616.4 521.0 621.5 524.1 622.7C527.1 623.9 529.1 630.1 532.9 631.5C536.7 632.9 549.2 631.6 552.3 633.3C555.3 634.9 555.3 639.0 555.8 643.9C556.3 648.7 561.9 666.4 555.8 669.9C549.7 673.4 516.1 676.2 510.0 669.9C503.9 663.6 508.1 629.0 510.0 622.7ZM601.6 650.9C602.8 647.9 606.8 647.4 608.6 647.4C610.5 647.4 613.8 648.8 615.7 650.9C617.6 653.0 621.3 660.7 622.7 663.2C624.1 665.8 629.3 669.0 626.2 669.9C623.2 670.8 603.1 672.5 599.8 669.9C596.5 667.4 600.4 653.9 601.6 650.9ZM622.7 663.2C624.6 660.7 633.1 652.5 636.8 650.9C640.6 649.3 646.7 651.4 650.9 650.9C655.1 650.4 663.3 648.1 668.5 647.4C673.7 646.7 687.1 642.6 690.0 645.6C692.9 648.6 699.0 666.7 690.0 669.9C681.0 673.2 631.7 670.8 622.7 669.9C613.7 669.0 620.8 665.8 622.7 663.2ZM510.0 584.0C511.1 582.6 514.2 584.0 515.3 585.7C516.3 587.5 516.3 591.4 515.3 592.8C514.2 594.2 511.1 594.5 510.0 592.8C508.9 591.0 508.9 585.4 510.0 584.0Z"/>
<path fill="#ffff00" d="M676.4 576.4C676.4 577.4 676.5 577.1 676.1 577.8C675.7 578.6 675.9 578.4 675.2 578.7C674.6 579.0 674.8 579.0 674.1 578.7C673.5 578.4 673.7 578.6 673.3 577.8C672.8 577.1 672.9 577.4 672.9 576.4C672.9 575.4 672.8 575.7 673.3 574.9C673.7 574.2 673.5 574.4 674.1 574.1C674.8 573.8 674.6 573.8 675.2 574.1C675.9 574.4 675.7 574.2 676.1 574.9C676.5 575.7 676.4 575.4 676.4 576.4ZM676.3 517.0C675.3 518.7 675.8 518.3 673.9 519.1C672.1 519.8 672.8 519.7 670.8 519.3C668.7 518.8 669.3 519.2 667.9 517.6C666.5 516.1 666.8 516.7 666.5 514.8C666.3 512.8 666.1 513.4 667.1 511.8C668.1 510.1 667.6 510.5 669.4 509.8C671.3 509.0 670.6 509.1 672.6 509.5C674.6 510.0 674.0 509.7 675.4 511.2C676.8 512.7 676.6 512.1 676.8 514.0C677.1 516.0 677.2 515.4 676.3 517.0ZM642.1 531.1C642.3 530.8 648.1 530.5 648.3 530.8C648.4 531.1 645.1 536.0 644.7 536.1C644.3 536.1 641.9 531.5 642.1 531.1ZM532.9 592.8C533.1 591.5 535.6 589.1 538.2 588.4C540.8 587.7 549.1 587.1 552.3 587.5C555.4 587.8 560.5 589.6 562.0 591.0C563.4 592.4 563.7 596.4 562.8 598.1C562.0 599.7 556.5 601.9 555.8 603.3C555.1 604.8 556.6 607.9 557.6 608.6C558.5 609.3 562.4 607.7 562.8 608.6C563.3 609.6 560.6 614.3 561.1 615.7C561.5 617.1 565.4 617.6 566.4 619.2C567.3 620.8 568.8 626.6 568.1 628.0C567.4 629.4 563.4 630.2 561.1 629.8C558.7 629.3 552.9 626.4 550.5 624.5C548.2 622.6 544.6 618.5 543.5 615.7C542.3 612.9 542.6 605.7 541.7 603.3C540.8 601.0 537.6 599.5 536.4 598.1C535.2 596.7 532.7 594.1 532.9 592.8ZM531.7 607.7C531.7 610.9 532.1 609.9 529.7 612.4C527.4 614.9 528.4 614.3 524.6 615.3C520.8 616.2 522.1 616.2 518.3 615.3C514.5 614.3 515.5 614.9 513.2 612.4C510.8 609.9 511.2 610.9 511.2 607.7C511.2 604.6 510.8 605.6 513.2 603.1C515.5 600.6 514.5 601.2 518.3 600.2C522.1 599.3 520.8 599.3 524.6 600.2C528.4 601.2 527.4 600.6 529.7 603.1C532.1 605.6 531.7 604.6 531.7 607.7ZM627.7 606.0C627.7 610.3 628.0 608.9 626.0 612.4C624.1 615.9 625.0 615.1 621.8 616.4C618.7 617.7 619.7 617.7 616.6 616.4C613.4 615.1 614.3 615.9 612.4 612.4C610.4 608.9 610.7 610.3 610.7 606.0C610.7 601.7 610.4 603.0 612.4 599.6C614.3 596.1 613.4 596.9 616.6 595.6C619.7 594.3 618.7 594.3 621.8 595.6C625.0 596.9 624.1 596.1 626.0 599.6C628.0 603.0 627.7 601.7 627.7 606.0ZM624.5 636.8C625.2 634.7 628.9 629.6 631.5 628.0C634.1 626.4 640.6 624.7 643.9 624.5C647.1 624.2 654.5 625.3 656.2 626.2C657.8 627.2 657.4 630.1 656.2 631.5C655.0 632.9 649.5 635.2 647.4 636.8C645.3 638.5 642.2 642.2 640.3 643.9C638.5 645.5 635.2 649.1 633.3 649.1C631.4 649.1 627.4 645.5 626.2 643.9C625.1 642.2 623.8 638.9 624.5 636.8ZM510.0 617.4C511.4 610.7 518.5 617.6 520.6 619.2C522.7 620.8 523.7 627.7 525.9 629.8C528.0 631.9 533.4 634.6 536.4 635.0C539.5 635.5 546.5 632.1 548.7 633.3C551.0 634.5 552.7 639.0 553.2 643.9C553.6 648.7 558.0 666.4 552.3 669.9C546.5 673.4 515.6 676.9 510.0 669.9C504.4 662.9 508.6 624.2 510.0 617.4ZM602.5 669.9C599.3 666.8 602.1 658.2 603.3 654.4C604.6 650.6 606.5 649.8 608.6 650.9C610.7 652.0 611.8 655.9 613.9 659.7C616.0 663.5 621.5 667.9 619.2 669.9C616.9 672.0 605.6 673.0 602.5 669.9ZM624.5 669.9C616.9 668.6 630.7 662.0 633.3 659.7C635.9 657.4 640.1 653.8 643.9 652.7C647.6 651.5 656.8 651.4 661.5 650.9C666.2 650.4 675.3 649.4 679.1 649.1C682.9 648.9 688.5 646.4 690.0 649.1C691.5 651.9 698.7 667.2 690.0 669.9C681.3 672.7 632.0 671.3 624.5 669.9ZM510.0 585.7C510.4 585.0 511.4 586.4 511.8 587.5C512.1 588.6 512.1 590.3 511.8 591.0C511.4 591.7 510.4 592.1 510.0 591.0C509.6 590.0 509.6 586.4 510.0 585.7Z"/>
<path fill="#009000" d="M554.9 601.6C556.0 600.2 561.1 599.3 562.8 600.7C564.6 602.1 564.8 607.2 563.7 608.6C562.7 610.0 559.3 609.2 557.6 607.7C555.8 606.3 553.9 603.0 554.9 601.6Z"/>
<path fill="#e8c000" d="M674.9 514.4C674.9 515.6 675.0 515.3 674.2 516.3C673.5 517.3 673.8 517.0 672.7 517.4C671.5 517.8 671.9 517.8 670.7 517.4C669.5 517.0 669.8 517.3 669.1 516.3C668.4 515.3 668.5 515.6 668.5 514.4C668.5 513.2 668.4 513.5 669.1 512.5C669.8 511.5 669.5 511.8 670.7 511.4C671.9 511.0 671.5 511.0 672.7 511.4C673.8 511.8 673.5 511.5 674.2 512.5C675.0 513.5 674.9 513.2 674.9 514.4ZM536.4 592.8C537.8 591.7 547.7 590.1 550.5 590.1C553.3 590.1 557.1 591.7 557.6 592.8C558.0 593.8 555.4 596.9 554.0 598.1C552.6 599.2 547.7 599.9 547.0 601.6C546.3 603.2 547.6 608.0 548.7 610.4C549.9 612.7 554.1 617.3 555.8 619.2C557.4 621.1 561.3 623.8 561.1 624.5C560.8 625.2 555.9 625.4 554.0 624.5C552.2 623.5 548.3 620.0 547.0 617.4C545.7 614.9 545.3 607.7 544.3 605.1C543.4 602.5 541.0 599.7 539.9 598.1C538.9 596.4 535.0 593.8 536.4 592.8ZM527.6 608.3C527.6 610.2 527.9 609.6 526.4 611.2C525.0 612.7 525.7 612.4 523.4 613.0C521.1 613.6 521.8 613.6 519.5 613.0C517.2 612.4 517.9 612.7 516.5 611.2C515.0 609.6 515.3 610.2 515.3 608.3C515.3 606.3 515.0 606.9 516.5 605.4C517.9 603.8 517.2 604.2 519.5 603.6C521.8 603.0 521.1 603.0 523.4 603.6C525.7 604.2 525.0 603.8 526.4 605.4C527.9 606.9 527.6 606.3 527.6 608.3ZM625.4 606.0C625.4 609.3 625.6 608.3 624.2 611.0C622.8 613.6 623.4 613.0 621.1 614.0C618.8 615.1 619.6 615.1 617.3 614.0C615.0 613.0 615.6 613.6 614.2 611.0C612.8 608.3 613.0 609.3 613.0 606.0C613.0 602.7 612.8 603.7 614.2 601.0C615.6 598.3 615.0 599.0 617.3 597.9C619.6 596.9 618.8 596.9 621.1 597.9C623.4 599.0 622.8 598.3 624.2 601.0C625.6 603.7 625.4 602.7 625.4 606.0ZM627.1 636.8C627.4 634.9 631.1 631.1 633.3 629.8C635.5 628.5 641.3 627.2 643.9 627.1C646.4 627.0 652.4 627.8 652.7 628.9C652.9 629.9 647.5 633.3 645.6 635.0C643.7 636.8 640.5 640.9 638.6 642.1C636.7 643.3 633.1 644.6 631.5 643.9C630.0 643.2 626.9 638.7 627.1 636.8ZM510.0 621.0C511.2 614.7 517.2 621.1 518.8 622.7C520.5 624.4 521.2 630.9 522.3 633.3C523.5 635.6 524.6 639.9 527.6 640.3C530.7 640.8 542.2 635.9 545.2 636.8C548.3 637.7 550.0 643.6 550.5 647.4C551.0 651.1 551.3 663.8 548.7 665.0C546.2 666.2 534.9 655.5 531.1 656.2C527.4 656.8 523.4 668.1 520.6 669.9C517.7 671.8 511.4 676.5 510.0 669.9C508.6 663.4 508.8 627.3 510.0 621.0ZM606.0 669.9C604.2 667.9 606.0 661.7 606.9 659.7C607.7 657.7 608.6 657.7 610.4 659.7C612.2 661.7 616.6 667.9 615.7 669.9C614.8 672.0 607.7 672.0 606.0 669.9ZM629.8 669.9C622.7 668.8 634.5 663.3 636.8 661.5C639.2 659.6 643.6 657.1 647.4 656.2C651.1 655.2 659.3 654.9 665.0 654.4C670.7 654.0 686.7 650.6 690.0 652.7C693.3 654.7 698.0 667.6 690.0 669.9C682.0 672.2 636.9 671.0 629.8 669.9Z"/>
<path fill="#ff9000" d="M622.7 605.6C622.7 607.8 622.9 607.2 622.0 608.9C621.2 610.7 621.6 610.3 620.3 611.0C619.0 611.7 619.4 611.7 618.1 611.0C616.8 610.3 617.2 610.7 616.3 608.9C615.5 607.2 615.7 607.8 615.7 605.6C615.7 603.4 615.5 604.1 616.3 602.3C617.2 600.5 616.8 601.0 618.1 600.3C619.4 599.6 619.0 599.6 620.3 600.3C621.6 601.0 621.2 600.5 622.0 602.3C622.9 604.1 622.7 603.4 622.7 605.6ZM628.9 635.9C629.4 634.5 632.8 631.5 635.0 630.6C637.3 629.8 644.7 628.8 645.6 629.4C646.6 630.0 643.3 633.5 642.1 635.0C640.9 636.6 638.2 640.4 636.8 641.2C635.4 642.0 632.6 641.9 631.5 641.2C630.5 640.5 628.4 637.3 628.9 635.9ZM510.0 624.5C510.9 620.3 515.9 624.6 517.0 626.2C518.2 627.9 517.4 634.5 518.8 636.8C520.2 639.2 524.3 643.4 527.6 643.9C530.9 644.3 540.8 639.4 543.5 640.3C546.2 641.3 547.6 648.3 547.9 650.9C548.1 653.5 547.2 659.5 545.2 659.7C543.2 659.9 536.2 653.8 532.9 652.7C529.6 651.5 523.2 650.2 520.6 650.9C518.0 651.6 514.9 657.0 513.5 657.9C512.1 658.9 510.5 662.4 510.0 657.9C509.5 653.5 509.1 628.7 510.0 624.5ZM633.3 669.9C626.9 669.0 639.3 664.8 642.1 663.2C644.9 661.6 650.4 658.9 654.4 657.9C658.4 657.0 667.3 656.4 672.0 656.2C676.8 655.9 687.6 654.4 690.0 656.2C692.4 658.0 697.6 668.1 690.0 669.9C682.4 671.8 639.7 670.8 633.3 669.9Z"/>
<path fill="#ff0000" d="M630.1 633.3C630.8 632.1 635.4 631.2 636.8 631.2C638.2 631.2 640.3 632.1 640.3 633.3C640.3 634.5 638.0 639.4 636.8 640.3C635.6 641.3 632.4 641.3 631.5 640.3C630.6 639.4 629.4 634.5 630.1 633.3ZM510.0 645.6C512.1 644.2 519.2 644.6 520.6 645.6C522.0 646.7 519.2 649.5 517.0 650.9C514.9 652.3 511.4 653.7 510.0 652.7C508.6 651.6 507.9 647.0 510.0 645.6ZM534.7 647.4C535.0 646.3 539.2 646.3 539.9 647.4C540.6 648.4 539.2 652.7 538.2 652.7C537.1 652.7 534.3 648.4 534.7 647.4ZM647.4 669.9C645.0 669.0 649.0 664.6 650.9 663.2C652.8 661.9 657.7 660.4 661.5 659.7C665.2 659.0 675.8 657.9 679.1 657.9C682.4 657.9 685.7 658.8 686.1 659.7C686.6 660.6 685.0 663.6 682.6 665.0C680.3 666.4 673.2 669.3 668.5 669.9C663.8 670.6 649.7 670.8 647.4 669.9Z"/>
<path fill="#d80000" d="M663.2 661.5C665.0 660.4 674.1 659.5 677.3 659.7C680.5 659.9 680.8 661.3 679.1 662.3C677.3 663.4 671.7 665.2 668.5 665.0C665.3 664.8 661.5 662.5 663.2 661.5Z"/>
<path fill="#0000f0" d="M510.0 541.7C510.7 538.6 514.1 538.3 515.3 536.4C516.5 534.5 518.1 530.2 518.8 527.6C519.5 525.0 519.6 518.8 520.6 517.0C521.5 515.3 524.3 514.4 525.9 514.4C527.4 514.4 530.8 515.5 532.0 517.0C533.2 518.6 533.6 524.0 534.7 525.9C535.7 527.7 537.4 530.2 539.9 531.1C542.5 532.1 551.7 531.5 554.0 532.9C556.4 534.3 557.0 539.2 557.6 541.7C558.1 544.2 558.9 550.2 558.4 551.4C558.0 552.6 555.3 551.6 554.0 550.5C552.7 549.5 550.2 545.3 548.7 543.5C547.3 541.6 545.6 537.8 543.5 536.4C541.4 535.0 535.2 532.7 532.9 532.9C530.5 533.1 527.7 536.1 525.9 538.2C524.0 540.3 520.7 546.2 518.8 548.7C516.9 551.3 512.9 556.1 511.8 557.6C510.6 559.0 510.2 561.4 510.0 559.3C509.8 557.2 509.3 544.8 510.0 541.7ZM550.5 515.3C551.2 514.2 555.7 512.4 557.6 512.6C559.4 512.9 562.5 515.5 564.6 517.0C566.7 518.6 571.8 522.0 573.4 524.1C575.0 526.2 575.5 531.0 576.9 532.9C578.3 534.8 581.9 537.0 584.0 538.2C586.1 539.4 591.6 540.4 592.8 541.7C594.0 543.0 594.0 547.5 592.8 547.9C591.6 548.2 586.3 545.6 584.0 544.3C581.6 543.1 577.0 539.9 575.2 538.2C573.3 536.4 572.0 532.8 569.9 531.1C567.8 529.5 561.7 527.3 559.3 525.9C557.0 524.4 553.4 522.0 552.3 520.6C551.1 519.2 549.8 516.3 550.5 515.3ZM510.0 562.8C510.4 561.9 512.6 568.4 513.5 569.9C514.4 571.4 519.2 576.8 518.8 577.8C518.5 578.8 510.9 581.1 510.0 579.6C509.1 578.1 509.6 563.8 510.0 562.8ZM568.1 576.0C568.1 577.4 568.3 577.0 567.3 578.1C566.3 579.2 566.7 579.0 565.1 579.4C563.4 579.8 564.0 579.8 562.4 579.4C560.7 579.0 561.2 579.2 560.2 578.1C559.1 577.0 559.3 577.4 559.3 576.0C559.3 574.7 559.1 575.1 560.2 574.0C561.2 572.9 560.7 573.1 562.4 572.7C564.0 572.3 563.4 572.3 565.1 572.7C566.7 573.1 566.3 572.9 567.3 574.0C568.3 575.1 568.1 574.7 568.1 576.0ZM631.5 592.4C631.8 592.2 638.3 592.5 638.6 592.8C638.8 593.1 635.5 596.7 635.0 596.7C634.6 596.6 631.3 592.7 631.5 592.4ZM531.1 619.2C531.2 618.9 536.1 619.7 536.4 620.1C536.7 620.4 535.9 624.5 535.5 624.5C535.2 624.4 531.1 619.5 531.1 619.2ZM601.6 640.3C601.7 639.0 605.0 629.9 606.0 628.9C607.0 627.9 611.4 629.7 611.8 630.6C612.2 631.6 610.2 637.5 609.5 638.6C608.8 639.7 605.9 641.6 605.1 641.7C604.3 641.9 601.5 641.6 601.6 640.3ZM582.2 666.8C582.6 666.1 586.4 663.6 587.5 663.2C588.6 662.9 592.3 662.6 592.8 663.2C593.2 663.9 592.8 669.3 591.9 669.9C591.0 670.6 584.9 670.2 584.0 669.9C583.0 669.6 581.9 667.4 582.2 666.8Z"/>
<path fill="#00a0f0" d="M524.7 533.8C524.1 534.9 524.4 534.6 523.5 535.2C522.7 535.9 522.9 535.8 522.2 535.8C521.4 535.8 521.6 535.9 521.2 535.2C520.9 534.6 520.9 534.9 521.0 533.8C521.2 532.7 521.1 533.1 521.7 532.0C522.3 530.9 522.1 531.2 522.9 530.6C523.8 529.9 523.5 530.0 524.2 530.0C525.0 530.0 524.8 529.9 525.2 530.6C525.6 531.2 525.5 530.9 525.4 532.0C525.2 533.1 525.4 532.7 524.7 533.8ZM530.3 520.9C530.3 521.5 530.4 521.3 529.7 521.7C529.1 522.2 529.4 522.1 528.4 522.3C527.4 522.4 527.8 522.4 526.8 522.3C525.8 522.1 526.1 522.2 525.5 521.7C524.9 521.3 525.0 521.5 525.0 520.9C525.0 520.4 524.9 520.5 525.5 520.1C526.1 519.6 525.8 519.8 526.8 519.6C527.8 519.4 527.4 519.4 528.4 519.6C529.4 519.8 529.1 519.6 529.7 520.1C530.4 520.5 530.3 520.4 530.3 520.9ZM553.2 537.3C553.2 538.3 553.2 538.0 552.8 538.9C552.4 539.7 552.6 539.5 551.9 539.8C551.3 540.1 551.5 540.1 550.8 539.8C550.2 539.5 550.4 539.7 550.0 538.9C549.6 538.0 549.6 538.3 549.6 537.3C549.6 536.3 549.6 536.6 550.0 535.7C550.4 534.9 550.2 535.1 550.8 534.8C551.5 534.5 551.3 534.5 551.9 534.8C552.6 535.1 552.4 534.9 552.8 535.7C553.2 536.6 553.2 536.3 553.2 537.3ZM555.8 517.0C556.1 516.1 557.9 515.5 560.2 516.7C562.5 517.9 566.4 521.4 567.2 523.2C568.1 525.0 566.4 525.9 564.6 525.5C562.8 525.1 560.2 523.1 558.4 521.4C556.7 519.8 555.4 518.0 555.8 517.0Z"/>
<path fill="#ffff00" d="M510.0 657.1C511.1 655.4 518.5 654.1 520.6 653.5C522.7 653.0 529.7 651.5 531.1 651.8C532.5 652.0 535.0 654.9 534.7 656.2C534.3 657.5 529.0 663.6 527.6 665.0C526.2 666.4 522.3 669.4 520.6 669.9C518.8 670.4 511.1 671.2 510.0 669.9C508.9 668.6 508.9 658.7 510.0 657.1Z"/>
<path fill="#009000" d="M510.0 660.6C511.1 659.3 518.6 657.6 520.6 657.1C522.5 656.5 528.3 655.1 529.4 655.3C530.4 655.5 531.7 657.9 531.1 658.8C530.6 659.8 525.5 663.9 524.1 665.0C522.7 666.1 518.5 669.4 517.0 669.9C515.6 670.4 510.7 670.9 510.0 669.9C509.3 669.0 508.9 661.9 510.0 660.6Z"/>
<path fill="#00f400" d="M510.0 665.9C510.9 665.0 517.2 662.2 518.8 661.5C520.4 660.8 525.5 658.6 525.9 658.8C526.2 659.1 523.4 663.0 522.3 664.1C521.3 665.2 516.5 669.3 515.3 669.9C514.1 670.5 510.5 670.3 510.0 669.9C509.5 669.5 509.1 666.7 510.0 665.9Z"/>
<path fill="none" stroke="#0b3b0b" stroke-width="1.7" stroke-linejoin="round" d="M510.0 615.7L518.8 618.3L527.6 617.4L532.9 624.5L536.4 628.9L545.2 630.6L555.8 631.5L562.8 635.9L568.1 631.5L576.9 630.6L580.5 636.8L584.0 643.9L592.8 639.5L599.8 641.2L605.1 647.4L610.4 643.0L615.7 649.1L622.7 640.3L629.8 646.5L636.8 640.3L645.6 649.1L656.2 643.9L665.0 641.2L675.6 638.6L690.0 640.3"/>
</g>
<g clip-path="url(#t11)">
<path fill="#00f400" d="M685.0 510.0L865.0 510.0L865.0 669.9L685.0 669.9Z"/>
<path fill="#00c800" d="M685.0 510.0C700.0 505.3 783.6 508.8 797.7 510.0C811.8 511.2 794.0 517.4 790.7 518.8C787.4 520.2 777.8 520.8 773.1 520.6C768.4 520.3 760.1 516.3 755.5 517.0C750.8 517.7 742.5 524.9 737.8 525.9C733.1 526.8 723.7 524.8 720.2 524.1C716.7 523.4 713.3 519.6 711.4 520.6C709.5 521.5 708.2 528.8 706.1 531.1C704.0 533.5 698.4 536.3 695.6 538.2C692.7 540.1 686.4 549.0 685.0 545.2C683.6 541.5 670.0 514.7 685.0 510.0ZM693.8 554.0C694.7 550.3 697.0 549.6 699.1 549.6C701.2 549.6 702.3 551.0 704.4 554.0C706.5 557.0 709.0 560.7 709.7 564.6C710.4 568.5 710.0 570.9 707.9 573.4C705.8 575.9 701.7 578.0 699.1 576.9C696.4 575.9 695.7 572.7 694.7 568.1C693.6 563.5 692.9 557.7 693.8 554.0ZM812.9 554.9C812.9 556.2 813.0 555.8 812.3 556.8C811.5 557.8 811.9 557.5 810.7 557.9C809.5 558.3 809.9 558.3 808.7 557.9C807.5 557.5 807.9 557.8 807.1 556.8C806.4 555.8 806.5 556.2 806.5 554.9C806.5 553.7 806.4 554.1 807.1 553.0C807.9 552.0 807.5 552.3 808.7 551.9C809.9 551.5 809.5 551.5 810.7 551.9C811.9 552.3 811.5 552.0 812.3 553.0C813.0 554.1 812.9 553.7 812.9 554.9ZM685.0 580.5C687.3 573.9 697.9 586.6 702.6 587.5C707.3 588.4 715.1 587.7 720.2 587.5C725.4 587.3 735.7 587.1 741.4 585.7C747.0 584.3 756.9 578.3 762.5 576.9C768.1 575.5 778.9 574.9 783.6 575.2C788.3 575.4 794.4 576.8 797.7 578.7C801.0 580.6 808.1 586.9 808.3 589.3C808.5 591.6 802.1 594.2 799.5 596.3C796.9 598.4 791.5 602.1 788.9 605.1C786.3 608.2 781.3 615.7 780.1 619.2C778.9 622.7 781.0 628.7 780.1 631.5C779.2 634.3 775.9 638.2 773.1 640.3C770.2 642.4 761.3 644.8 759.0 647.4C756.6 650.0 755.7 656.7 755.5 659.7C755.2 662.7 757.7 668.6 757.2 669.9C756.7 671.3 752.6 674.8 751.9 669.9C751.2 665.0 753.8 637.7 751.9 633.3C750.0 628.9 742.1 635.2 737.8 636.8C733.6 638.5 724.9 644.9 720.2 645.6C715.5 646.3 707.3 643.3 702.6 642.1C697.9 640.9 687.3 645.0 685.0 636.8C682.7 628.6 682.7 587.0 685.0 580.5ZM843.5 510.0C844.6 506.2 855.0 498.3 856.7 510.0C858.5 521.7 857.1 586.8 856.7 598.1C856.4 609.3 855.8 595.2 854.1 594.5C852.3 593.8 845.6 594.2 843.5 592.8C841.4 591.4 840.1 584.7 838.2 584.0C836.4 583.3 830.1 589.6 829.4 587.5C828.7 585.4 832.0 572.3 832.9 568.1C833.9 563.9 835.1 557.9 836.5 555.8C837.9 553.7 841.9 554.6 843.5 552.3C845.2 549.9 848.8 543.8 848.8 538.2C848.8 532.5 842.5 513.8 843.5 510.0ZM808.3 594.5C809.1 592.1 816.3 590.4 818.9 590.1C821.4 589.9 824.4 592.4 827.7 592.8C830.9 593.1 839.1 592.5 843.5 592.8C848.0 593.0 858.8 584.3 861.1 594.5C863.5 604.8 865.5 659.9 861.1 669.9C856.8 680.0 832.4 672.5 828.5 669.9C824.7 667.4 832.1 655.3 832.1 650.9C832.1 646.5 830.2 639.6 828.5 636.8C826.9 634.0 821.7 632.1 819.7 629.8C817.7 627.4 814.5 622.0 813.6 619.2C812.6 616.4 813.4 611.9 812.7 608.6C812.0 605.3 807.5 597.0 808.3 594.5Z"/>
<path fill="#009000" d="M706.7 568.1C706.7 569.8 706.9 569.3 705.7 570.7C704.6 572.1 705.1 571.8 703.3 572.3C701.4 572.8 702.0 572.8 700.2 572.3C698.4 571.8 698.9 572.1 697.7 570.7C696.6 569.3 696.8 569.8 696.8 568.1C696.8 566.4 696.6 566.9 697.7 565.5C698.9 564.1 698.4 564.5 700.2 563.9C702.0 563.4 701.4 563.4 703.3 563.9C705.1 564.5 704.6 564.1 705.7 565.5C706.9 566.9 706.7 566.4 706.7 568.1ZM816.2 608.6C816.6 605.8 818.6 599.8 820.6 598.1C822.6 596.3 828.1 595.9 831.2 595.4C834.2 595.0 839.5 594.7 843.5 594.5C847.5 594.4 858.8 584.5 861.1 594.5C863.5 604.6 864.9 659.9 861.1 669.9C857.3 680.0 835.9 672.5 832.6 669.9C829.3 667.4 836.1 655.5 836.1 650.9C836.2 646.3 834.5 638.2 832.9 635.0C831.3 631.9 826.1 629.2 824.1 627.1C822.1 625.0 819.0 621.7 818.0 619.2C816.9 616.7 815.9 611.4 816.2 608.6ZM686.8 536.4C687.8 536.1 690.1 538.4 690.3 539.9C690.5 541.5 688.7 544.0 687.6 544.3C686.6 544.7 685.2 543.3 685.0 541.7C684.8 540.1 685.7 536.8 686.8 536.4ZM738.7 519.7C738.7 520.4 738.8 520.2 738.2 520.7C737.6 521.3 737.9 521.1 736.9 521.4C735.9 521.6 736.2 521.6 735.3 521.4C734.3 521.1 734.5 521.3 733.9 520.7C733.3 520.2 733.4 520.4 733.4 519.7C733.4 519.0 733.3 519.2 733.9 518.7C734.5 518.1 734.3 518.2 735.3 518.0C736.2 517.8 735.9 517.8 736.9 518.0C737.9 518.2 737.6 518.1 738.2 518.7C738.8 519.2 738.7 519.0 738.7 519.7ZM789.8 514.4C789.8 515.9 790.0 515.5 788.8 516.7C787.6 517.9 788.1 517.6 786.1 518.1C784.2 518.6 784.8 518.6 782.9 518.1C780.9 517.6 781.5 517.9 780.2 516.7C779.0 515.5 779.2 515.9 779.2 514.4C779.2 512.9 779.0 513.4 780.2 512.1C781.5 510.9 780.9 511.2 782.9 510.7C784.8 510.2 784.2 510.2 786.1 510.7C788.1 511.2 787.6 510.9 788.8 512.1C790.0 513.4 789.8 512.9 789.8 514.4ZM708.8 512.6C708.8 514.4 709.1 513.8 707.3 515.2C705.4 516.6 706.3 516.3 703.3 516.8C700.3 517.4 701.4 517.4 698.4 516.8C695.4 516.3 696.3 516.6 694.4 515.2C692.6 513.8 692.9 514.4 692.9 512.6C692.9 510.9 692.6 511.4 694.4 510.1C696.3 508.7 695.4 509.0 698.4 508.5C701.4 507.9 700.3 507.9 703.3 508.5C706.3 509.0 705.4 508.7 707.3 510.1C709.1 511.4 708.8 510.9 708.8 512.6ZM751.9 594.5C753.0 592.0 755.5 590.9 759.0 590.1C762.5 589.4 770.4 588.8 773.1 590.1C775.7 591.5 775.1 594.7 774.8 598.1C774.5 601.4 773.9 608.0 771.3 610.4C768.7 612.7 762.1 613.0 759.0 612.2C755.9 611.3 754.0 608.0 752.8 605.1C751.6 602.2 750.9 597.0 751.9 594.5ZM800.4 587.5C800.4 589.0 800.6 588.5 799.0 589.8C797.4 591.0 798.1 590.7 795.5 591.2C792.9 591.6 793.8 591.6 791.1 591.2C788.5 590.7 789.2 591.0 787.6 589.8C786.0 588.5 786.3 589.0 786.3 587.5C786.3 586.0 786.0 586.4 787.6 585.2C789.2 584.0 788.5 584.3 791.1 583.8C793.8 583.3 792.9 583.3 795.5 583.8C798.1 584.3 797.4 584.0 799.0 585.2C800.6 586.4 800.4 586.0 800.4 587.5ZM762.5 622.7C762.6 619.2 765.1 616.3 766.9 615.7C768.7 615.1 771.2 617.4 773.1 619.2C775.0 621.0 778.1 623.6 778.3 626.2C778.6 628.9 776.9 633.3 774.8 635.0C772.8 636.8 768.1 638.9 766.0 636.8C764.0 634.8 762.3 626.2 762.5 622.7ZM718.5 621.3C718.5 623.0 718.7 622.5 717.3 623.9C715.9 625.3 716.5 625.0 714.2 625.5C711.9 626.0 712.7 626.0 710.4 625.5C708.1 625.0 708.7 625.3 707.3 623.9C705.9 622.5 706.1 623.0 706.1 621.3C706.1 619.6 705.9 620.1 707.3 618.7C708.7 617.3 708.1 617.7 710.4 617.1C712.7 616.6 711.9 616.6 714.2 617.1C716.5 617.7 715.9 617.3 717.3 618.7C718.7 620.1 718.5 619.6 718.5 621.3ZM693.8 614.8C693.8 615.5 693.9 615.3 693.1 615.8C692.3 616.4 692.7 616.3 691.4 616.5C690.1 616.7 690.5 616.7 689.2 616.5C687.9 616.3 688.2 616.4 687.4 615.8C686.6 615.3 686.8 615.5 686.8 614.8C686.8 614.1 686.6 614.3 687.4 613.8C688.2 613.2 687.9 613.3 689.2 613.1C690.5 612.9 690.1 612.9 691.4 613.1C692.7 613.3 692.3 613.2 693.1 613.8C693.9 614.3 693.8 614.1 693.8 614.8ZM832.1 568.1C831.8 563.1 834.7 557.8 836.5 555.8C838.2 553.7 841.3 553.4 842.6 555.8C844.0 558.1 843.4 565.2 844.4 569.9C845.4 574.6 848.9 579.9 848.8 584.0C848.6 588.1 845.3 594.2 843.5 594.5C841.8 594.8 840.1 590.1 838.2 585.7C836.3 581.3 832.4 573.1 832.1 568.1ZM811.8 596.3C812.2 593.8 814.6 593.0 817.1 592.8C819.6 592.6 823.4 593.3 824.1 595.4C824.8 597.5 822.4 601.4 820.6 603.3C818.9 605.3 817.1 606.5 815.3 605.1C813.6 603.7 811.5 598.8 811.8 596.3ZM685.0 633.3C687.3 628.9 696.7 635.2 702.6 636.8C708.5 638.5 723.6 646.1 729.0 645.6C734.4 645.1 739.6 635.2 743.1 633.3C746.6 631.4 753.3 631.1 755.5 631.5C757.6 632.0 759.0 634.2 759.0 636.8C759.0 639.4 755.7 646.5 755.5 650.9C755.2 655.3 766.6 667.4 757.2 669.9C747.8 672.5 694.6 674.8 685.0 669.9C675.4 665.0 682.7 637.7 685.0 633.3Z"/>
<path fill="#ffff00" d="M704.9 512.1C704.9 513.1 705.1 512.8 704.0 513.7C702.8 514.5 703.3 514.3 701.5 514.6C699.7 514.9 700.3 514.9 698.4 514.6C696.6 514.3 697.1 514.5 696.0 513.7C694.8 512.8 695.0 513.1 695.0 512.1C695.0 511.1 694.8 511.4 696.0 510.6C697.1 509.7 696.6 509.9 698.4 509.6C700.3 509.3 699.7 509.3 701.5 509.6C703.3 509.9 702.8 509.7 704.0 510.6C705.1 511.4 704.9 511.1 704.9 512.1ZM787.2 512.6C787.2 513.1 787.3 513.0 786.6 513.4C786.0 513.8 786.3 513.7 785.3 513.8C784.3 514.0 784.7 514.0 783.7 513.8C782.7 513.7 783.0 513.8 782.4 513.4C781.8 513.0 781.9 513.1 781.9 512.6C781.9 512.2 781.8 512.3 782.4 511.9C783.0 511.5 782.7 511.6 783.7 511.5C784.7 511.3 784.3 511.3 785.3 511.5C786.3 511.6 786.0 511.5 786.6 511.9C787.3 512.3 787.2 512.2 787.2 512.6ZM770.9 601.2C770.9 603.0 771.2 602.4 769.8 603.8C768.5 605.2 769.1 604.9 766.9 605.4C764.8 606.0 765.5 606.0 763.3 605.4C761.2 604.9 761.8 605.2 760.4 603.8C759.1 602.4 759.3 603.0 759.3 601.2C759.3 599.5 759.1 600.0 760.4 598.6C761.8 597.2 761.2 597.6 763.3 597.0C765.5 596.5 764.8 596.5 766.9 597.0C769.1 597.6 768.5 597.2 769.8 598.6C771.2 600.0 770.9 599.5 770.9 601.2ZM775.7 629.4C775.7 630.9 775.9 630.5 774.9 631.7C773.8 632.9 774.3 632.6 772.7 633.1C771.0 633.6 771.6 633.6 769.9 633.1C768.3 632.6 768.8 632.9 767.7 631.7C766.7 630.5 766.9 630.9 766.9 629.4C766.9 627.9 766.7 628.4 767.7 627.1C768.8 625.9 768.3 626.2 769.9 625.7C771.6 625.3 771.0 625.3 772.7 625.7C774.3 626.2 773.8 625.9 774.9 627.1C775.9 628.4 775.7 627.9 775.7 629.4ZM832.9 573.4C833.2 570.9 836.2 562.4 837.3 562.0C838.5 561.5 840.9 567.9 841.8 569.9C842.6 571.9 843.7 574.6 843.5 576.9C843.3 579.3 841.0 587.0 840.0 587.5C838.9 588.0 836.5 582.3 835.6 580.5C834.6 578.6 832.7 575.9 832.9 573.4ZM818.9 608.6C819.3 606.0 822.5 601.2 824.1 599.8C825.8 598.4 829.5 597.6 831.2 598.1C832.8 598.5 835.3 601.2 836.5 603.3C837.6 605.5 838.8 612.7 840.0 613.9C841.2 615.1 844.3 613.8 845.3 612.2C846.2 610.5 846.9 603.7 847.0 601.6C847.2 599.5 844.9 596.8 846.2 596.3C847.4 595.8 855.3 588.2 856.7 598.1C858.1 607.9 859.7 660.3 856.7 669.9C853.8 679.5 837.1 672.5 834.7 669.9C832.4 667.4 838.9 655.8 839.1 650.9C839.3 646.0 838.2 636.8 836.5 633.3C834.7 629.8 828.0 626.4 825.9 624.5C823.8 622.6 821.6 621.3 820.6 619.2C819.7 617.1 818.4 611.2 818.9 608.6ZM685.0 649.1C687.3 646.3 698.4 643.9 702.6 643.9C706.8 643.9 712.9 648.7 716.7 649.1C720.5 649.6 727.5 649.0 730.8 647.4C734.1 645.7 738.3 638.8 741.4 636.8C744.4 634.8 751.6 632.4 753.7 632.4C755.8 632.4 757.2 634.3 757.2 636.8C757.2 639.3 754.3 646.5 753.7 650.9C753.1 655.3 754.0 667.4 752.8 669.9C751.6 672.5 746.6 671.8 744.9 669.9C743.1 668.1 741.9 658.0 739.6 656.2C737.3 654.4 730.8 655.7 727.3 656.2C723.7 656.7 716.5 659.5 713.2 659.7C709.9 659.9 706.4 657.2 702.6 657.9C698.9 658.6 687.3 666.2 685.0 665.0C682.7 663.8 682.7 652.0 685.0 649.1Z"/>
<path fill="#e8c000" d="M840.7 576.0C840.7 577.3 840.8 576.9 840.3 577.9C839.8 578.9 840.0 578.7 839.2 579.1C838.4 579.4 838.7 579.4 837.9 579.1C837.1 578.7 837.4 578.9 836.9 577.9C836.4 576.9 836.5 577.3 836.5 576.0C836.5 574.8 836.4 575.2 836.9 574.2C837.4 573.2 837.1 573.4 837.9 573.0C838.7 572.6 838.4 572.6 839.2 573.0C840.0 573.4 839.8 573.2 840.3 574.2C840.8 575.2 840.7 574.8 840.7 576.0ZM821.5 610.4C821.3 607.7 824.6 603.6 825.9 602.5C827.2 601.3 830.0 600.8 831.2 601.6C832.4 602.4 833.5 606.4 834.7 608.6C835.9 610.9 838.3 617.4 840.0 618.3C841.6 619.3 845.6 617.4 847.0 615.7C848.4 613.9 849.3 606.8 850.6 605.1C851.8 603.5 855.9 594.7 856.7 603.3C857.5 612.0 859.2 661.0 856.7 669.9C854.3 678.8 840.2 672.5 838.2 669.9C836.2 667.4 841.6 655.8 841.8 650.9C841.9 646.0 841.0 637.0 839.1 633.3C837.2 629.5 830.0 625.8 827.7 622.7C825.3 619.7 821.7 613.1 821.5 610.4ZM685.0 652.7C687.3 651.0 698.4 647.4 702.6 647.4C706.8 647.4 713.2 652.2 716.7 652.7C720.2 653.1 726.0 652.3 729.0 650.9C732.1 649.5 736.5 644.1 739.6 642.1C742.7 640.1 750.2 635.2 751.9 635.9C753.7 636.6 753.3 644.9 752.8 647.4C752.3 649.8 749.9 654.0 748.4 654.4C746.9 654.9 744.4 651.0 741.4 650.9C738.3 650.8 729.5 652.8 725.5 653.5C721.5 654.2 714.9 656.1 711.4 656.2C707.9 656.3 702.6 654.0 699.1 654.4C695.6 654.9 686.9 659.9 685.0 659.7C683.1 659.5 682.7 654.3 685.0 652.7Z"/>
<path fill="#ff9000" d="M823.3 613.9C822.8 611.7 826.4 606.8 827.7 606.0C829.0 605.2 831.8 606.2 832.9 607.7C834.1 609.3 835.1 615.4 836.5 617.4C837.9 619.4 841.6 623.4 843.5 622.7C845.4 622.0 848.8 614.0 850.6 612.2C852.3 610.3 855.9 600.9 856.7 608.6C857.5 616.3 858.8 661.7 856.7 669.9C854.6 678.1 842.6 672.5 840.9 669.9C839.1 667.4 843.4 655.8 843.5 650.9C843.6 646.0 843.4 637.0 841.8 633.3C840.1 629.5 833.6 625.3 831.2 622.7C828.7 620.1 823.7 616.1 823.3 613.9ZM745.4 643.3C745.4 643.9 745.5 643.7 745.1 644.2C744.8 644.6 745.0 644.5 744.4 644.7C743.9 644.8 744.1 644.8 743.6 644.7C743.0 644.5 743.2 644.6 742.9 644.2C742.5 643.7 742.6 643.9 742.6 643.3C742.6 642.8 742.5 642.9 742.9 642.5C743.2 642.1 743.0 642.2 743.6 642.0C744.1 641.8 743.9 641.8 744.4 642.0C745.0 642.2 744.8 642.1 745.1 642.5C745.5 642.9 745.4 642.8 745.4 643.3Z"/>
<path fill="#ff0000" d="M823.3 614.8C823.1 612.4 826.6 607.3 828.5 606.9C830.5 606.4 833.4 610.1 834.7 612.2C836.0 614.2 837.3 617.7 836.5 619.2C835.6 620.7 831.6 621.7 829.4 621.0C827.2 620.2 823.4 617.1 823.3 614.8ZM847.0 622.7C847.7 619.9 852.1 617.1 854.1 615.7C856.0 614.3 856.2 612.5 856.7 615.7C857.3 618.8 858.0 628.7 856.7 631.5C855.5 634.3 852.5 631.5 850.6 629.8C848.6 628.0 846.3 625.5 847.0 622.7ZM843.5 643.9C843.7 641.0 847.0 639.0 848.8 638.6C850.6 638.1 855.7 636.8 856.7 640.3C857.8 643.9 858.0 662.4 856.7 665.0C855.4 667.6 848.8 662.5 847.0 659.7C845.3 656.9 843.3 646.7 843.5 643.9Z"/>
<path fill="#d80000" d="M832.9 615.3C832.9 616.4 833.1 616.0 832.3 616.9C831.6 617.7 831.9 617.5 830.8 617.8C829.6 618.2 830.0 618.2 828.8 617.8C827.6 617.5 827.9 617.7 827.2 616.9C826.5 616.0 826.6 616.4 826.6 615.3C826.6 614.3 826.5 614.6 827.2 613.8C827.9 612.9 827.6 613.1 828.8 612.8C830.0 612.5 829.6 612.5 830.8 612.8C831.9 613.1 831.6 612.9 832.3 613.8C833.1 614.6 832.9 614.3 832.9 615.3Z"/>
<path fill="#009000" d="M707.9 656.2C712.8 654.4 716.0 653.7 720.2 654.4C724.5 655.1 729.0 656.6 729.0 659.7C729.0 662.8 725.5 667.9 720.2 669.9C714.9 672.0 707.5 671.3 702.6 669.9C697.7 668.6 694.5 666.0 695.6 663.2C696.6 660.5 703.0 657.9 707.9 656.2Z"/>
<path fill="#ffff00" d="M729.9 665.9C729.9 666.7 730.1 666.4 729.2 667.1C728.4 667.8 728.8 667.6 727.5 667.9C726.2 668.1 726.6 668.1 725.3 667.9C724.0 667.6 724.4 667.8 723.5 667.1C722.7 666.4 722.9 666.7 722.9 665.9C722.9 665.0 722.7 665.3 723.5 664.6C724.4 664.0 724.0 664.1 725.3 663.9C726.6 663.6 726.2 663.6 727.5 663.9C728.8 664.1 728.4 664.0 729.2 664.6C730.1 665.3 729.9 665.0 729.9 665.9Z"/>
<path fill="none" stroke="#0b3b0b" stroke-width="1.7" stroke-linejoin="round" d="M708.8 510.0L711.4 536.4L718.5 562.8L720.2 598.1L721.1 650.9L739.6 653.5L741.4 669.9M708.8 513.2L783.6 510.0M685.0 641.2L692.0 635.9L702.6 642.1L709.7 646.5L716.7 650.9L721.1 650.9M856.7 622.7L852.3 633.3L855.0 643.9L850.6 647.4L854.1 656.2L856.7 659.7"/>
</g>
<g clip-path="url(#t12)">
<path fill="#00c800" d="M160.0 665.0L340.0 665.0L340.0 824.9L160.0 824.9Z"/>
<path fill="#009000" d="M163.9 731.9C168.1 720.9 189.2 734.3 195.2 735.5C201.3 736.6 207.2 737.0 209.3 740.7C211.4 744.5 209.7 759.2 211.1 763.6C212.5 768.1 214.5 772.3 219.9 774.2C225.3 776.1 245.5 778.2 251.6 777.7C257.7 777.3 262.4 770.4 265.7 770.7C269.0 770.9 272.5 776.7 276.2 779.5C280.0 782.3 290.1 788.3 293.9 791.8C297.6 795.3 302.3 802.4 304.4 805.9C306.5 809.4 328.4 816.6 309.7 818.2C291.0 819.9 183.3 829.7 163.9 818.2C144.4 806.7 159.7 743.0 163.9 731.9ZM272.7 665.0C281.2 662.2 331.0 662.7 340.0 665.0C349.0 667.3 341.5 680.0 340.0 682.6C338.5 685.2 331.0 682.0 329.1 684.4C327.2 686.7 327.0 697.4 325.6 700.2C324.1 703.0 321.8 705.0 318.5 705.5C315.2 706.0 305.1 704.7 300.9 703.7C296.7 702.8 290.1 700.8 286.8 698.5C283.5 696.1 278.1 690.6 276.2 686.1C274.4 681.7 264.2 667.8 272.7 665.0ZM318.5 739.0C319.0 735.7 326.2 732.4 329.1 731.9C331.9 731.5 338.5 730.3 340.0 735.5C341.5 740.6 341.5 766.2 340.0 770.7C338.5 775.1 331.0 770.8 329.1 768.9C327.2 767.0 327.0 760.6 325.6 756.6C324.1 752.6 318.0 742.3 318.5 739.0ZM283.3 744.3C284.2 742.1 286.1 742.8 288.6 746.0C291.0 749.2 295.3 756.6 295.6 760.1C296.0 763.6 292.6 764.3 290.3 763.6C288.0 762.9 285.6 760.5 284.2 756.6C282.8 752.7 282.4 746.4 283.3 744.3ZM318.5 818.2C316.3 816.8 324.8 812.9 329.1 811.2C333.4 809.4 337.8 808.0 340.0 809.4C342.2 810.8 344.3 816.5 340.0 818.2C335.7 820.0 320.7 819.6 318.5 818.2ZM163.9 665.0C167.1 656.1 184.0 663.6 188.2 665.0C192.4 666.4 195.2 672.5 195.2 675.6C195.2 678.6 187.7 685.1 188.2 687.9C188.6 690.7 197.8 694.4 198.7 696.7C199.7 699.1 194.3 703.4 195.2 705.5C196.2 707.6 205.8 710.2 205.8 712.6C205.8 714.9 197.1 720.5 195.2 723.1C193.3 725.7 195.9 730.8 191.7 731.9C187.5 733.1 167.6 740.9 163.9 731.9C160.2 723.0 160.6 673.9 163.9 665.0ZM219.9 675.6C220.8 674.9 228.8 676.4 230.5 680.9C232.1 685.3 232.7 704.6 232.2 709.0C231.7 713.5 228.3 715.5 226.9 714.3C225.5 713.1 222.1 704.0 221.6 700.2C221.2 696.5 223.6 689.4 223.4 686.1C223.2 682.8 218.9 676.3 219.9 675.6Z"/>
<path fill="#00c800" d="M177.6 686.1C178.1 684.5 192.2 684.0 195.2 682.6C198.3 681.2 198.2 677.0 200.5 675.6C202.9 674.2 210.5 670.9 212.8 672.0C215.2 673.2 218.1 681.3 218.1 684.4C218.1 687.4 214.7 693.1 212.8 694.9C211.0 696.8 206.8 698.5 204.0 698.5C201.2 698.5 195.2 696.6 191.7 694.9C188.2 693.3 177.1 687.8 177.6 686.1Z"/>
<path fill="#00f400" d="M202.3 675.6C202.5 673.5 207.9 670.0 209.3 670.3C210.7 670.5 211.7 675.5 212.8 677.3C214.0 679.2 216.9 682.3 218.1 684.4C219.3 686.5 221.6 689.9 221.6 693.2C221.6 696.5 219.3 708.1 218.1 709.0C216.9 710.0 214.2 703.3 212.8 700.2C211.4 697.2 209.0 689.4 207.6 686.1C206.1 682.8 202.0 677.7 202.3 675.6ZM216.4 735.5C216.8 729.1 218.0 725.5 219.9 723.1C221.8 720.8 227.9 718.8 230.5 717.8C233.0 716.9 237.4 717.5 239.3 716.1C241.1 714.7 243.4 711.3 244.5 707.3C245.7 703.3 246.7 689.4 248.1 686.1C249.5 682.8 253.2 682.4 255.1 682.6C257.0 682.8 261.4 684.8 262.2 687.9C262.9 690.9 259.9 701.5 260.4 705.5C260.9 709.5 264.5 717.6 265.7 717.8C266.8 718.1 267.6 708.9 269.2 707.3C270.8 705.6 276.4 704.6 278.0 705.5C279.6 706.4 282.2 711.5 281.5 714.3C280.8 717.1 274.8 723.8 272.7 726.6C270.6 729.5 265.7 732.4 265.7 735.5C265.7 738.5 272.3 745.8 272.7 749.5C273.2 753.3 271.1 761.5 269.2 763.6C267.3 765.7 261.0 764.0 258.6 765.4C256.3 766.8 255.3 773.0 251.6 774.2C247.8 775.4 235.1 774.7 230.5 774.2C225.8 773.7 218.2 775.8 216.4 770.7C214.5 765.5 215.9 741.8 216.4 735.5ZM293.9 731.9C294.3 729.6 299.0 728.5 300.9 730.2C302.8 731.8 306.8 740.7 307.9 744.3C309.1 747.8 308.3 752.6 309.7 756.6C311.1 760.6 317.1 770.4 318.5 774.2C319.9 778.0 321.0 782.9 320.3 784.8C319.6 786.6 315.1 789.0 313.2 788.3C311.4 787.6 307.8 782.8 306.2 779.5C304.5 776.2 302.1 767.9 300.9 763.6C299.7 759.4 298.3 752.0 297.4 747.8C296.4 743.6 293.4 734.3 293.9 731.9ZM279.8 777.7C281.2 776.1 290.1 773.3 293.9 774.2C297.6 775.1 305.1 782.4 307.9 784.8C310.8 787.1 313.6 789.5 315.0 791.8C316.4 794.2 319.0 800.7 318.5 802.4C318.0 804.0 314.3 805.5 311.5 804.1C308.6 802.7 301.1 794.2 297.4 791.8C293.6 789.5 285.6 788.4 283.3 786.5C280.9 784.6 278.4 779.4 279.8 777.7ZM204.0 723.1C204.0 721.4 206.1 720.7 207.6 721.4C209.0 722.1 211.1 724.9 211.1 726.6C211.1 728.4 209.0 730.9 207.6 730.2C206.1 729.5 204.0 724.9 204.0 723.1ZM331.7 665.0C332.8 662.5 338.3 662.2 340.0 665.0C341.7 667.8 341.1 676.6 340.0 679.1C338.9 681.6 336.0 680.1 334.4 677.3C332.7 674.5 330.6 667.5 331.7 665.0Z"/>
<path fill="#ffff00" d="M163.9 778.6C164.7 777.7 189.0 778.5 189.9 778.6C190.9 778.7 191.5 782.0 193.5 782.1C195.4 782.2 246.1 782.0 248.1 782.1C250.0 782.3 250.9 786.4 251.6 786.5C252.2 786.7 266.1 785.8 267.4 786.5C268.8 787.2 291.3 806.6 292.1 807.7C292.9 808.7 295.8 817.9 292.1 818.2C288.4 818.6 184.0 818.5 180.3 818.2C176.5 818.0 179.5 811.6 179.4 811.2C179.2 810.8 176.4 806.1 175.9 805.9C175.3 805.7 164.3 806.8 163.9 805.9C163.5 805.0 163.0 779.5 163.9 778.6ZM163.9 702.9C164.7 700.6 171.0 702.8 172.3 703.7C173.6 704.7 176.9 710.8 176.7 712.6C176.6 714.3 171.9 720.0 170.6 721.4C169.3 722.8 164.5 728.5 163.9 726.6C163.2 724.8 163.0 705.2 163.9 702.9ZM176.7 702.0C177.0 700.9 180.8 699.9 182.9 700.2C185.0 700.6 197.0 704.3 197.9 705.5C198.7 706.7 193.0 711.6 191.7 712.6C190.4 713.5 185.8 715.4 184.7 715.2C183.5 715.0 181.0 712.1 180.3 710.8C179.5 709.5 176.5 703.0 176.7 702.0ZM210.2 699.9C210.2 700.6 210.4 700.3 209.2 700.9C208.0 701.5 208.5 701.3 206.5 701.5C204.6 701.8 205.2 701.8 203.3 701.5C201.3 701.3 201.9 701.5 200.6 700.9C199.4 700.3 199.6 700.6 199.6 699.9C199.6 699.2 199.4 699.4 200.6 698.8C201.9 698.3 201.3 698.4 203.3 698.2C205.2 698.0 204.6 698.0 206.5 698.2C208.5 698.4 208.0 698.3 209.2 698.8C210.4 699.4 210.2 699.2 210.2 699.9ZM186.9 728.8C186.9 729.8 187.1 729.5 186.1 730.3C185.1 731.1 185.5 731.0 183.9 731.3C182.3 731.6 182.8 731.6 181.2 731.3C179.5 731.0 180.0 731.1 179.0 730.3C178.0 729.5 178.1 729.8 178.1 728.8C178.1 727.7 178.0 728.0 179.0 727.2C180.0 726.4 179.5 726.6 181.2 726.2C182.8 725.9 182.3 725.9 183.9 726.2C185.5 726.6 185.1 726.4 186.1 727.2C187.1 728.0 186.9 727.7 186.9 728.8ZM286.4 676.3C285.1 678.5 285.8 678.0 283.4 679.0C281.0 680.1 281.8 680.0 279.3 679.5C276.7 678.9 277.4 679.4 275.7 677.4C273.9 675.5 274.3 676.2 274.0 673.6C273.7 671.0 273.5 671.9 274.8 669.6C276.2 667.3 275.5 667.9 277.9 666.8C280.3 665.7 279.5 665.8 282.0 666.4C284.6 666.9 283.9 666.5 285.6 668.4C287.4 670.4 287.0 669.6 287.3 672.2C287.6 674.8 287.8 674.0 286.4 676.3ZM228.7 675.6C229.1 673.1 230.7 668.5 232.2 666.8C233.7 665.0 235.7 665.0 237.5 665.0C239.3 665.0 241.8 664.7 242.8 666.8C243.8 668.8 244.1 674.1 243.7 677.3C243.2 680.6 240.3 683.5 240.1 686.1C240.0 688.8 242.2 690.2 242.8 693.2C243.4 696.1 244.4 700.8 243.7 703.7C242.9 706.7 240.1 709.9 238.4 710.8C236.6 711.7 234.4 710.8 233.1 709.0C231.8 707.3 230.5 703.2 230.5 700.2C230.5 697.3 232.4 693.8 233.1 691.4C233.8 689.1 235.4 687.7 234.9 686.1C234.3 684.5 230.6 683.5 229.6 681.7C228.5 680.0 228.2 678.1 228.7 675.6Z"/>
<path fill="#e8c000" d="M242.8 673.8C242.8 676.9 243.0 676.0 241.8 678.5C240.6 681.0 241.1 680.4 239.1 681.3C237.2 682.3 237.8 682.3 235.9 681.3C233.9 680.4 234.4 681.0 233.2 678.5C232.0 676.0 232.2 676.9 232.2 673.8C232.2 670.7 232.0 671.7 233.2 669.1C234.4 666.6 233.9 667.2 235.9 666.3C237.8 665.3 237.2 665.3 239.1 666.3C241.1 667.2 240.6 666.6 241.8 669.1C243.0 671.7 242.8 670.7 242.8 673.8ZM242.3 700.2C242.3 703.3 242.4 702.4 241.3 704.9C240.2 707.4 240.7 706.8 239.0 707.8C237.2 708.7 237.8 708.7 236.0 707.8C234.3 706.8 234.7 707.4 233.6 704.9C232.6 702.4 232.7 703.3 232.7 700.2C232.7 697.1 232.6 698.1 233.6 695.6C234.7 693.1 234.3 693.6 236.0 692.7C237.8 691.7 237.2 691.7 239.0 692.7C240.7 693.6 240.2 693.1 241.3 695.6C242.4 698.1 242.3 697.1 242.3 700.2Z"/>
<path fill="#ff9000" d="M241.0 673.5C241.0 675.7 241.2 675.0 240.3 676.9C239.5 678.7 239.9 678.3 238.6 679.0C237.3 679.7 237.7 679.7 236.4 679.0C235.1 678.3 235.5 678.7 234.6 676.9C233.8 675.0 234.0 675.7 234.0 673.5C234.0 671.2 233.8 671.9 234.6 670.0C235.5 668.2 235.1 668.6 236.4 667.9C237.7 667.2 237.3 667.2 238.6 667.9C239.9 668.6 239.5 668.2 240.3 670.0C241.2 671.9 241.0 671.2 241.0 673.5ZM239.6 699.9C239.6 701.6 239.7 701.1 239.2 702.5C238.7 703.9 238.9 703.5 238.1 704.1C237.4 704.6 237.6 704.6 236.8 704.1C236.1 703.5 236.3 703.9 235.8 702.5C235.3 701.1 235.4 701.6 235.4 699.9C235.4 698.1 235.3 698.7 235.8 697.3C236.3 695.9 236.1 696.2 236.8 695.7C237.6 695.2 237.4 695.2 238.1 695.7C238.9 696.2 238.7 695.9 239.2 697.3C239.7 698.7 239.6 698.1 239.6 699.9Z"/>
<path fill="#0000f0" d="M249.8 687.9C250.8 686.4 255.7 686.1 256.9 687.0C258.0 688.0 258.6 692.2 258.6 694.9C258.6 697.6 257.2 703.5 256.9 707.3C256.5 711.0 255.8 718.9 256.0 723.1C256.2 727.3 257.3 735.5 258.6 739.0C259.9 742.5 264.3 746.5 265.7 749.5C267.1 752.6 269.9 760.9 269.2 761.9C268.5 762.8 262.5 758.5 260.4 756.6C258.3 754.7 255.0 750.6 253.3 747.8C251.7 745.0 249.5 738.5 248.1 735.5C246.7 732.4 243.7 727.2 242.8 724.9C241.8 722.5 240.3 720.0 241.0 717.8C241.7 715.7 246.9 711.6 248.1 709.0C249.2 706.4 249.6 701.3 249.8 698.5C250.1 695.6 248.9 689.4 249.8 687.9ZM219.0 734.6C219.6 731.9 224.9 723.4 226.0 723.1C227.2 722.9 229.3 730.7 230.5 731.9C231.6 733.2 236.4 734.4 237.5 735.5C238.6 736.5 240.1 740.7 241.0 742.5C241.9 744.3 245.1 752.0 246.3 753.1C247.5 754.1 252.5 752.4 253.3 753.1C254.2 753.8 255.3 758.5 255.1 760.1C254.9 761.7 255.0 768.0 251.6 768.9C248.2 769.8 223.9 770.9 220.8 768.9C217.6 767.0 220.1 753.0 219.9 749.5C219.7 746.1 218.4 737.2 219.0 734.6ZM337.0 670.3C337.1 669.5 339.8 668.8 340.0 670.3C340.2 671.8 340.1 692.4 340.0 693.2C339.9 694.0 338.1 684.1 337.9 682.6C337.7 681.1 336.9 671.1 337.0 670.3Z"/>
<path fill="#00a0f0" d="M244.5 717.8C245.1 716.0 248.8 710.8 249.8 710.8C250.9 710.8 252.1 714.5 252.5 717.8C252.8 721.1 253.1 733.5 252.5 735.5C251.9 737.4 249.0 734.2 248.1 732.8C247.1 731.4 245.9 726.9 245.4 724.9C245.0 722.9 244.0 719.7 244.5 717.8ZM256.9 745.1C256.9 744.8 259.4 747.3 259.5 747.8C259.6 748.2 258.8 752.4 258.6 752.2C258.5 752.0 256.8 745.4 256.9 745.1ZM226.9 739.9C227.2 739.6 231.2 741.1 231.3 741.6C231.4 742.1 229.0 747.5 228.7 747.8C228.4 748.1 227.0 746.5 226.9 746.0C226.8 745.5 226.6 740.1 226.9 739.9Z"/>
<path fill="#00f400" d="M240.1 739.9C240.1 738.2 243.0 738.2 244.5 739.0C246.1 739.8 250.4 744.4 251.6 746.0C252.8 747.7 253.6 750.1 253.3 751.3C253.1 752.5 251.0 754.8 249.8 754.8C248.6 754.8 245.8 753.3 244.5 751.3C243.2 749.3 240.1 741.5 240.1 739.9Z"/>
<path fill="none" stroke="#0b3b0b" stroke-width="1.7" stroke-linejoin="round" d="M163.9 732.8L170.6 731.9L234.0 735.5L251.6 753.1L260.4 758.3L279.8 783.0L293.9 788.3L300.9 797.1L302.7 805.9L307.9 814.7L308.8 818.2M234.0 735.5L234.9 725.8L340.0 731.0M170.6 731.9L167.9 751.3L163.9 751.7"/>
</g>
<g clip-path="url(#t13)">
<path fill="#00c800" d="M335.0 665.0L515.0 665.0L515.0 824.9L335.0 824.9Z"/>
<path fill="#00f400" d="M335.0 665.0C347.2 660.3 414.4 662.7 426.6 665.0C438.8 667.3 427.1 676.5 426.6 682.6C426.1 688.7 421.2 706.1 423.1 710.8C424.9 715.5 438.6 714.5 440.7 717.8C442.8 721.1 440.3 732.4 438.9 735.5C437.5 738.5 433.6 739.1 430.1 740.7C426.6 742.4 415.8 744.7 412.5 747.8C409.2 750.8 408.7 761.5 405.5 763.6C402.2 765.7 392.5 764.6 387.8 763.6C383.1 762.7 374.9 759.9 370.2 756.6C365.5 753.3 356.6 744.1 352.6 739.0C348.6 733.8 342.6 723.0 340.3 717.8C337.9 712.7 335.7 707.3 335.0 700.2C334.3 693.2 322.8 669.7 335.0 665.0Z"/>
<path fill="#009000" d="M335.0 735.5C337.3 725.4 348.4 739.7 352.6 742.5C356.8 745.3 362.0 753.5 366.7 756.6C371.4 759.6 382.7 764.0 387.8 765.4C393.0 766.8 402.2 768.3 405.5 767.2C408.7 766.0 411.6 758.9 412.5 756.6C413.4 754.2 411.1 751.4 412.5 749.5C413.9 747.7 420.2 744.8 423.1 742.5C425.9 740.1 431.3 735.2 433.6 731.9C436.0 728.6 441.1 721.1 440.7 717.8C440.2 714.5 431.0 712.0 430.1 707.3C429.2 702.6 432.2 687.5 433.6 682.6C435.0 677.7 437.4 671.9 440.7 670.3C444.0 668.6 454.5 668.6 458.3 670.3C462.0 671.9 467.0 683.3 468.9 682.6C470.7 681.9 466.2 667.3 472.4 665.0C478.5 662.7 509.3 644.6 515.0 665.0C520.7 685.4 539.0 797.8 515.0 818.2C491.0 838.7 359.0 829.3 335.0 818.2C311.0 807.2 332.7 745.5 335.0 735.5Z"/>
<path fill="#00c800" d="M391.4 730.2C392.3 728.1 399.1 724.5 401.9 723.1C404.7 721.7 409.9 719.6 412.5 719.6C415.1 719.6 420.8 721.5 421.3 723.1C421.8 724.8 418.1 730.3 416.0 731.9C413.9 733.6 408.3 734.5 405.5 735.5C402.6 736.4 396.8 739.7 394.9 739.0C393.0 738.3 390.4 732.3 391.4 730.2ZM468.9 682.6C469.6 679.6 472.6 672.4 475.9 670.3C479.2 668.2 490.2 666.1 493.5 666.8C496.8 667.5 500.6 672.7 500.6 675.6C500.6 678.4 495.2 684.8 493.5 687.9C491.9 690.9 490.6 696.6 488.2 698.5C485.9 700.3 478.2 702.7 475.9 702.0C473.6 701.3 471.6 695.8 470.6 693.2C469.7 690.6 468.2 685.7 468.9 682.6Z"/>
<path fill="#00f400" d="M470.6 679.1C470.6 676.3 473.3 673.5 475.9 672.0C478.5 670.6 487.6 668.1 490.0 668.5C492.3 669.0 494.0 673.0 493.5 675.6C493.0 678.2 488.8 685.5 486.5 687.9C484.1 690.2 478.0 694.4 475.9 693.2C473.8 692.0 470.6 681.9 470.6 679.1ZM502.3 665.0C503.8 663.6 512.5 663.6 515.0 665.0C517.5 666.4 516.5 670.6 515.0 672.0C513.5 673.5 510.1 673.5 507.6 672.0C505.1 670.6 500.8 666.4 502.3 665.0Z"/>
<path fill="#ffff00" d="M412.5 753.1C413.0 751.2 415.0 749.2 417.8 747.8C420.6 746.4 429.6 743.7 433.6 742.5C437.6 741.3 445.6 740.4 447.7 739.0C449.8 737.6 448.1 733.1 449.5 731.9C450.9 730.8 456.2 731.3 458.3 730.2C460.4 729.0 464.9 725.2 465.3 723.1C465.8 721.0 462.7 714.3 461.8 714.3C460.9 714.3 459.7 721.9 458.3 723.1C456.9 724.3 453.1 724.1 451.2 723.1C449.4 722.2 446.1 718.2 444.2 716.1C442.3 714.0 438.4 710.3 437.2 707.3C435.9 704.2 434.3 696.9 434.5 693.2C434.7 689.4 437.6 681.9 438.9 679.1C440.2 676.3 442.1 673.0 444.2 672.0C446.3 671.1 452.2 671.1 454.8 672.0C457.3 673.0 462.0 676.5 463.6 679.1C465.1 681.7 466.1 687.4 466.2 691.4C466.3 695.4 464.1 704.8 464.5 709.0C464.8 713.3 467.3 721.2 468.9 723.1C470.4 725.0 474.7 725.0 475.9 723.1C477.1 721.2 475.3 711.1 477.7 709.0C480.0 706.9 489.5 708.0 493.5 707.3C497.5 706.6 504.7 704.2 507.6 703.7C510.5 703.3 514.0 688.5 515.0 703.7C516.0 719.0 521.2 803.0 515.0 818.2C508.8 833.5 475.7 819.4 468.9 818.2C462.0 817.1 465.2 811.1 463.6 809.4C461.9 807.8 458.6 806.4 456.5 805.9C454.4 805.4 449.8 806.8 447.7 805.9C445.6 805.0 441.4 801.2 440.7 798.9C440.0 796.5 442.7 791.1 442.4 788.3C442.2 785.5 440.6 779.1 438.9 777.7C437.3 776.3 432.0 778.9 430.1 777.7C428.2 776.5 426.9 771.0 424.8 768.9C422.7 766.8 415.9 764.0 414.3 761.9C412.6 759.8 412.0 754.9 412.5 753.1ZM488.2 687.9C488.7 685.5 492.2 679.3 495.3 677.3C498.3 675.3 508.5 673.5 511.1 672.9C513.8 672.3 514.5 668.1 515.0 672.9C515.5 677.7 517.9 704.2 515.0 709.0C512.1 713.8 495.0 710.7 493.5 709.0C492.1 707.4 504.3 698.6 504.1 696.7C503.8 694.8 493.9 696.1 491.8 694.9C489.6 693.8 487.8 690.2 488.2 687.9ZM345.6 777.7C345.8 775.6 349.9 771.5 350.9 768.9C351.8 766.3 351.7 760.5 352.6 758.3C353.6 756.2 356.5 753.3 357.9 753.1C359.3 752.8 362.0 754.7 363.2 756.6C364.4 758.5 365.3 765.3 366.7 767.2C368.1 769.0 372.1 770.9 373.7 770.7C375.4 770.4 377.2 765.9 379.0 765.4C380.9 764.9 385.3 766.6 387.8 767.2C390.4 767.7 397.5 768.9 398.4 769.8C399.3 770.7 396.8 773.6 394.9 774.2C393.0 774.8 386.2 773.5 384.3 774.2C382.4 774.9 381.0 777.6 380.8 779.5C380.6 781.4 382.8 785.9 382.6 788.3C382.3 790.6 381.1 795.8 379.0 797.1C376.9 798.4 369.1 798.4 366.7 798.0C364.4 797.5 362.4 795.1 361.4 793.6C360.5 792.0 361.3 787.7 359.7 786.5C358.0 785.4 351.0 785.9 349.1 784.8C347.2 783.6 345.3 779.8 345.6 777.7ZM416.9 776.3C416.9 778.0 417.1 777.5 415.8 778.9C414.4 780.3 415.0 780.0 412.9 780.5C410.7 781.0 411.5 781.0 409.3 780.5C407.1 780.0 407.7 780.3 406.4 778.9C405.0 777.5 405.3 778.0 405.3 776.3C405.3 774.6 405.0 775.1 406.4 773.7C407.7 772.3 407.1 772.7 409.3 772.1C411.5 771.6 410.7 771.6 412.9 772.1C415.0 772.7 414.4 772.3 415.8 773.7C417.1 775.1 416.9 774.6 416.9 776.3ZM472.4 665.9C472.4 666.6 472.5 666.4 471.9 666.9C471.3 667.5 471.5 667.3 470.6 667.6C469.6 667.8 469.9 667.8 468.9 667.6C467.9 667.3 468.2 667.5 467.6 666.9C467.0 666.4 467.1 666.6 467.1 665.9C467.1 665.2 467.0 665.4 467.6 664.8C468.2 664.3 467.9 664.4 468.9 664.2C469.9 664.0 469.6 664.0 470.6 664.2C471.5 664.4 471.3 664.3 471.9 664.8C472.5 665.4 472.4 665.2 472.4 665.9ZM493.5 665.0C494.2 664.5 502.7 664.5 504.1 665.0C505.5 665.5 502.7 667.6 500.6 667.6C498.4 667.6 492.8 665.5 493.5 665.0Z"/>
<path fill="#009000" d="M446.0 756.6C445.7 752.8 445.7 745.1 447.7 742.5C449.8 739.9 455.4 739.9 458.3 740.7C461.2 741.6 463.3 745.1 465.3 747.8C467.4 750.4 470.3 752.8 470.6 756.6C470.9 760.4 469.1 768.3 467.1 770.7C465.0 773.0 461.2 771.6 458.3 770.7C455.4 769.8 451.5 767.7 449.5 765.4C447.4 763.0 446.3 760.4 446.0 756.6ZM475.9 735.5C477.1 732.8 483.5 730.8 486.5 730.2C489.4 729.6 491.5 729.3 493.5 731.9C495.6 734.6 499.4 743.1 498.8 746.0C498.2 749.0 493.2 749.5 490.0 749.5C486.8 749.5 481.8 748.4 479.4 746.0C477.1 743.7 474.7 738.1 475.9 735.5Z"/>
<path fill="#00c800" d="M481.2 737.2C481.2 735.1 485.9 732.3 488.2 731.9C490.5 731.6 492.6 733.3 492.6 735.5C492.6 737.6 490.5 742.1 488.2 742.5C485.9 742.8 481.2 739.3 481.2 737.2Z"/>
<path fill="#e8c000" d="M437.2 705.5C436.1 702.7 435.8 696.5 436.3 693.2C436.7 689.9 439.5 683.4 440.7 680.9C441.8 678.3 443.2 674.7 445.1 673.8C447.0 672.9 452.5 672.9 454.8 673.8C457.0 674.7 460.5 678.3 461.8 680.9C463.1 683.4 464.3 689.4 464.5 693.2C464.6 696.9 462.6 705.3 462.7 709.0C462.8 712.8 465.9 719.2 465.3 721.4C464.7 723.5 460.2 724.9 458.3 724.9C456.4 724.9 453.1 722.8 451.2 721.4C449.4 720.0 446.1 716.4 444.2 714.3C442.3 712.2 438.2 708.3 437.2 705.5ZM490.0 687.9C490.5 685.8 494.2 680.7 497.0 679.1C499.9 677.4 508.7 676.0 511.1 675.6C513.5 675.1 514.5 663.4 515.0 675.6C515.5 687.8 516.9 755.2 515.0 767.2C513.1 779.1 504.6 765.9 500.6 765.4C496.5 764.9 488.0 762.9 484.7 763.6C481.4 764.3 478.0 768.8 475.9 770.7C473.8 772.6 470.3 777.3 468.9 777.7C467.4 778.2 464.9 776.1 465.3 774.2C465.8 772.3 470.0 765.7 472.4 763.6C474.7 761.5 479.2 759.3 482.9 758.3C486.7 757.4 497.7 758.7 500.6 756.6C503.4 754.5 504.3 746.3 504.1 742.5C503.8 738.7 500.2 731.2 498.8 728.4C497.4 725.6 495.6 722.3 493.5 721.4C491.4 720.4 484.6 722.1 482.9 721.4C481.3 720.7 479.8 717.3 481.2 716.1C482.6 714.9 490.0 713.5 493.5 712.6C497.0 711.6 505.3 710.7 507.6 709.0C510.0 707.4 511.6 702.1 511.1 700.2C510.7 698.3 506.4 695.6 504.1 694.9C501.7 694.2 495.4 695.9 493.5 694.9C491.6 694.0 489.5 690.0 490.0 687.9ZM444.2 777.7C445.4 775.8 451.5 774.2 454.8 774.2C458.1 774.2 465.6 778.4 468.9 777.7C472.1 777.0 473.3 770.3 479.4 768.9C485.6 767.5 510.3 760.6 515.0 767.2C519.7 773.7 521.2 811.4 515.0 818.2C508.8 825.0 475.5 819.6 468.9 818.2C462.2 816.8 466.7 809.8 465.3 807.7C463.9 805.5 460.4 802.8 458.3 802.4C456.2 801.9 451.4 804.8 449.5 804.1C447.6 803.4 444.7 799.2 444.2 797.1C443.7 795.0 446.0 790.9 446.0 788.3C446.0 785.7 443.0 779.6 444.2 777.7ZM349.1 777.7C349.1 776.1 351.0 771.8 352.6 770.7C354.3 769.5 359.1 768.4 361.4 768.9C363.8 769.4 368.1 773.0 370.2 774.2C372.3 775.4 376.2 775.8 377.3 777.7C378.3 779.6 378.4 786.1 378.2 788.3C377.9 790.5 376.8 793.6 375.5 794.5C374.2 795.3 369.9 795.3 368.5 794.5C367.1 793.6 365.9 789.8 364.9 788.3C364.0 786.8 363.1 783.7 361.4 783.0C359.8 782.3 354.3 783.7 352.6 783.0C351.0 782.3 349.1 779.4 349.1 777.7ZM361.8 761.0C361.8 761.8 361.9 761.6 361.4 762.2C360.9 762.9 361.1 762.7 360.3 763.0C359.5 763.3 359.8 763.3 359.0 763.0C358.2 762.7 358.4 762.9 357.9 762.2C357.5 761.6 357.5 761.8 357.5 761.0C357.5 760.2 357.5 760.4 357.9 759.7C358.4 759.1 358.2 759.2 359.0 759.0C359.8 758.7 359.5 758.7 360.3 759.0C361.1 759.2 360.9 759.1 361.4 759.7C361.9 760.4 361.8 760.2 361.8 761.0Z"/>
<path fill="#ff9000" d="M440.7 700.2C440.4 696.5 443.3 685.9 444.2 682.6C445.1 679.3 446.1 676.3 447.7 675.6C449.4 674.9 454.8 676.2 456.5 677.3C458.3 678.5 460.3 681.3 460.9 684.4C461.5 687.4 460.8 696.2 460.9 700.2C461.0 704.2 462.2 711.3 461.8 714.3C461.5 717.4 459.5 722.4 458.3 723.1C457.1 723.8 454.6 721.2 453.0 719.6C451.4 718.0 447.6 713.4 446.0 710.8C444.3 708.2 440.9 704.0 440.7 700.2ZM495.3 717.8C495.5 716.9 502.2 716.1 504.1 716.1C506.0 716.1 508.4 715.3 509.4 717.8C510.3 720.4 510.4 731.9 511.1 735.5C511.9 739.0 514.5 739.6 515.0 744.3C515.5 749.0 517.9 767.4 515.0 770.7C512.1 774.0 498.3 768.9 493.5 768.9C488.8 768.9 482.2 769.5 479.4 770.7C476.6 771.8 473.8 776.5 472.4 777.7C471.0 778.9 468.4 780.7 468.9 779.5C469.3 778.3 473.6 771.0 475.9 768.9C478.2 766.8 482.7 764.6 486.5 763.6C490.2 762.7 501.0 763.3 504.1 761.9C507.1 760.5 509.1 756.6 509.4 753.1C509.6 749.5 506.8 739.4 505.8 735.5C504.9 731.5 503.7 725.5 502.3 723.1C500.9 720.8 495.0 718.8 495.3 717.8ZM446.8 779.5C448.0 777.5 453.4 776.8 456.5 776.8C459.7 776.8 467.3 780.3 470.6 779.5C473.9 778.7 475.3 772.0 481.2 770.7C487.1 769.4 510.5 763.5 515.0 769.8C519.5 776.1 521.0 811.8 515.0 818.2C509.0 824.7 476.2 819.9 469.7 818.2C463.2 816.6 467.7 808.5 466.2 805.9C464.7 803.3 460.3 799.6 458.3 798.9C456.3 798.2 452.7 801.6 451.2 800.6C449.8 799.7 448.3 794.6 447.7 791.8C447.1 789.0 445.7 781.5 446.8 779.5ZM350.9 777.7C351.1 776.5 354.5 772.9 356.1 772.4C357.8 772.0 361.1 773.3 363.2 774.2C365.3 775.1 370.5 777.8 372.0 779.5C373.5 781.1 375.1 785.8 374.6 786.5C374.2 787.2 370.2 785.5 368.5 784.8C366.7 784.1 363.3 781.7 361.4 781.2C359.5 780.8 355.8 781.7 354.4 781.2C353.0 780.8 350.6 778.9 350.9 777.7Z"/>
<path fill="#ff0000" d="M459.0 683.1C459.0 684.9 459.2 684.3 457.9 685.7C456.6 687.1 457.2 686.8 455.1 687.3C453.0 687.9 453.7 687.9 451.6 687.3C449.5 686.8 450.1 687.1 448.8 685.7C447.5 684.3 447.7 684.9 447.7 683.1C447.7 681.4 447.5 681.9 448.8 680.6C450.1 679.2 449.5 679.5 451.6 679.0C453.7 678.4 453.0 678.4 455.1 679.0C457.2 679.5 456.6 679.2 457.9 680.6C459.2 681.9 459.0 681.4 459.0 683.1ZM442.4 700.2C442.7 698.6 447.6 696.7 449.5 696.7C451.4 696.7 455.2 698.3 456.5 700.2C457.8 702.1 458.9 708.2 459.2 710.8C459.4 713.4 459.1 718.7 458.3 719.6C457.5 720.5 454.4 719.2 453.0 717.8C451.6 716.4 449.1 711.4 447.7 709.0C446.3 706.7 442.2 701.9 442.4 700.2ZM448.6 780.4C449.7 779.1 455.4 778.5 458.3 778.6C461.2 778.7 467.6 782.1 470.6 781.2C473.7 780.4 475.3 773.7 481.2 772.4C487.1 771.1 510.5 765.5 515.0 771.6C519.5 777.7 520.9 812.0 515.0 818.2C509.1 824.5 477.0 819.9 470.6 818.2C464.2 816.6 468.5 808.7 467.1 805.9C465.7 803.1 461.9 798.5 460.0 797.1C458.2 795.7 454.3 796.5 453.0 795.3C451.7 794.2 450.9 790.3 450.4 788.3C449.8 786.3 447.5 781.7 448.6 780.4ZM360.9 777.7C360.9 778.8 361.0 778.4 360.2 779.3C359.3 780.1 359.7 779.9 358.2 780.2C356.8 780.6 357.3 780.6 355.8 780.2C354.4 779.9 354.8 780.1 353.9 779.3C353.0 778.4 353.1 778.8 353.1 777.7C353.1 776.7 353.0 777.0 353.9 776.2C354.8 775.3 354.4 775.5 355.8 775.2C357.3 774.9 356.8 774.9 358.2 775.2C359.7 775.5 359.3 775.3 360.2 776.2C361.0 777.0 360.9 776.7 360.9 777.7Z"/>
<path fill="#d80000" d="M453.9 703.7C453.9 704.6 454.0 704.3 453.4 705.0C452.8 705.7 453.0 705.5 452.1 705.8C451.1 706.0 451.4 706.0 450.4 705.8C449.4 705.5 449.7 705.7 449.1 705.0C448.5 704.3 448.6 704.6 448.6 703.7C448.6 702.9 448.5 703.2 449.1 702.5C449.7 701.8 449.4 702.0 450.4 701.7C451.4 701.5 451.1 701.5 452.1 701.7C453.0 702.0 452.8 701.8 453.4 702.5C454.0 703.2 453.9 702.9 453.9 703.7ZM456.5 784.8C457.9 783.8 465.6 785.9 468.9 784.8C472.1 783.6 475.0 777.3 481.2 776.0C487.3 774.7 510.5 769.4 515.0 775.1C519.5 780.7 520.7 812.5 515.0 818.2C509.3 824.0 478.3 819.9 472.4 818.2C466.5 816.6 471.8 809.0 470.6 805.9C469.4 802.8 465.2 797.2 463.6 795.3C461.9 793.5 459.2 793.2 458.3 791.8C457.3 790.4 455.1 785.7 456.5 784.8Z"/>
<path fill="#c00000" d="M475.9 788.3C477.3 785.2 480.9 780.7 484.7 779.5C488.5 778.3 500.0 778.3 504.1 779.5C508.1 780.7 513.5 783.1 515.0 788.3C516.5 793.5 520.2 814.2 515.0 818.2C509.8 822.2 481.3 820.3 475.9 818.2C470.5 816.1 474.1 806.4 474.1 802.4C474.1 798.4 474.5 791.3 475.9 788.3Z"/>
<path fill="#0000f0" d="M337.6 665.0C348.3 661.5 407.8 663.8 419.5 665.0C431.3 666.2 425.0 670.3 425.7 673.8C426.4 677.3 425.4 686.5 424.8 691.4C424.2 696.4 423.4 707.5 421.3 710.8C419.2 714.1 411.6 714.4 409.0 716.1C406.4 717.7 404.5 721.7 401.9 723.1C399.3 724.5 391.5 725.0 389.6 726.6C387.7 728.3 387.4 733.3 387.8 735.5C388.3 737.6 390.8 740.1 393.1 742.5C395.5 744.8 403.8 750.7 405.5 753.1C407.1 755.4 407.1 759.1 405.5 760.1C403.8 761.2 397.3 761.7 393.1 761.0C388.9 760.3 378.4 757.8 373.7 754.8C369.1 751.9 361.9 743.9 357.9 739.0C353.9 734.0 346.3 724.2 343.8 717.8C341.3 711.5 340.2 698.5 339.4 691.4C338.6 684.4 327.0 668.5 337.6 665.0ZM473.3 680.9C474.1 679.4 481.3 672.9 482.9 672.0C484.6 671.2 489.5 671.3 490.0 672.0C490.5 672.7 489.3 677.5 488.2 679.1C487.2 680.7 480.7 687.1 479.4 687.9C478.1 688.7 475.6 687.7 475.0 687.0C474.4 686.3 472.5 682.3 473.3 680.9Z"/>
<path fill="#00a0f0" d="M342.9 665.0C335.5 665.7 346.3 667.5 346.4 670.3C346.6 673.1 343.7 680.3 343.8 686.1C343.9 692.0 345.5 708.2 347.3 714.3C349.2 720.4 354.1 727.0 357.9 731.9C361.7 736.9 370.8 747.8 375.5 751.3C380.2 754.8 389.6 757.6 393.1 758.3C396.6 759.1 401.0 757.5 401.9 756.6C402.9 755.6 402.0 753.4 400.2 751.3C398.3 749.2 389.8 743.3 387.8 740.7C385.8 738.2 385.2 734.0 385.2 731.9C385.2 729.8 385.8 726.3 387.8 724.9C389.8 723.5 397.8 722.8 400.2 721.4C402.5 720.0 403.1 716.0 405.5 714.3C407.8 712.7 415.7 712.1 417.8 709.0C419.9 706.0 420.8 695.9 421.3 691.4C421.8 687.0 422.2 678.4 421.3 675.6C420.4 672.7 416.8 671.7 414.3 670.3C411.7 668.9 411.4 665.7 401.9 665.0C392.4 664.3 350.3 664.3 342.9 665.0Z"/>
<path fill="#0000f0" d="M348.2 675.6C348.3 672.5 347.9 666.4 351.7 665.0C355.6 663.6 373.5 662.7 377.3 665.0C381.0 667.3 379.9 678.4 379.9 682.6C379.9 686.8 378.6 694.0 377.3 696.7C376.0 699.4 372.3 702.6 370.2 702.9C368.1 703.1 364.0 700.5 361.4 698.5C358.8 696.5 352.6 690.9 350.9 687.9C349.1 684.8 348.1 678.6 348.2 675.6Z"/>
<path fill="#00f400" d="M351.7 675.6C351.8 672.6 351.3 666.4 354.4 665.0C357.4 663.6 371.6 662.7 374.6 665.0C377.7 667.3 377.3 678.7 377.3 682.6C377.3 686.5 375.6 691.8 374.6 694.1C373.7 696.3 371.8 699.1 370.2 699.3C368.7 699.6 365.4 697.5 363.2 695.8C360.9 694.2 355.0 689.7 353.5 687.0C352.0 684.3 351.6 678.5 351.7 675.6Z"/>
<path fill="#00c800" d="M356.1 675.6C356.1 673.0 359.2 669.2 361.4 668.5C363.6 667.8 371.1 668.4 372.9 670.3C374.6 672.2 375.0 679.8 374.6 682.6C374.3 685.4 372.0 690.7 370.2 691.4C368.5 692.1 363.3 690.0 361.4 687.9C359.5 685.8 356.1 678.2 356.1 675.6Z"/>
<path fill="#009000" d="M370.8 680.0C370.8 682.4 370.9 681.6 369.8 683.6C368.7 685.5 369.2 685.1 367.3 685.8C365.5 686.6 366.1 686.6 364.3 685.8C362.5 685.1 363.0 685.5 361.8 683.6C360.7 681.6 360.9 682.4 360.9 680.0C360.9 677.6 360.7 678.3 361.8 676.3C363.0 674.4 362.5 674.9 364.3 674.1C366.1 673.4 365.5 673.4 367.3 674.1C369.2 674.9 368.7 674.4 369.8 676.3C370.9 678.3 370.8 677.6 370.8 680.0Z"/>
<path fill="none" stroke="#0b3b0b" stroke-width="1.7" stroke-linejoin="round" d="M380.4 665.0L379.0 732.8L335.0 731.0"/>
</g>
<g clip-path="url(#t14)">
<path fill="#e8c000" d="M510.0 665.0L690.0 665.0L690.0 824.9L510.0 824.9Z"/>
<path fill="#ff9000" d="M513.5 682.6C514.0 678.9 520.8 673.9 524.1 672.0C527.4 670.2 535.4 668.1 538.2 668.5C541.0 669.0 545.0 673.0 545.2 675.6C545.5 678.2 541.1 683.9 539.9 687.9C538.8 691.9 538.1 702.2 536.4 705.5C534.8 708.8 529.7 713.3 527.6 712.6C525.5 711.8 522.4 704.2 520.6 700.2C518.7 696.2 513.1 686.4 513.5 682.6ZM510.0 739.0C511.9 729.6 520.6 736.4 524.1 735.5C527.6 734.5 534.4 730.3 536.4 731.9C538.4 733.6 539.3 743.6 539.1 747.8C538.8 752.0 535.0 760.1 534.7 763.6C534.3 767.2 537.1 771.8 536.4 774.2C535.7 776.5 530.8 778.9 529.4 781.2C528.0 783.6 527.3 788.8 525.9 791.8C524.4 794.9 520.9 802.3 518.8 804.1C516.7 806.0 511.2 814.6 510.0 805.9C508.8 797.2 508.1 748.4 510.0 739.0ZM562.8 753.1C564.2 750.9 572.9 750.6 576.9 747.8C580.9 745.0 590.0 733.1 592.8 731.9C595.6 730.8 597.6 735.7 598.1 739.0C598.5 742.3 596.8 751.9 596.3 756.6C595.8 761.3 595.0 770.0 594.5 774.2C594.1 778.4 592.8 784.5 592.8 788.3C592.8 792.0 593.8 799.1 594.5 802.4C595.2 805.7 598.1 810.8 598.1 812.9C598.1 815.1 598.5 817.5 594.5 818.2C590.5 818.9 571.4 819.9 568.1 818.2C564.8 816.6 569.6 809.4 569.9 805.9C570.1 802.4 568.9 795.6 569.9 791.8C570.8 788.1 576.5 781.0 576.9 777.7C577.4 774.4 574.8 769.0 573.4 767.2C572.0 765.3 567.8 765.5 566.4 763.6C565.0 761.8 561.4 755.2 562.8 753.1ZM619.2 682.6C620.6 678.4 626.5 670.9 629.8 668.5C633.1 666.2 638.7 665.5 643.9 665.0C649.0 664.5 666.2 664.1 668.5 665.0C670.9 665.9 662.9 669.2 661.5 672.0C660.1 674.9 659.4 682.4 657.9 686.1C656.5 689.9 652.3 696.5 650.9 700.2C649.5 704.0 648.8 711.0 647.4 714.3C646.0 717.6 642.2 721.6 640.3 724.9C638.5 728.2 634.5 735.7 633.3 739.0C632.1 742.3 632.5 748.1 631.5 749.5C630.6 750.9 627.9 750.5 626.2 749.5C624.6 748.6 620.6 744.8 619.2 742.5C617.8 740.1 616.1 735.2 615.7 731.9C615.2 728.6 615.2 722.1 615.7 717.8C616.1 713.6 618.7 704.9 619.2 700.2C619.7 695.5 617.8 686.8 619.2 682.6ZM603.3 689.7C604.1 685.8 606.9 682.6 608.6 682.6C610.4 682.6 611.8 686.1 612.2 689.7C612.5 693.2 611.8 697.8 610.4 700.2C609.0 702.7 606.5 704.1 605.1 702.0C603.7 699.9 602.6 693.5 603.3 689.7ZM591.0 735.5C592.0 732.4 595.7 730.2 598.1 730.2C600.4 730.2 606.3 733.1 608.6 735.5C611.0 737.8 612.6 745.4 615.7 747.8C618.7 750.1 629.2 750.9 631.5 753.1C633.9 755.2 633.5 760.3 633.3 763.6C633.1 766.9 629.8 774.4 629.8 777.7C629.8 781.0 635.2 784.5 633.3 788.3C631.4 792.0 619.4 802.1 615.7 805.9C611.9 809.7 607.5 815.3 605.1 816.5C602.8 817.6 599.7 817.1 598.1 814.7C596.4 812.4 593.5 804.7 592.8 798.9C592.1 793.0 593.0 776.8 592.8 770.7C592.5 764.6 591.3 757.8 591.0 753.1C590.8 748.4 590.1 738.5 591.0 735.5Z"/>
<path fill="#ff0000" d="M533.2 702.5C533.7 705.2 533.6 704.4 533.5 706.6C533.4 708.9 533.6 708.4 532.9 709.4C532.3 710.3 532.6 710.3 531.7 709.6C530.7 708.9 531.0 709.4 530.2 707.2C529.3 705.1 529.5 706.0 529.1 703.2C528.6 700.5 528.6 701.4 528.7 699.1C528.8 696.8 528.7 697.4 529.3 696.4C530.0 695.4 529.7 695.5 530.6 696.2C531.5 696.9 531.2 696.4 532.1 698.5C533.0 700.6 532.7 699.8 533.2 702.5ZM531.6 748.5C532.4 750.9 532.4 750.1 531.6 752.5C530.8 754.9 531.3 754.3 529.1 755.9C526.9 757.5 527.7 757.2 525.0 757.4C522.3 757.5 523.1 757.7 520.9 756.4C518.7 755.1 519.2 755.7 518.4 753.4C517.5 751.0 517.5 751.8 518.3 749.4C519.2 747.0 518.7 747.6 520.9 746.0C523.1 744.4 522.2 744.7 525.0 744.5C527.7 744.4 526.8 744.2 529.1 745.5C531.3 746.8 530.7 746.2 531.6 748.5ZM510.0 770.7C511.4 764.6 518.2 771.3 520.6 772.4C522.9 773.6 526.9 777.4 527.6 779.5C528.3 781.6 527.0 786.2 525.9 788.3C524.7 790.4 520.0 793.5 518.8 795.3C517.6 797.2 515.9 800.7 517.0 802.4C518.2 804.0 523.9 806.7 527.6 807.7C531.4 808.6 542.6 808.0 545.2 809.4C547.8 810.8 551.7 817.1 547.0 818.2C542.3 819.4 514.9 824.6 510.0 818.2C505.1 811.9 508.6 776.8 510.0 770.7ZM578.4 807.2C576.9 810.4 577.5 809.5 575.7 811.7C573.8 813.9 574.4 813.4 572.9 813.9C571.3 814.4 571.7 814.5 571.1 813.1C570.5 811.6 570.5 812.3 571.0 809.5C571.5 806.7 571.2 807.7 572.6 804.6C574.1 801.4 573.5 802.3 575.4 800.1C577.2 797.9 576.6 798.4 578.2 797.9C579.7 797.4 579.3 797.3 579.9 798.7C580.6 800.2 580.5 799.5 580.0 802.3C579.5 805.1 579.9 804.1 578.4 807.2ZM621.0 700.2C622.1 695.1 624.6 683.3 626.2 679.1C627.9 674.9 630.0 670.2 633.3 668.5C636.6 666.9 647.6 667.2 650.9 666.8C654.2 666.3 656.8 664.5 657.9 665.0C659.1 665.5 660.2 667.9 659.7 670.3C659.2 672.6 655.8 678.6 654.4 682.6C653.0 686.6 650.5 696.0 649.1 700.2C647.7 704.5 645.5 711.0 643.9 714.3C642.2 717.6 638.2 721.8 636.8 724.9C635.4 727.9 634.7 735.3 633.3 737.2C631.9 739.1 628.1 739.2 626.2 739.0C624.4 738.7 620.4 738.3 619.2 735.5C618.0 732.6 617.2 722.5 617.4 717.8C617.7 713.1 619.8 705.4 621.0 700.2ZM592.8 739.0C593.5 735.7 596.2 732.2 598.1 731.9C599.9 731.7 604.8 734.9 606.9 737.2C609.0 739.6 611.6 747.2 613.9 749.5C616.3 751.9 622.1 753.9 624.5 754.8C626.8 755.8 630.8 754.5 631.5 756.6C632.2 758.7 629.8 766.9 629.8 770.7C629.8 774.4 632.5 781.5 631.5 784.8C630.6 788.1 625.8 792.0 622.7 795.3C619.7 798.6 611.7 806.8 608.6 809.4C605.6 812.0 601.6 815.6 599.8 814.7C598.1 813.8 596.1 807.1 595.4 802.4C594.7 797.7 594.9 785.6 594.5 779.5C594.2 773.4 593.0 762.0 592.8 756.6C592.5 751.2 592.1 742.3 592.8 739.0Z"/>
<path fill="#d80000" d="M510.0 774.2C511.2 768.6 516.9 775.0 518.8 776.0C520.7 776.9 523.9 779.4 524.1 781.2C524.3 783.1 521.7 787.9 520.6 790.0C519.4 792.2 515.8 795.0 515.3 797.1C514.8 799.2 513.5 803.8 517.0 805.9C520.6 808.0 538.2 811.3 541.7 812.9C545.2 814.6 547.7 817.5 543.5 818.2C539.2 818.9 514.5 824.1 510.0 818.2C505.5 812.4 508.8 779.8 510.0 774.2ZM624.5 700.2C625.7 695.8 628.1 684.6 629.8 680.9C631.4 677.1 634.0 673.5 636.8 672.0C639.6 670.6 648.6 670.0 650.9 670.3C653.2 670.5 654.4 671.7 654.4 673.8C654.4 675.9 652.1 682.6 650.9 686.1C649.7 689.7 647.0 696.5 645.6 700.2C644.2 704.0 642.0 710.8 640.3 714.3C638.7 717.8 635.2 724.1 633.3 726.6C631.4 729.2 627.9 733.5 626.2 733.7C624.6 733.9 621.7 731.0 621.0 728.4C620.3 725.8 620.5 718.1 621.0 714.3C621.4 710.6 623.3 704.7 624.5 700.2ZM596.3 742.5C596.5 738.7 598.5 735.7 599.8 735.5C601.1 735.2 604.3 738.4 606.0 740.7C607.6 743.1 609.9 750.7 612.2 753.1C614.4 755.4 620.7 756.9 622.7 758.3C624.7 759.8 626.9 761.5 627.1 763.6C627.4 765.7 624.6 771.4 624.5 774.2C624.4 777.0 627.2 781.9 626.2 784.8C625.3 787.6 620.3 792.5 617.4 795.3C614.6 798.2 607.5 804.0 605.1 805.9C602.8 807.8 600.8 811.8 599.8 809.4C598.9 807.1 598.3 794.4 598.1 788.3C597.8 782.2 598.3 769.7 598.1 763.6C597.8 757.5 596.1 746.3 596.3 742.5Z"/>
<path fill="#c00000" d="M643.5 687.9C643.5 690.0 643.6 689.3 642.9 691.0C642.2 692.7 642.5 692.3 641.3 692.9C640.1 693.6 640.5 693.6 639.4 692.9C638.2 692.3 638.5 692.7 637.8 691.0C637.0 689.3 637.2 690.0 637.2 687.9C637.2 685.8 637.0 686.5 637.8 684.8C638.5 683.1 638.2 683.5 639.4 682.9C640.5 682.2 640.1 682.2 641.3 682.9C642.5 683.5 642.2 683.1 642.9 684.8C643.6 686.5 643.5 685.8 643.5 687.9Z"/>
<path fill="#ffff00" d="M532.9 719.6C533.4 717.3 538.8 713.8 539.9 710.8C541.1 707.7 541.0 700.9 541.7 696.7C542.4 692.5 544.1 683.3 545.2 679.1C546.4 674.9 542.8 666.9 550.5 665.0C558.3 663.1 596.7 662.7 603.3 665.0C610.0 667.3 601.8 677.9 600.7 682.6C599.6 687.3 596.8 696.5 595.4 700.2C594.0 704.0 592.1 708.4 590.1 710.8C588.1 713.1 582.2 715.5 580.5 717.8C578.7 720.2 578.3 725.6 576.9 728.4C575.5 731.2 572.2 737.1 569.9 739.0C567.5 740.9 562.1 741.8 559.3 742.5C556.5 743.2 551.1 745.2 548.7 744.3C546.4 743.3 543.3 737.6 541.7 735.5C540.1 733.3 537.6 730.5 536.4 728.4C535.2 726.3 532.4 721.9 532.9 719.6ZM587.5 710.8C588.2 708.9 592.7 703.7 594.5 703.7C596.4 703.7 599.7 709.4 601.6 710.8C603.5 712.2 606.8 713.4 608.6 714.3C610.5 715.3 614.5 716.4 615.7 717.8C616.8 719.2 616.5 721.6 617.4 724.9C618.4 728.2 622.5 739.2 622.7 742.5C623.0 745.8 620.4 749.1 619.2 749.5C618.0 750.0 615.1 748.4 613.9 746.0C612.7 743.7 611.6 735.0 610.4 731.9C609.2 728.9 607.0 724.5 605.1 723.1C603.2 721.7 598.4 722.1 596.3 721.4C594.2 720.7 590.4 719.2 589.3 717.8C588.1 716.4 586.8 712.7 587.5 710.8ZM538.2 761.0C539.4 758.6 546.6 750.6 548.7 749.5C550.9 748.5 552.2 751.2 554.0 753.1C555.9 754.9 561.2 761.0 562.8 763.6C564.5 766.2 566.8 771.0 566.4 772.4C565.9 773.8 561.7 774.4 559.3 774.2C557.0 774.0 551.3 771.6 548.7 770.7C546.2 769.7 541.4 768.4 539.9 767.2C538.5 765.9 537.0 763.3 538.2 761.0ZM520.6 797.1C521.5 794.5 528.8 787.1 531.1 784.8C533.5 782.4 535.6 779.7 538.2 779.5C540.8 779.2 547.2 782.3 550.5 783.0C553.8 783.7 560.0 783.6 562.8 784.8C565.7 785.9 570.5 789.5 571.6 791.8C572.8 794.2 572.3 799.8 571.6 802.4C570.9 805.0 568.2 809.8 566.4 811.2C564.5 812.6 560.4 813.4 557.6 812.9C554.7 812.5 548.7 808.6 545.2 807.7C541.7 806.7 534.0 806.4 531.1 805.9C528.3 805.4 525.5 805.3 524.1 804.1C522.7 803.0 519.6 799.7 520.6 797.1ZM690.0 665.0C687.1 645.0 672.3 667.1 668.5 668.5C664.7 669.9 662.6 673.0 661.5 675.6C660.3 678.2 660.6 685.1 659.7 687.9C658.8 690.7 655.4 693.6 654.4 696.7C653.5 699.8 652.0 708.0 652.7 710.8C653.4 713.6 658.1 715.5 659.7 717.8C661.4 720.2 663.3 725.4 665.0 728.4C666.6 731.5 672.0 739.3 672.0 740.7C672.0 742.1 667.8 740.4 665.0 739.0C662.2 737.6 654.0 731.8 650.9 730.2C647.8 728.5 643.7 726.4 642.1 726.6C640.5 726.9 638.6 729.8 638.6 731.9C638.6 734.0 641.4 739.7 642.1 742.5C642.8 745.3 644.6 750.2 643.9 753.1C643.2 755.9 638.2 760.8 636.8 763.6C635.4 766.4 633.3 771.4 633.3 774.2C633.3 777.0 636.8 782.9 636.8 784.8C636.8 786.6 635.2 786.4 633.3 788.3C631.4 790.2 625.5 795.8 622.7 798.9C619.9 801.9 614.5 808.6 612.2 811.2C609.8 813.8 594.7 817.3 605.1 818.2C615.5 819.2 678.7 838.7 690.0 818.2C701.3 797.8 692.9 685.0 690.0 665.0ZM510.0 665.0C510.6 664.6 527.3 664.8 527.6 665.0C527.9 665.2 519.4 670.8 518.8 671.2C518.2 671.5 510.3 675.8 510.0 675.6C509.7 675.4 509.4 665.4 510.0 665.0Z"/>
<path fill="#009000" d="M536.4 719.6C536.5 716.9 541.5 714.7 542.6 711.7C543.6 708.6 543.6 701.0 544.3 696.7C545.0 692.4 546.7 683.3 547.9 679.1C549.0 674.9 546.0 666.9 553.2 665.0C560.3 663.1 595.6 662.7 601.6 665.0C607.6 667.3 599.2 677.9 598.1 682.6C596.9 687.3 594.4 696.7 592.8 700.2C591.1 703.7 587.8 707.2 585.7 709.0C583.6 710.9 578.6 712.0 576.9 714.3C575.3 716.7 574.8 723.6 573.4 726.6C572.0 729.7 568.5 735.6 566.4 737.2C564.2 738.9 559.9 738.7 557.6 739.0C555.2 739.2 550.9 739.9 548.7 739.0C546.6 738.0 543.3 734.5 541.7 731.9C540.1 729.3 536.3 722.3 536.4 719.6ZM597.0 714.3C597.9 716.2 597.7 715.6 597.9 717.3C598.2 719.0 598.2 718.6 597.8 719.5C597.3 720.4 597.6 720.3 596.6 720.0C595.6 719.8 596.0 720.0 594.8 718.7C593.7 717.4 594.0 718.0 593.2 716.1C592.3 714.2 592.5 714.8 592.2 713.1C591.9 711.4 591.9 711.8 592.4 710.9C592.8 710.0 592.6 710.1 593.5 710.4C594.5 710.6 594.2 710.3 595.3 711.7C596.5 713.0 596.1 712.4 597.0 714.3ZM612.2 711.7C612.2 713.2 612.2 712.7 611.8 714.0C611.4 715.2 611.6 714.9 610.9 715.4C610.3 715.8 610.5 715.8 609.8 715.4C609.2 714.9 609.4 715.2 609.0 714.0C608.6 712.7 608.6 713.2 608.6 711.7C608.6 710.2 608.6 710.6 609.0 709.4C609.4 708.2 609.2 708.5 609.8 708.0C610.5 707.5 610.3 707.5 610.9 708.0C611.6 708.5 611.4 708.2 611.8 709.4C612.2 710.6 612.2 710.2 612.2 711.7ZM542.6 761.9C543.1 760.8 546.8 759.2 548.7 759.2C550.7 759.2 555.9 760.8 557.6 761.9C559.2 762.9 561.5 766.1 561.1 767.2C560.6 768.2 556.1 769.8 554.0 769.8C551.9 769.8 546.8 768.2 545.2 767.2C543.7 766.1 542.1 762.9 542.6 761.9ZM524.1 797.1C524.1 794.9 530.9 788.5 532.9 786.5C534.9 784.5 536.7 782.2 539.1 782.1C541.4 782.0 547.3 784.8 550.5 785.6C553.7 786.5 560.4 787.2 562.8 788.3C565.3 789.3 568.2 791.8 569.0 793.6C569.8 795.3 569.6 799.5 569.0 801.5C568.4 803.5 566.1 807.4 564.6 808.5C563.1 809.7 560.1 810.8 557.6 810.3C555.0 809.8 548.5 806.0 545.2 805.0C541.9 804.1 535.7 804.3 532.9 803.3C530.1 802.2 524.1 799.3 524.1 797.1ZM690.0 668.5C687.4 649.0 673.6 670.9 670.3 672.0C666.9 673.2 665.9 675.0 665.0 677.3C664.1 679.7 664.2 686.8 663.2 689.7C662.3 692.5 658.9 695.9 657.9 698.5C657.0 701.0 655.5 706.7 656.2 709.0C656.9 711.4 661.6 713.7 663.2 716.1C664.9 718.4 666.9 723.4 668.5 726.6C670.2 729.9 674.9 738.2 675.6 740.7C676.3 743.3 675.2 745.8 673.8 746.0C672.4 746.3 668.0 744.1 665.0 742.5C661.9 740.9 653.7 735.3 650.9 733.7C648.1 732.0 645.0 729.9 643.9 730.2C642.7 730.4 641.9 733.6 642.1 735.5C642.3 737.3 644.9 741.9 645.6 744.3C646.3 746.6 648.1 750.2 647.4 753.1C646.7 755.9 641.7 762.3 640.3 765.4C638.9 768.4 636.8 773.1 636.8 776.0C636.8 778.8 640.8 784.2 640.3 786.5C639.9 788.9 635.6 791.0 633.3 793.6C630.9 796.2 625.1 803.1 622.7 805.9C620.4 808.7 617.3 813.1 615.7 814.7C614.0 816.4 600.5 817.8 610.4 818.2C620.3 818.7 679.4 838.2 690.0 818.2C700.6 798.3 692.6 688.0 690.0 668.5ZM510.0 665.0C510.4 664.7 523.0 664.9 523.2 665.0C523.4 665.1 516.6 669.1 516.2 669.4C515.7 669.7 510.2 673.1 510.0 672.9C509.8 672.8 509.6 665.3 510.0 665.0Z"/>
<path fill="#00c800" d="M547.0 763.6C547.7 762.9 552.1 763.0 554.0 763.6C556.0 764.3 557.4 766.0 556.7 766.8C556.0 767.6 552.4 768.1 550.5 767.5C548.6 766.9 546.3 764.4 547.0 763.6ZM529.4 797.1C529.5 795.5 534.0 789.8 535.5 788.3C537.1 786.8 538.8 785.6 540.8 785.6C542.8 785.6 547.7 787.6 550.5 788.3C553.3 789.0 559.8 790.0 562.0 790.9C564.1 791.9 565.8 794.0 566.4 795.3C566.9 796.6 566.5 799.2 566.0 800.6C565.5 802.0 564.0 805.1 562.8 805.9C561.7 806.7 559.8 807.3 557.6 806.8C555.3 806.3 549.2 803.2 546.1 802.4C543.1 801.6 536.9 801.3 534.7 800.6C532.4 799.9 529.3 798.7 529.4 797.1Z"/>
<path fill="#00f400" d="M539.9 719.6C540.1 717.5 544.2 715.6 545.2 712.6C546.3 709.5 547.0 701.2 547.9 696.7C548.7 692.2 550.3 683.3 551.4 679.1C552.4 674.9 549.6 666.9 555.8 665.0C562.0 663.1 592.9 662.7 598.1 665.0C603.2 667.3 595.7 678.2 594.5 682.6C593.4 687.1 590.9 695.4 589.3 698.5C587.6 701.5 584.3 703.6 582.2 705.5C580.1 707.4 575.0 710.0 573.4 712.6C571.8 715.1 571.3 722.1 569.9 724.9C568.5 727.7 564.7 732.3 562.8 733.7C561.0 735.1 557.6 735.3 555.8 735.5C554.0 735.6 551.2 735.5 549.6 734.6C548.1 733.6 545.6 730.4 544.3 728.4C543.1 726.4 539.8 721.7 539.9 719.6ZM533.8 796.2C533.8 795.0 536.1 791.1 537.3 790.0C538.5 789.0 540.8 788.2 542.6 788.3C544.3 788.4 548.2 790.3 550.5 790.9C552.9 791.5 558.4 791.9 560.2 792.7C562.0 793.5 563.4 795.9 563.7 797.1C564.1 798.3 563.3 800.6 562.8 801.5C562.4 802.4 561.0 803.8 560.2 804.1C559.4 804.5 558.4 804.7 556.7 804.1C554.9 803.6 549.6 800.4 547.0 799.7C544.4 799.0 539.1 799.3 537.3 798.9C535.5 798.4 533.8 797.4 533.8 796.2ZM690.0 672.0C687.6 654.7 675.0 674.6 672.0 675.6C669.1 676.5 668.3 677.2 667.6 679.1C666.9 681.0 667.6 686.8 666.8 689.7C665.9 692.5 662.4 697.8 661.5 700.2C660.5 702.7 659.0 706.3 659.7 708.2C660.4 710.0 665.1 712.1 666.8 714.3C668.4 716.5 670.4 721.6 672.0 724.9C673.7 728.2 678.4 735.7 679.1 739.0C679.8 742.3 679.2 748.6 677.3 749.5C675.4 750.5 668.5 747.7 665.0 746.0C661.5 744.4 653.4 738.7 650.9 737.2C648.4 735.7 647.2 734.3 646.5 734.6C645.8 734.8 645.3 737.4 645.6 739.0C646.0 740.5 648.4 743.9 649.1 746.0C649.8 748.1 651.6 752.0 650.9 754.8C650.2 757.6 645.1 764.3 643.9 767.2C642.6 770.0 641.2 773.4 641.2 776.0C641.2 778.5 644.4 783.9 643.9 786.5C643.3 789.1 638.2 792.7 636.8 795.3C635.4 797.9 626.2 804.5 633.3 805.9C640.4 807.3 682.4 823.7 690.0 805.9C697.6 788.1 692.4 689.4 690.0 672.0ZM510.0 665.0C510.2 664.9 517.0 664.9 517.0 665.0C517.0 665.1 510.2 669.4 510.0 669.4C509.8 669.4 509.8 665.1 510.0 665.0Z"/>
<path fill="#009000" d="M576.0 694.9C576.0 699.8 576.5 698.3 573.9 702.2C571.2 706.1 572.4 705.2 568.1 706.7C563.9 708.2 565.3 708.2 561.1 706.7C556.8 705.2 558.0 706.1 555.3 702.2C552.7 698.3 553.2 699.8 553.2 694.9C553.2 690.1 552.7 691.6 555.3 687.7C558.0 683.8 556.8 684.7 561.1 683.2C565.3 681.7 563.9 681.7 568.1 683.2C572.4 684.7 571.2 683.8 573.9 687.7C576.5 691.6 576.0 690.1 576.0 694.9ZM685.2 690.5C685.2 692.3 685.5 691.7 684.2 693.1C683.0 694.5 683.6 694.2 681.6 694.7C679.6 695.3 680.3 695.3 678.3 694.7C676.4 694.2 676.9 694.5 675.7 693.1C674.5 691.7 674.7 692.3 674.7 690.5C674.7 688.8 674.5 689.3 675.7 688.0C676.9 686.6 676.4 686.9 678.3 686.4C680.3 685.8 679.6 685.8 681.6 686.4C683.6 686.9 683.0 686.6 684.2 688.0C685.5 689.3 685.2 688.8 685.2 690.5ZM640.3 788.3C641.0 786.4 647.1 790.4 650.9 791.8C654.7 793.2 665.2 797.0 668.5 798.9C671.8 800.7 672.7 804.5 675.6 805.9C678.4 807.3 688.1 807.8 690.0 809.4C691.9 811.1 695.7 817.1 690.0 818.2C684.3 819.4 653.3 819.9 647.4 818.2C641.5 816.6 646.6 809.9 645.6 805.9C644.7 801.9 639.6 790.2 640.3 788.3Z"/>
<path fill="#0000f0" d="M540.8 719.6C541.3 717.9 549.2 711.0 550.5 710.8C551.8 710.6 553.2 716.6 554.0 717.8C554.9 719.1 558.3 722.1 559.3 723.1C560.4 724.2 564.2 727.2 564.6 728.4C565.0 729.6 563.7 734.8 562.8 735.5C562.0 736.1 557.0 735.6 555.8 734.6C554.6 733.5 551.5 725.6 550.5 724.9C549.5 724.2 547.1 728.1 546.1 727.5C545.1 727.0 540.4 721.3 540.8 719.6ZM586.6 686.1C586.6 687.7 586.7 687.2 586.1 688.4C585.5 689.6 585.8 689.4 584.8 689.8C583.8 690.3 584.1 690.3 583.2 689.8C582.2 689.4 582.4 689.6 581.8 688.4C581.2 687.2 581.3 687.7 581.3 686.1C581.3 684.6 581.2 685.1 581.8 683.9C582.4 682.6 582.2 682.9 583.2 682.4C584.1 682.0 583.8 682.0 584.8 682.4C585.8 682.9 585.5 682.6 586.1 683.9C586.7 685.1 586.6 684.6 586.6 686.1ZM582.2 665.0C584.0 664.3 591.4 663.9 592.8 665.0C594.2 666.1 591.0 669.6 589.3 670.3C587.5 671.0 585.4 669.6 584.0 668.5C582.6 667.5 580.5 665.7 582.2 665.0ZM667.6 705.5C668.6 703.9 673.1 702.9 675.6 702.0C678.0 701.0 684.2 698.9 686.1 698.5C688.1 698.0 689.5 692.6 690.0 698.5C690.5 704.3 691.0 736.9 690.0 742.5C689.0 748.1 684.5 742.1 682.6 740.7C680.7 739.3 677.0 734.5 675.6 731.9C674.1 729.3 673.0 723.7 672.0 721.4C671.1 719.0 669.1 716.4 668.5 714.3C667.9 712.2 666.7 707.2 667.6 705.5ZM683.5 677.3C684.3 675.6 688.7 672.7 690.0 673.8C691.3 674.9 690.8 680.9 690.0 682.6C689.2 684.4 687.4 683.7 686.1 682.6C684.8 681.6 682.7 679.1 683.5 677.3ZM640.3 770.7C640.6 767.9 644.2 760.1 645.6 756.6C647.0 753.1 649.0 745.9 650.9 744.3C652.8 742.6 657.4 743.6 659.7 744.3C662.1 745.0 666.4 747.4 668.5 749.5C670.6 751.7 674.6 757.3 675.6 760.1C676.5 762.9 676.5 768.3 675.6 770.7C674.6 773.0 669.9 775.8 668.5 777.7C667.1 779.6 663.6 783.4 665.0 784.8C666.4 786.2 675.7 787.8 679.1 788.3C682.4 788.8 688.5 786.2 690.0 788.3C691.5 790.4 691.5 802.0 690.0 804.1C688.5 806.3 681.0 805.1 679.1 804.1C677.2 803.2 677.4 798.3 675.6 797.1C673.7 795.9 667.8 796.5 665.0 795.3C662.2 794.2 656.8 789.7 654.4 788.3C652.1 786.9 648.8 786.2 647.4 784.8C646.0 783.4 644.8 779.6 643.9 777.7C642.9 775.8 640.1 773.5 640.3 770.7ZM685.2 742.5C686.0 739.3 689.0 739.0 690.0 742.5C691.0 746.0 690.8 756.9 690.0 760.1C689.2 763.3 687.1 761.9 686.1 758.3C685.2 754.8 684.5 745.7 685.2 742.5ZM612.2 818.2C612.0 817.0 619.2 808.1 621.0 805.9C622.7 803.7 628.2 797.5 629.8 796.2C631.4 794.9 635.8 792.6 636.8 792.7C637.8 792.8 639.8 795.8 639.5 797.1C639.1 798.4 634.6 804.1 633.3 805.9C632.0 807.7 627.3 813.5 626.2 814.7C625.2 815.9 624.1 817.9 622.7 818.2C621.3 818.6 612.3 819.5 612.2 818.2ZM672.0 818.2C669.9 817.3 675.5 815.2 679.1 813.8C682.7 812.4 687.8 810.3 690.0 811.2C692.2 812.1 693.6 816.8 690.0 818.2C686.4 819.6 674.2 819.1 672.0 818.2Z"/>
<path fill="#00a0f0" d="M673.8 710.8C674.9 709.1 680.4 708.0 682.6 707.3C684.8 706.6 689.0 702.2 690.0 705.5C691.0 708.8 690.8 728.2 690.0 731.9C689.2 735.7 686.1 733.9 684.4 733.7C682.7 733.5 678.6 732.0 677.3 730.2C676.0 728.3 675.1 722.2 674.7 719.6C674.2 717.0 672.7 712.4 673.8 710.8ZM647.4 770.7C648.1 768.3 650.8 762.7 652.7 760.1C654.5 757.5 659.4 752.2 661.5 751.3C663.6 750.4 667.2 751.7 668.5 753.1C669.8 754.5 671.4 759.3 671.2 761.9C670.9 764.5 668.3 770.3 666.8 772.4C665.2 774.5 661.8 776.3 659.7 777.7C657.6 779.1 652.5 783.0 650.9 783.0C649.3 783.0 647.8 779.4 647.4 777.7C646.9 776.1 646.7 773.0 647.4 770.7ZM678.2 793.6C678.6 791.8 682.0 790.6 684.4 790.0C686.7 789.5 688.9 789.5 690.0 790.9C691.1 792.3 691.5 795.5 690.0 797.1C688.5 798.7 685.0 799.6 682.6 798.9C680.2 798.2 677.8 795.3 678.2 793.6ZM630.6 801.5C631.2 799.9 633.8 796.9 635.0 796.2C636.3 795.5 637.3 796.4 636.8 798.0C636.3 799.6 633.6 803.4 632.4 804.1C631.2 804.8 630.1 803.1 630.6 801.5Z"/>
<path fill="#00f400" d="M684.4 719.6C684.6 719.4 689.8 719.4 690.0 719.6C690.2 719.8 690.2 726.4 690.0 726.6C689.8 726.9 684.6 726.9 684.4 726.6C684.2 726.4 684.2 719.8 684.4 719.6Z"/>
<path fill="#ffff00" d="M573.1 694.6C573.1 698.4 573.4 697.2 571.4 700.3C569.5 703.4 570.4 702.6 567.2 703.8C564.1 705.0 565.1 705.0 562.0 703.8C558.8 702.6 559.7 703.4 557.8 700.3C555.8 697.2 556.1 698.4 556.1 694.6C556.1 690.8 555.8 692.0 557.8 688.9C559.7 685.8 558.8 686.5 562.0 685.4C565.1 684.2 564.1 684.2 567.2 685.4C570.4 686.5 569.5 685.8 571.4 688.9C573.4 692.0 573.1 690.8 573.1 694.6ZM649.1 818.2C646.8 816.6 650.0 808.1 650.9 805.9C651.8 803.7 653.8 801.7 656.2 801.5C658.5 801.3 666.4 802.8 668.5 804.1C670.6 805.4 672.0 809.3 672.0 811.2C672.0 813.1 671.6 817.3 668.5 818.2C665.5 819.2 651.5 819.9 649.1 818.2ZM679.1 777.7C679.4 776.0 683.9 774.7 686.1 774.2C688.3 773.7 689.2 773.0 690.0 775.1C690.8 777.2 691.1 783.2 690.0 784.8C688.9 786.4 686.5 784.4 684.4 783.0C682.2 781.6 678.7 779.5 679.1 777.7Z"/>
<path fill="#e8c000" d="M570.8 694.6C570.8 697.3 571.0 696.5 569.6 698.7C568.2 701.0 568.8 700.4 566.5 701.3C564.2 702.1 565.0 702.1 562.7 701.3C560.4 700.4 561.0 701.0 559.6 698.7C558.2 696.5 558.4 697.3 558.4 694.6C558.4 691.8 558.2 692.7 559.6 690.4C561.0 688.2 560.4 688.7 562.7 687.9C565.0 687.0 564.2 687.0 566.5 687.9C568.8 688.7 568.2 688.2 569.6 690.4C571.0 692.7 570.8 691.8 570.8 694.6ZM652.7 818.2C651.3 816.8 653.2 809.5 654.4 807.7C655.6 805.8 659.8 803.9 661.5 804.1C663.1 804.4 666.3 807.5 666.8 809.4C667.2 811.3 666.9 817.1 665.0 818.2C663.1 819.4 654.1 819.6 652.7 818.2ZM683.5 777.7C683.5 776.7 688.7 776.7 690.0 777.7C691.3 778.8 691.3 783.0 690.0 783.0C688.7 783.0 683.5 778.8 683.5 777.7Z"/>
<path fill="#ff9000" d="M568.6 693.2C568.6 694.4 568.8 694.0 568.0 695.0C567.3 696.0 567.6 695.8 566.5 696.2C565.3 696.6 565.7 696.6 564.5 696.2C563.3 695.8 563.6 696.0 562.9 695.0C562.2 694.0 562.3 694.4 562.3 693.2C562.3 691.9 562.2 692.3 562.9 691.3C563.6 690.3 563.3 690.5 564.5 690.2C565.7 689.8 565.3 689.8 566.5 690.2C567.6 690.5 567.3 690.3 568.0 691.3C568.8 692.3 568.6 691.9 568.6 693.2ZM650.9 709.0C652.3 708.3 654.1 711.1 656.2 714.3C658.3 717.5 660.8 721.4 661.5 724.9C662.2 728.4 661.1 731.6 659.7 731.9C658.3 732.3 656.5 729.5 654.4 726.6C652.3 723.8 649.8 721.4 649.1 717.8C648.4 714.3 649.5 709.7 650.9 709.0ZM662.0 810.3C662.0 811.8 662.1 811.4 661.4 812.6C660.7 813.8 661.0 813.5 659.8 814.0C658.6 814.5 659.0 814.5 657.8 814.0C656.7 813.5 657.0 813.8 656.3 812.6C655.5 811.4 655.7 811.8 655.7 810.3C655.7 808.8 655.5 809.3 656.3 808.0C657.0 806.8 656.7 807.1 657.8 806.6C659.0 806.1 658.6 806.1 659.8 806.6C661.0 807.1 660.7 806.8 661.4 808.0C662.1 809.3 662.0 808.8 662.0 810.3Z"/>
</g>
<g clip-path="url(#t15)">
<path fill="#00f400" d="M685.0 665.0L865.0 665.0L865.0 824.9L685.0 824.9Z"/>
<path fill="#00c800" d="M773.1 788.3C774.9 786.2 778.9 783.7 783.6 783.0C788.3 782.3 804.1 782.1 808.3 783.0C812.5 783.9 813.0 787.9 815.3 790.0C817.7 792.2 823.1 796.3 825.9 798.9C828.7 801.4 834.1 806.8 836.5 809.4C838.8 812.0 853.4 817.1 843.5 818.2C833.6 819.4 773.3 819.9 762.5 818.2C751.7 816.6 761.6 808.5 762.5 805.9C763.4 803.3 768.1 801.2 769.5 798.9C770.9 796.5 771.2 790.4 773.1 788.3ZM815.3 673.8C817.9 672.6 832.9 672.6 836.5 673.8C840.0 675.0 841.3 679.6 841.8 682.6C842.2 685.7 840.9 693.6 840.0 696.7C839.1 699.8 836.6 705.0 834.7 705.5C832.8 706.0 827.8 702.1 825.9 700.2C824.0 698.3 821.8 693.8 820.6 691.4C819.4 689.1 817.8 685.0 817.1 682.6C816.4 680.3 812.7 675.0 815.3 673.8ZM751.9 665.0C754.3 662.2 761.3 663.6 762.5 665.0C763.7 666.4 761.2 672.7 760.7 675.6C760.3 678.4 758.0 682.8 759.0 686.1C759.9 689.4 766.1 696.5 767.8 700.2C769.4 704.0 771.3 711.5 771.3 714.3C771.3 717.1 767.1 720.0 767.8 721.4C768.5 722.8 773.5 723.7 776.6 724.9C779.6 726.1 786.9 728.8 790.7 730.2C794.4 731.6 801.5 733.8 804.8 735.5C808.1 737.1 813.0 740.6 815.3 742.5C817.7 744.4 821.9 747.7 822.4 749.5C822.8 751.4 820.3 754.7 818.9 756.6C817.4 758.5 813.7 763.4 811.8 763.6C809.9 763.9 806.6 760.2 804.8 758.3C802.9 756.5 800.5 751.2 797.7 749.5C794.9 747.9 786.4 747.4 783.6 746.0C780.8 744.6 778.5 741.6 776.6 739.0C774.7 736.4 771.4 729.2 769.5 726.6C767.7 724.1 764.4 721.2 762.5 719.6C760.6 718.0 757.3 716.4 755.5 714.3C753.6 712.2 749.8 707.5 748.4 703.7C747.0 700.0 744.4 691.3 744.9 686.1C745.4 681.0 749.6 667.8 751.9 665.0ZM727.3 760.1C728.7 757.6 733.6 755.9 737.8 756.6C742.1 757.3 745.9 760.8 748.4 763.6C750.9 766.4 751.6 768.6 750.2 770.7C748.8 772.8 745.2 774.5 741.4 774.2C737.5 773.8 733.6 771.7 730.8 768.9C728.0 766.1 725.9 762.6 727.3 760.1ZM743.1 784.8C744.3 782.4 749.0 782.9 750.2 784.8C751.3 786.6 750.8 796.0 751.9 798.9C753.1 801.7 758.0 803.3 759.0 805.9C759.9 808.5 760.9 816.6 759.0 818.2C757.1 819.9 747.2 820.3 744.9 818.2C742.5 816.1 741.6 806.8 741.4 802.4C741.1 797.9 741.9 787.1 743.1 784.8ZM685.0 768.9C686.4 763.0 692.3 771.8 695.6 774.2C698.9 776.5 706.8 783.2 709.7 786.5C712.5 789.8 713.9 795.8 716.7 798.9C719.5 801.9 728.0 806.8 730.8 809.4C733.6 812.0 743.9 817.1 737.8 818.2C731.7 819.4 692.0 824.8 685.0 818.2C678.0 811.7 683.6 774.8 685.0 768.9ZM767.8 763.6C767.8 759.4 771.3 758.7 773.1 760.1C774.8 761.5 775.5 765.7 776.6 770.7C777.6 775.6 779.1 782.7 778.3 784.8C777.6 786.9 775.2 785.5 773.1 781.2C770.9 777.0 767.8 767.9 767.8 763.6Z"/>
<path fill="#009000" d="M820.6 677.3C821.0 675.9 825.2 674.5 825.9 675.6C826.6 676.6 825.2 682.3 824.1 682.6C823.1 683.0 820.3 678.7 820.6 677.3ZM747.0 769.0C746.4 770.7 746.9 770.3 744.7 771.0C742.5 771.7 743.4 771.7 740.4 771.2C737.4 770.7 738.4 771.1 735.8 769.5C733.2 768.0 733.9 768.6 732.7 766.6C731.4 764.6 731.5 765.2 732.2 763.6C732.8 761.9 732.3 762.3 734.5 761.5C736.7 760.8 735.8 760.9 738.8 761.3C741.8 761.8 740.8 761.5 743.4 763.0C746.0 764.5 745.3 763.9 746.5 765.9C747.8 767.9 747.7 767.3 747.0 769.0ZM800.7 743.4C800.7 745.4 801.1 744.8 798.6 746.5C796.1 748.2 797.2 747.8 793.2 748.4C789.1 749.0 790.5 749.0 786.4 748.4C782.4 747.8 783.5 748.2 781.0 746.5C778.4 744.8 778.9 745.4 778.9 743.4C778.9 741.3 778.4 741.9 781.0 740.3C783.5 738.6 782.4 739.0 786.4 738.4C790.5 737.7 789.1 737.7 793.2 738.4C797.2 739.0 796.1 738.6 798.6 740.3C801.1 741.9 800.7 741.3 800.7 743.4ZM813.0 753.9C813.0 755.7 813.3 755.1 812.0 756.5C810.7 757.9 811.2 757.6 809.1 758.1C807.0 758.7 807.8 758.7 805.7 758.1C803.6 757.6 804.1 757.9 802.8 756.5C801.5 755.1 801.8 755.7 801.8 753.9C801.8 752.2 801.5 752.8 802.8 751.4C804.1 750.0 803.6 750.3 805.7 749.8C807.8 749.2 807.0 749.2 809.1 749.8C811.2 750.3 810.7 750.0 812.0 751.4C813.3 752.8 813.0 752.2 813.0 753.9ZM750.2 731.9C750.4 730.0 753.1 727.8 755.5 730.2C757.8 732.5 765.9 745.1 767.8 749.5C769.7 754.0 770.0 760.8 769.5 763.6C769.1 766.4 765.4 771.6 764.3 770.7C763.1 769.7 762.1 760.1 760.7 756.6C759.3 753.1 755.1 747.5 753.7 744.3C752.3 741.0 749.9 733.8 750.2 731.9ZM817.1 763.6C818.0 758.9 824.0 743.9 825.9 739.0C827.8 734.0 829.3 729.9 831.2 726.6C833.1 723.4 838.3 717.8 840.0 714.3C841.6 710.8 843.5 704.5 843.5 700.2C843.5 696.0 840.9 686.4 840.0 682.6C839.1 678.9 836.5 674.4 836.5 672.0C836.5 669.7 837.3 665.9 840.0 665.0C842.7 664.1 854.5 644.6 856.7 665.0C859.0 685.4 858.7 797.8 856.7 818.2C854.7 838.7 845.2 819.9 841.8 818.2C838.3 816.6 833.3 809.9 831.2 805.9C829.1 801.9 827.5 792.5 825.9 788.3C824.3 784.1 820.0 777.5 818.9 774.2C817.7 770.9 816.2 768.3 817.1 763.6ZM685.0 770.7C686.2 764.8 691.0 772.3 693.8 774.2C696.6 776.1 703.3 781.5 706.1 784.8C709.0 788.1 712.1 795.3 714.9 798.9C717.8 802.4 724.7 808.6 727.3 811.2C729.9 813.8 740.0 817.3 734.3 818.2C728.7 819.2 691.6 824.6 685.0 818.2C678.4 811.9 683.8 776.5 685.0 770.7ZM782.7 817.9C782.7 818.4 782.9 818.3 782.2 818.7C781.6 819.2 781.9 819.0 780.9 819.2C779.9 819.4 780.3 819.4 779.3 819.2C778.3 819.0 778.6 819.2 778.0 818.7C777.4 818.3 777.5 818.4 777.5 817.9C777.5 817.3 777.4 817.5 778.0 817.0C778.6 816.6 778.3 816.7 779.3 816.5C780.3 816.4 779.9 816.4 780.9 816.5C781.9 816.7 781.6 816.6 782.2 817.0C782.9 817.5 782.7 817.3 782.7 817.9Z"/>
<path fill="#ffff00" d="M730.3 665.9C730.3 666.6 730.4 666.4 729.6 666.9C728.8 667.5 729.1 667.3 727.8 667.6C726.5 667.8 727.0 667.8 725.7 667.6C724.3 667.3 724.7 667.5 723.9 666.9C723.1 666.4 723.2 666.6 723.2 665.9C723.2 665.2 723.1 665.4 723.9 664.8C724.7 664.3 724.3 664.4 725.7 664.2C727.0 664.0 726.5 664.0 727.8 664.2C729.1 664.4 728.8 664.3 729.6 664.8C730.4 665.4 730.3 665.2 730.3 665.9ZM747.5 665.0C748.1 663.2 750.9 663.6 751.9 665.0C753.0 666.4 753.3 670.3 752.8 672.0C752.3 673.8 750.3 675.2 749.3 673.8C748.2 672.4 747.0 666.8 747.5 665.0ZM744.9 686.1C744.9 683.4 747.2 680.6 748.4 680.0C749.6 679.4 752.3 680.2 753.7 681.7C755.1 683.3 757.3 689.0 759.0 691.4C760.6 693.9 764.6 697.6 766.0 700.2C767.4 702.8 769.3 708.7 769.5 710.8C769.8 712.9 769.0 715.5 767.8 716.1C766.6 716.7 762.6 716.1 760.7 715.2C758.9 714.3 755.3 711.0 753.7 709.0C752.0 707.0 749.6 703.3 748.4 700.2C747.2 697.2 744.9 688.8 744.9 686.1ZM796.3 743.4C796.3 744.2 796.6 743.9 795.1 744.6C793.7 745.3 794.3 745.1 792.1 745.4C789.8 745.6 790.5 745.6 788.2 745.4C785.9 745.1 786.6 745.3 785.2 744.6C783.7 743.9 784.0 744.2 784.0 743.4C784.0 742.5 783.7 742.8 785.2 742.1C786.6 741.5 785.9 741.6 788.2 741.4C790.5 741.1 789.8 741.1 792.1 741.4C794.3 741.6 793.7 741.5 795.1 742.1C796.6 742.8 796.3 742.5 796.3 743.4ZM810.0 753.9C810.0 754.8 810.2 754.5 809.5 755.2C808.9 755.9 809.2 755.7 808.2 756.0C807.2 756.2 807.6 756.2 806.6 756.0C805.6 755.7 805.9 755.9 805.3 755.2C804.7 754.5 804.8 754.8 804.8 753.9C804.8 753.1 804.7 753.4 805.3 752.7C805.9 752.0 805.6 752.2 806.6 751.9C807.6 751.7 807.2 751.7 808.2 751.9C809.2 752.2 808.9 752.0 809.5 752.7C810.2 753.4 810.0 753.1 810.0 753.9ZM751.9 737.2C751.8 735.7 754.6 735.6 755.5 736.3C756.3 737.0 759.7 742.4 760.7 744.3C761.8 746.1 765.4 753.1 766.0 754.8C766.6 756.6 767.3 761.3 766.9 761.9C766.5 762.4 763.5 761.2 762.5 760.1C761.5 759.1 758.3 753.6 757.2 751.3C756.2 749.0 752.1 738.7 751.9 737.2ZM822.4 705.5C822.4 702.7 824.8 697.6 825.9 696.7C827.0 695.8 829.6 697.1 830.3 698.5C831.0 699.9 830.4 705.6 831.2 707.3C832.0 708.9 836.0 708.7 836.5 710.8C836.9 712.9 836.1 722.2 834.7 723.1C833.3 724.1 827.5 720.2 825.9 717.8C824.3 715.5 822.4 708.3 822.4 705.5ZM836.5 675.6C835.8 673.2 835.5 666.4 838.2 665.0C840.9 663.6 854.3 644.6 856.7 665.0C859.2 685.4 858.4 797.8 856.7 818.2C855.1 838.7 847.3 819.9 844.4 818.2C841.5 816.6 836.7 809.9 834.7 805.9C832.7 801.9 831.3 792.5 829.4 788.3C827.5 784.1 822.3 777.0 820.6 774.2C819.0 771.4 817.0 769.0 817.1 767.2C817.2 765.3 820.1 762.2 821.5 760.1C822.9 758.0 827.1 753.6 827.7 751.3C828.2 749.0 825.0 745.3 825.9 742.5C826.8 739.7 832.6 733.5 834.7 730.2C836.8 726.9 840.2 721.8 841.8 717.8C843.3 713.8 845.9 704.9 846.2 700.2C846.4 695.5 844.8 685.9 843.5 682.6C842.2 679.3 837.2 677.9 836.5 675.6ZM685.0 775.1C686.2 774.4 691.2 776.2 693.8 777.7C696.4 779.2 702.0 784.2 704.4 786.5C706.7 788.9 711.2 793.9 711.4 795.3C711.7 796.7 707.8 797.8 706.1 797.1C704.5 796.4 701.2 791.7 699.1 790.0C697.0 788.4 692.2 785.7 690.3 784.8C688.4 783.8 685.7 784.3 685.0 783.0C684.3 781.7 683.8 775.8 685.0 775.1ZM713.2 818.2C709.3 816.5 713.5 811.5 714.9 809.4C716.4 807.3 717.4 806.6 720.2 807.7C723.0 808.7 726.2 812.6 729.0 814.7C731.8 816.8 737.5 817.5 734.3 818.2C731.1 818.9 717.1 820.0 713.2 818.2Z"/>
<path fill="#e8c000" d="M746.6 687.0C746.5 684.8 749.1 683.4 750.2 683.5C751.2 683.6 752.9 685.7 754.6 687.9C756.2 690.1 760.9 697.3 762.5 700.2C764.1 703.2 766.7 708.2 766.9 709.9C767.1 711.7 765.5 713.6 764.3 713.4C763.0 713.3 759.0 710.8 757.2 709.0C755.5 707.3 752.5 703.2 751.0 700.2C749.6 697.3 746.8 689.2 746.6 687.0ZM760.0 747.2C761.2 749.3 760.9 748.6 761.6 750.4C762.4 752.3 762.3 751.8 762.2 752.7C762.2 753.5 762.3 753.5 761.6 753.0C760.8 752.6 761.1 753.0 759.9 751.4C758.7 749.9 759.1 750.5 757.9 748.4C756.7 746.3 757.0 747.0 756.3 745.1C755.6 743.3 755.7 743.8 755.7 742.9C755.7 742.0 755.6 742.1 756.4 742.5C757.1 742.9 756.8 742.6 758.0 744.1C759.2 745.7 758.8 745.1 760.0 747.2ZM832.7 710.2C833.5 712.4 833.4 711.7 833.1 713.9C832.8 716.0 833.1 715.5 831.8 716.7C830.5 718.0 831.1 717.8 829.3 717.6C827.5 717.5 828.1 717.8 826.4 716.3C824.8 714.8 825.2 715.4 824.4 713.2C823.6 710.9 823.7 711.7 824.0 709.5C824.2 707.3 824.0 707.9 825.3 706.6C826.5 705.4 826.0 705.6 827.8 705.7C829.6 705.8 829.0 705.6 830.7 707.1C832.3 708.5 831.9 707.9 832.7 710.2ZM839.1 675.6C838.4 673.2 838.5 666.4 840.9 665.0C843.2 663.6 854.6 644.6 856.7 665.0C858.8 685.4 858.1 797.8 856.7 818.2C855.3 838.7 848.7 819.9 846.2 818.2C843.6 816.6 839.1 809.9 837.3 805.9C835.6 801.9 834.5 792.5 832.9 788.3C831.4 784.1 827.3 777.0 825.9 774.2C824.5 771.4 821.9 769.3 822.4 767.2C822.8 765.0 828.5 761.6 829.4 758.3C830.4 755.1 828.4 746.1 829.4 742.5C830.5 738.9 835.4 734.3 837.3 731.0C839.3 727.8 842.9 721.9 844.4 717.8C845.9 713.7 848.2 704.9 848.4 700.2C848.7 695.5 847.4 685.9 846.2 682.6C844.9 679.3 839.8 677.9 839.1 675.6ZM685.0 777.7C685.9 777.5 689.9 778.3 692.0 779.5C694.2 780.7 698.7 784.5 700.9 786.5C703.0 788.5 707.5 793.4 707.9 794.5C708.2 795.5 704.9 795.3 703.5 794.5C702.1 793.6 699.2 789.8 697.3 788.3C695.5 786.8 691.0 783.9 689.4 783.0C687.8 782.1 685.6 781.9 685.0 781.2C684.4 780.5 684.1 778.0 685.0 777.7ZM714.9 818.2C713.5 817.0 715.6 813.5 716.7 812.1C717.8 810.7 718.8 810.0 720.2 811.2C721.6 812.4 724.8 816.8 723.7 818.2C722.7 819.6 716.4 819.5 714.9 818.2Z"/>
<path fill="#ff9000" d="M762.4 702.3C763.7 704.6 763.4 703.8 763.8 706.1C764.1 708.3 764.2 707.7 763.5 709.1C762.7 710.4 763.1 710.2 761.6 710.2C760.0 710.1 760.6 710.4 758.8 708.9C757.1 707.5 757.6 708.1 756.3 705.9C755.0 703.6 755.2 704.4 754.9 702.1C754.5 699.9 754.5 700.5 755.2 699.1C755.9 697.8 755.5 698.0 757.1 698.0C758.6 698.1 758.1 697.8 759.8 699.3C761.6 700.7 761.1 700.1 762.4 702.3ZM831.9 712.5C832.4 714.0 832.4 713.5 832.2 714.8C832.1 716.2 832.2 715.8 831.5 716.6C830.7 717.4 831.0 717.3 829.9 717.2C828.8 717.1 829.2 717.3 828.2 716.3C827.2 715.4 827.5 715.8 826.9 714.3C826.4 712.9 826.5 713.4 826.6 712.0C826.8 710.7 826.6 711.0 827.4 710.3C828.2 709.5 827.8 709.6 828.9 709.7C830.0 709.8 829.7 709.6 830.7 710.6C831.6 711.5 831.4 711.1 831.9 712.5ZM842.6 672.0C842.2 669.7 843.4 665.9 845.3 665.0C847.2 664.1 855.2 644.6 856.7 665.0C858.2 685.4 857.9 797.8 856.7 818.2C855.5 838.7 850.1 819.9 847.9 818.2C845.7 816.6 841.6 809.9 840.0 805.9C838.3 801.9 836.8 792.5 835.6 788.3C834.4 784.1 831.8 778.2 831.2 774.2C830.6 770.2 831.1 762.6 831.2 758.3C831.3 754.1 830.9 746.1 832.1 742.5C833.2 738.9 838.1 734.3 840.0 731.0C841.9 727.8 844.8 721.9 846.2 717.8C847.5 713.7 849.9 704.9 850.2 700.2C850.6 695.5 849.8 686.4 848.8 682.6C847.8 678.9 843.1 674.4 842.6 672.0Z"/>
<path fill="#ff0000" d="M850.6 679.1C851.3 676.0 855.9 671.5 856.7 677.3C857.5 683.2 857.5 716.5 856.7 723.1C855.9 729.7 852.1 725.0 850.6 726.6C849.0 728.3 846.7 730.5 845.3 735.5C843.9 740.4 840.2 758.5 840.0 763.6C839.8 768.8 842.1 770.9 843.5 774.2C844.9 777.5 848.8 785.0 850.6 788.3C852.3 791.6 855.9 794.9 856.7 798.9C857.5 802.8 857.5 815.6 856.7 818.2C855.9 820.8 852.6 820.3 850.6 818.2C848.6 816.1 843.5 806.6 841.8 802.4C840.0 798.2 838.3 790.3 837.3 786.5C836.4 782.8 835.3 777.7 834.7 774.2C834.1 770.7 832.9 764.3 832.9 760.1C832.9 755.9 833.4 746.5 834.7 742.5C836.0 738.5 840.9 733.5 842.6 730.2C844.4 726.9 846.7 721.8 847.9 717.8C849.1 713.8 851.1 705.4 851.4 700.2C851.8 695.1 849.9 682.1 850.6 679.1Z"/>
<path fill="#d80000" d="M852.3 700.2C853.3 697.6 856.1 695.6 856.7 698.5C857.3 701.3 857.7 717.6 856.7 721.4C855.8 725.1 851.4 724.3 849.7 726.6C847.9 729.0 844.6 734.5 843.5 739.0C842.5 743.4 842.7 756.8 841.8 760.1C840.8 763.4 837.4 764.6 836.5 763.6C835.5 762.7 834.7 755.9 834.7 753.1C834.7 750.2 835.3 745.3 836.5 742.5C837.6 739.7 841.8 735.2 843.5 731.9C845.3 728.6 848.5 722.1 849.7 717.8C850.9 713.6 851.4 702.8 852.3 700.2Z"/>
<path fill="#0000f0" d="M685.0 675.6C687.6 674.7 708.6 672.7 711.4 673.8C714.2 674.9 712.3 684.4 713.2 686.1C714.1 687.9 718.1 690.9 720.2 691.4C722.3 691.9 732.7 690.7 734.3 691.4C735.9 692.1 736.8 697.4 736.1 698.5C735.4 699.5 729.2 701.8 727.3 702.0C725.3 702.2 717.9 699.9 716.7 700.2C715.5 700.6 714.6 703.9 714.9 705.5C715.3 707.1 718.1 714.8 720.2 716.1C722.3 717.3 735.2 717.0 736.1 717.8C737.0 718.7 728.7 723.6 729.0 724.9C729.4 726.1 738.0 728.2 739.6 730.2C741.2 732.1 744.5 742.0 744.9 744.3C745.2 746.5 745.2 752.2 743.1 753.1C741.0 753.9 726.0 753.8 723.7 753.1C721.5 752.4 722.0 747.3 720.2 746.0C718.5 744.8 707.7 739.7 706.1 740.7C704.5 741.8 705.1 754.1 704.4 756.6C703.7 759.1 701.0 765.0 699.1 765.4C697.2 765.7 686.4 764.3 685.0 760.1C683.6 755.9 684.6 727.0 685.0 723.1C685.4 719.2 688.5 721.9 688.5 721.4C688.5 720.8 685.4 720.1 685.0 717.8C684.6 715.5 684.5 701.3 685.0 698.5C685.5 695.6 690.3 691.2 690.3 689.7C690.3 688.1 685.5 684.0 685.0 682.6C684.5 681.2 682.4 676.4 685.0 675.6ZM711.4 673.8C714.2 672.2 738.5 669.1 741.4 670.3C744.2 671.5 740.3 683.9 739.6 686.1C738.9 688.3 736.3 691.8 734.3 692.3C732.4 692.8 722.3 692.0 720.2 691.4C718.1 690.8 714.1 687.9 713.2 686.1C712.3 684.4 708.6 675.4 711.4 673.8ZM774.8 707.3C775.1 705.4 778.5 700.3 780.1 699.3C781.7 698.4 789.3 696.6 790.7 697.6C792.1 698.6 793.8 710.4 794.2 709.0C794.6 707.7 793.8 687.0 795.1 684.4C796.3 681.7 805.0 681.9 806.5 682.6C808.0 683.3 809.7 688.6 810.0 691.4C810.4 694.2 810.6 708.2 810.0 710.8C809.5 713.4 806.4 717.3 804.8 717.8C803.2 718.4 796.3 716.2 794.2 716.1C792.1 716.0 785.3 716.8 783.6 717.0C782.0 717.1 778.3 718.8 777.5 717.8C776.6 716.9 774.6 709.1 774.8 707.3ZM791.2 764.9C791.2 766.4 791.4 765.9 790.3 767.1C789.1 768.4 789.6 768.1 787.8 768.5C786.0 769.0 786.6 769.0 784.7 768.5C782.9 768.1 783.4 768.4 782.3 767.1C781.1 765.9 781.3 766.4 781.3 764.9C781.3 763.3 781.1 763.8 782.3 762.6C783.4 761.4 782.9 761.6 784.7 761.2C786.6 760.7 786.0 760.7 787.8 761.2C789.6 761.6 789.1 761.4 790.3 762.6C791.4 763.8 791.2 763.3 791.2 764.9ZM721.1 783.0C721.1 781.4 726.0 775.8 727.3 775.1C728.5 774.4 732.9 774.6 733.4 776.0C734.0 777.3 733.2 786.8 732.6 788.3C731.9 789.8 728.4 791.5 727.3 790.9C726.1 790.4 721.1 784.6 721.1 783.0ZM750.2 774.2C750.4 773.0 754.6 768.6 755.5 768.9C756.3 769.3 758.1 776.0 759.0 777.7C759.9 779.5 763.9 784.8 764.3 786.5C764.6 788.3 763.2 795.2 762.5 795.3C761.8 795.5 758.2 789.7 757.2 788.3C756.2 786.9 753.5 782.7 752.8 781.2C752.1 779.8 749.9 775.4 750.2 774.2ZM733.4 795.3C733.7 794.2 736.3 790.2 737.0 790.9C737.7 791.6 740.3 800.6 740.5 802.4C740.7 804.1 739.3 808.5 738.7 808.5C738.1 808.5 734.8 803.7 734.3 802.4C733.8 801.1 733.2 796.5 733.4 795.3ZM685.0 788.3C686.4 786.9 693.0 791.2 695.6 793.6C698.2 795.9 703.4 803.1 704.4 805.9C705.3 808.7 703.8 813.3 702.6 814.7C701.4 816.1 697.4 817.6 695.6 816.5C693.7 815.3 689.9 807.5 688.5 805.9C687.1 804.3 685.5 806.5 685.0 804.1C684.5 801.8 683.6 789.7 685.0 788.3ZM685.0 812.9C686.1 812.2 688.9 813.6 690.3 814.7C691.7 815.8 693.1 817.5 692.0 818.2C691.0 818.9 686.4 819.3 685.0 818.2C683.6 817.2 683.9 813.6 685.0 812.9Z"/>
<path fill="#00a0f0" d="M719.3 677.3C720.0 675.7 723.3 674.3 725.5 673.8C727.7 673.3 734.3 673.1 736.1 673.8C737.8 674.5 739.0 677.2 738.7 679.1C738.5 681.0 736.1 686.4 734.3 687.9C732.6 689.4 727.4 690.8 725.5 690.5C723.6 690.3 721.0 687.9 720.2 686.1C719.4 684.4 718.6 679.0 719.3 677.3ZM685.0 707.3C686.2 706.3 692.0 708.2 693.8 709.0C695.6 709.9 698.4 712.4 698.2 713.4C698.0 714.5 693.8 716.6 692.0 717.0C690.3 717.3 685.9 717.4 685.0 716.1C684.1 714.8 683.8 708.2 685.0 707.3ZM685.0 744.3C685.7 743.1 688.9 744.2 690.3 745.1C691.7 746.1 695.6 750.0 695.6 751.3C695.6 752.6 691.7 754.5 690.3 754.8C688.9 755.2 685.7 755.4 685.0 753.9C684.3 752.5 684.3 745.4 685.0 744.3ZM685.0 790.9C685.9 790.2 688.9 791.6 689.4 792.7C689.9 793.7 688.5 795.5 687.6 796.2C686.8 796.9 685.5 797.3 685.0 796.2C684.5 795.2 684.1 791.6 685.0 790.9Z"/>
<path fill="#00f400" d="M697.3 731.9C697.3 731.5 701.4 728.2 701.7 728.4C702.0 728.6 702.0 735.2 701.7 735.5C701.4 735.7 697.3 732.4 697.3 731.9Z"/>
<path fill="#00c800" d="M704.4 678.2C704.4 679.0 704.5 678.8 703.9 679.5C703.3 680.1 703.5 680.0 702.5 680.2C701.6 680.5 701.9 680.5 700.9 680.2C699.9 680.0 700.2 680.1 699.6 679.5C699.0 678.8 699.1 679.0 699.1 678.2C699.1 677.4 699.0 677.6 699.6 677.0C700.2 676.3 699.9 676.5 700.9 676.2C701.9 675.9 701.6 675.9 702.5 676.2C703.5 676.5 703.3 676.3 703.9 677.0C704.5 677.6 704.4 677.4 704.4 678.2Z"/>
<path fill="#ff9000" d="M846.2 739.0C847.0 737.4 852.7 735.0 854.1 734.6C855.5 734.1 856.4 729.5 856.7 735.5C857.1 741.4 857.8 774.1 856.7 779.5C855.7 784.9 850.7 777.4 848.8 776.0C846.9 774.5 843.2 771.0 842.6 768.9C842.0 766.8 843.5 762.2 844.4 760.1C845.3 758.0 849.2 754.9 849.7 753.1C850.1 751.2 848.4 747.9 847.9 746.0C847.4 744.1 845.3 740.5 846.2 739.0Z"/>
<path fill="#e8c000" d="M849.7 747.8C850.1 746.1 855.8 738.5 856.7 742.5C857.7 746.5 857.5 773.6 856.7 777.7C855.9 781.8 852.0 774.6 850.6 773.3C849.1 772.0 846.5 769.7 846.2 768.0C845.8 766.4 847.0 762.7 847.9 761.0C848.9 759.2 853.0 756.6 853.2 754.8C853.4 753.1 849.2 749.4 849.7 747.8ZM850.0 798.9C850.0 800.4 850.1 799.9 849.6 801.1C849.1 802.4 849.4 802.1 848.6 802.5C847.8 803.0 848.1 803.0 847.3 802.5C846.5 802.1 846.7 802.4 846.2 801.1C845.7 799.9 845.8 800.4 845.8 798.9C845.8 797.3 845.7 797.8 846.2 796.6C846.7 795.3 846.5 795.6 847.3 795.2C848.1 794.7 847.8 794.7 848.6 795.2C849.4 795.6 849.1 795.3 849.6 796.6C850.1 797.8 850.0 797.3 850.0 798.9Z"/>
<path fill="#ffff00" d="M852.3 749.5C852.6 748.1 856.1 742.5 856.7 746.0C857.3 749.5 857.3 772.6 856.7 776.0C856.1 779.4 853.4 772.7 852.3 771.6C851.3 770.4 849.0 768.4 848.8 767.2C848.6 765.9 849.7 763.3 850.6 761.9C851.4 760.5 854.7 758.2 855.0 756.6C855.2 754.9 852.1 750.9 852.3 749.5Z"/>
<path fill="#009000" d="M847.9 767.2C848.3 766.6 856.1 765.7 856.7 766.3C857.3 766.9 857.1 775.4 856.7 776.0C856.3 776.5 851.1 775.7 850.6 775.1C850.0 774.5 847.5 767.7 847.9 767.2Z"/>
<path fill="#00f400" d="M849.7 768.9C850.0 768.6 856.3 768.2 856.7 768.6C857.2 768.9 857.1 774.2 856.7 774.5C856.4 774.9 851.9 774.2 851.4 773.8C851.0 773.5 849.3 769.3 849.7 768.9Z"/>
<path fill="none" stroke="#0b3b0b" stroke-width="1.7" stroke-linejoin="round" d="M740.5 665.0L741.4 678.2L744.0 726.6L751.9 735.5L762.5 756.6L767.8 770.7L766.0 784.8L760.7 795.3L762.5 804.1L759.9 805.9L763.4 818.2M741.4 678.2L856.7 671.2M856.7 723.1L852.3 728.4L850.6 739.0L847.9 742.5L849.7 749.5L843.5 754.8L846.2 767.2L856.7 767.2"/>
</g>
<g clip-path="url(#t16)">
<path fill="#ffff00" d="M659.1 674.8C660.3 672.2 667.7 668.8 670.5 667.2C673.4 665.6 677.3 664.0 680.7 662.7C684.1 661.5 692.4 659.2 696.0 657.6C699.6 656.1 704.7 652.5 707.4 651.3C710.2 650.1 711.8 649.1 716.4 648.7C720.9 648.4 738.4 645.8 741.8 648.7C745.2 651.6 741.6 660.0 741.8 670.4C742.0 680.7 742.2 716.9 743.1 726.4C743.9 735.9 747.8 736.9 748.2 741.6C748.5 746.4 752.1 758.4 745.6 762.0C739.2 765.5 708.3 768.7 699.8 768.3C691.3 768.0 685.0 762.2 682.0 759.4C678.9 756.7 678.7 750.7 676.9 748.0C675.1 745.3 670.5 742.5 668.3 739.1C666.0 735.7 662.9 726.7 660.4 722.5C657.9 718.4 650.9 711.8 649.5 707.9C648.2 704.0 648.6 696.1 650.2 693.3C651.8 690.5 660.4 689.4 661.6 686.9C662.8 684.4 657.9 677.4 659.1 674.8Z"/>
<path fill="#009000" d="M661.6 675.5C662.7 672.9 669.1 670.4 671.8 669.1C674.5 667.7 678.6 666.5 682.0 665.3C685.4 664.1 693.7 661.7 697.3 660.2C700.8 658.7 705.8 655.0 708.7 653.8C711.6 652.6 714.5 651.6 718.9 651.3C723.3 650.9 738.7 648.7 741.8 651.3C744.9 653.8 741.6 660.3 741.8 670.4C742.0 680.4 742.2 716.9 743.1 726.4C743.9 735.9 747.8 736.9 748.2 741.6C748.5 746.4 752.1 758.4 745.6 762.0C739.2 765.5 708.3 768.5 699.8 768.3C691.3 768.2 685.2 763.3 682.0 760.7C678.8 758.2 677.6 752.1 675.6 749.3C673.7 746.4 669.1 742.8 667.4 739.1C665.6 735.3 664.3 725.5 662.3 721.3C660.2 717.0 653.4 710.8 652.1 707.3C650.8 703.7 651.1 697.1 652.7 694.5C654.3 692.0 663.0 690.7 664.2 688.2C665.4 685.6 660.6 678.0 661.6 675.5Z"/>
<path fill="#00c800" d="M663.5 676.7C664.6 674.3 670.7 672.6 673.3 671.4C676.0 670.2 679.9 668.7 683.3 667.6C686.6 666.4 695.0 663.8 698.5 662.5C702.1 661.1 706.9 658.6 710.0 657.6C713.0 656.7 718.6 655.1 721.4 655.1C724.3 655.1 728.9 656.6 731.6 657.6C734.3 658.7 740.3 653.6 741.8 662.7C743.3 671.9 742.2 715.8 743.1 726.4C743.9 736.9 747.8 736.9 748.2 741.6C748.5 746.4 752.1 758.4 745.6 762.0C739.2 765.5 708.3 768.6 699.8 768.3C691.3 768.1 685.1 762.7 682.0 760.1C678.9 757.4 678.0 751.5 676.3 748.6C674.5 745.7 670.3 742.1 668.6 738.4C666.9 734.8 665.5 725.5 663.5 721.3C661.6 717.1 655.2 710.4 654.0 707.0C652.8 703.6 652.7 697.9 654.3 695.6C655.8 693.2 664.2 692.0 665.5 689.4C666.7 686.9 662.5 679.1 663.5 676.7Z"/>
<path fill="#00f400" d="M665.5 677.4C666.6 675.0 672.4 674.0 675.0 672.9C677.5 671.8 681.2 670.2 684.5 669.1C687.8 668.0 696.2 664.6 699.8 664.6C703.4 664.6 705.7 668.5 711.3 669.1C716.9 669.7 737.6 661.5 741.8 669.1C746.0 676.7 742.2 716.7 743.1 726.4C743.9 736.0 747.8 736.9 748.2 741.6C748.5 746.4 752.1 758.4 745.6 762.0C739.2 765.5 708.3 768.7 699.8 768.3C691.3 768.0 685.0 762.2 682.0 759.4C678.9 756.7 678.5 750.9 676.9 748.0C675.3 745.1 671.5 741.4 669.9 737.8C668.3 734.2 666.7 725.4 664.8 721.3C662.9 717.1 657.1 709.9 655.9 706.6C654.7 703.3 654.5 698.6 655.9 696.4C657.3 694.3 665.5 693.3 666.7 690.7C668.0 688.2 664.3 679.7 665.5 677.4Z"/>
<path fill="#0000f0" d="M667.4 703.4C667.7 702.2 671.7 701.6 673.1 701.5C674.5 701.4 683.2 702.8 684.5 702.2C685.9 701.6 688.5 695.8 689.0 694.5C689.5 693.3 691.4 688.2 690.9 686.9C690.4 685.6 683.7 679.6 683.3 678.6C682.8 677.6 685.0 675.2 685.8 674.8C686.6 674.4 692.1 673.4 692.8 674.2C693.6 675.0 694.1 683.2 694.7 684.4C695.3 685.5 698.5 687.2 699.8 687.5C701.1 687.9 709.0 689.1 710.0 688.2C711.0 687.3 710.9 677.9 711.9 676.7C712.9 675.5 719.1 674.0 721.4 673.5C723.8 673.1 738.9 670.2 740.5 671.0C742.2 671.8 741.4 681.7 741.2 683.1C741.0 684.5 738.8 686.8 738.0 688.2C737.2 689.6 733.4 698.6 731.6 699.6C729.8 700.7 717.8 700.5 716.4 700.9C714.9 701.3 714.2 703.7 714.4 704.7C714.7 705.8 718.1 712.6 718.9 713.6C719.7 714.6 722.6 716.5 724.0 716.8C725.4 717.1 734.5 717.1 735.4 717.4C736.3 717.8 735.3 720.6 734.8 721.3C734.3 722.0 729.2 725.0 729.7 725.7C730.2 726.4 739.3 728.0 740.5 729.5C741.7 731.1 744.1 742.3 744.3 744.2C744.6 746.0 744.7 751.0 743.1 751.8C741.5 752.6 727.5 754.3 725.3 753.7C723.0 753.1 717.9 745.2 716.4 744.2C714.8 743.1 707.1 740.3 706.2 741.0C705.2 741.6 705.4 749.8 704.9 751.8C704.4 753.8 700.6 764.3 699.8 765.2C699.1 766.0 697.4 762.6 696.0 762.0C694.6 761.4 684.5 759.4 683.3 758.2C682.0 756.9 681.7 748.7 680.7 746.7C679.8 744.7 672.8 736.5 671.8 734.0C670.8 731.4 669.0 718.7 668.6 716.2C668.3 713.6 667.0 704.7 667.4 703.4Z"/>
<path fill="#00a0f0" d="M719.5 677.4C720.7 676.1 726.6 675.2 729.1 674.8C731.5 674.5 736.7 673.9 738.0 674.8C739.3 675.7 739.5 680.0 738.6 681.8C737.8 683.6 733.4 687.0 731.6 688.2C729.8 689.4 726.8 691.2 725.3 690.7C723.7 690.2 720.9 686.1 720.2 684.4C719.4 682.6 718.3 678.6 719.5 677.4ZM672.4 713.6C673.0 711.9 674.8 710.7 676.9 709.8C679.0 709.0 685.6 706.9 688.4 707.3C691.2 707.6 696.8 711.1 697.9 712.4C699.0 713.6 698.6 716.2 696.6 716.8C694.7 717.4 685.6 715.9 683.3 716.8C681.0 717.7 680.1 721.6 679.4 723.8C678.8 726.0 678.9 732.3 678.2 733.4C677.5 734.4 675.1 732.9 674.4 731.4C673.6 730.0 672.7 724.9 672.4 722.5C672.2 720.2 671.9 715.3 672.4 713.6ZM685.2 744.2C685.5 743.2 687.9 744.1 689.0 744.8C690.1 745.5 695.7 750.1 696.0 751.2C696.2 752.2 692.6 754.7 691.5 755.0C690.5 755.3 686.4 755.4 685.8 754.3C685.2 753.3 684.9 745.1 685.2 744.2Z"/>
<path fill="#00f400" d="M685.2 721.3C685.6 720.9 690.5 721.0 690.9 721.3C691.3 721.5 691.7 724.1 691.5 724.4C691.4 724.8 689.4 726.9 689.0 727.0C688.6 727.1 685.4 726.7 685.2 726.4C684.9 726.0 684.8 721.6 685.2 721.3ZM697.9 732.7C697.9 732.2 701.5 728.7 701.7 728.9C702.0 729.1 702.0 735.6 701.7 735.9C701.5 736.2 697.9 733.2 697.9 732.7Z"/>
<path fill="#00c800" d="M713.2 657.6C714.4 656.7 718.5 655.6 721.4 655.7C724.4 655.9 727.8 657.1 727.8 658.3C727.8 659.4 724.0 661.1 721.4 661.5C718.9 661.8 716.7 660.9 715.1 660.2C713.4 659.4 711.9 658.5 713.2 657.6ZM704.0 678.3C704.0 679.1 704.1 678.9 703.6 679.6C703.0 680.3 703.3 680.2 702.4 680.4C701.6 680.7 701.9 680.7 701.0 680.4C700.2 680.2 700.4 680.3 699.9 679.6C699.3 678.9 699.4 679.1 699.4 678.3C699.4 677.4 699.3 677.6 699.9 676.9C700.4 676.2 700.2 676.3 701.0 676.1C701.9 675.8 701.6 675.8 702.4 676.1C703.3 676.3 703.0 676.2 703.6 676.9C704.1 677.6 704.0 677.4 704.0 678.3Z"/>
<path fill="#009000" d="M708.7 657.6C709.6 656.4 713.6 654.3 716.4 653.8C719.1 653.3 725.9 653.3 729.1 653.8C732.3 654.3 739.0 655.8 740.5 657.6C742.1 659.5 742.1 666.3 740.5 667.8C739.0 669.3 732.3 669.4 729.1 669.1C725.9 668.7 718.9 666.1 716.4 665.3C713.8 664.4 711.0 663.7 710.0 662.7C709.0 661.7 707.9 658.8 708.7 657.6ZM676.9 688.2C678.2 686.9 681.5 686.1 683.3 686.9C685.0 687.7 686.1 690.5 685.8 692.0C685.6 693.5 683.8 694.3 682.0 694.5C680.2 694.8 677.9 694.5 676.9 693.3C675.9 692.0 675.6 689.4 676.9 688.2Z"/>
<path fill="#ffff00" d="M730.1 665.9C730.1 666.6 730.2 666.4 729.4 667.0C728.6 667.5 729.0 667.4 727.6 667.6C726.3 667.8 726.8 667.8 725.4 667.6C724.1 667.4 724.5 667.5 723.6 667.0C722.8 666.4 723.0 666.6 723.0 665.9C723.0 665.2 722.8 665.4 723.6 664.9C724.5 664.3 724.1 664.4 725.4 664.2C726.8 664.0 726.3 664.0 727.6 664.2C729.0 664.4 728.6 664.3 729.4 664.9C730.2 665.4 730.1 665.2 730.1 665.9Z"/>
<path fill="none" stroke="#0b3b0b" stroke-width="1.7" stroke-linejoin="round" d="M740.5 650.0L741.2 679.3L743.1 726.4L752.0 736.5L760.0 751.8M741.2 678.6L760.0 677.4"/>
</g>
</g>
<rect x="163.5" y="202.0" width="694.0" height="616.5" fill="none" stroke="#000" stroke-width="1.2"/>
<path d="M206.2 818.5v-6.5M206.2 202.0v6.5M249.2 818.5v-13M249.2 202.0v13M292.1 818.5v-6.5M292.1 202.0v6.5M335.0 818.5v-13M335.0 202.0v13M378.0 818.5v-6.5M378.0 202.0v6.5M420.9 818.5v-13M420.9 202.0v13M463.8 818.5v-6.5M463.8 202.0v6.5M506.7 818.5v-13M506.7 202.0v13M549.7 818.5v-6.5M549.7 202.0v6.5M592.6 818.5v-13M592.6 202.0v13M635.5 818.5v-6.5M635.5 202.0v6.5M678.5 818.5v-13M678.5 202.0v13M721.4 818.5v-6.5M721.4 202.0v6.5M764.3 818.5v-13M764.3 202.0v13M807.2 818.5v-6.5M807.2 202.0v6.5M850.2 818.5v-13M850.2 202.0v13M163.5 775.7h6.5M857.5 775.7h-6.5M163.5 732.9h13M857.5 732.9h-13M163.5 690.0h6.5M857.5 690.0h-6.5M163.5 647.2h13M857.5 647.2h-13M163.5 604.4h6.5M857.5 604.4h-6.5M163.5 561.6h13M857.5 561.6h-13M163.5 518.8h6.5M857.5 518.8h-6.5M163.5 475.9h13M857.5 475.9h-13M163.5 433.1h6.5M857.5 433.1h-6.5M163.5 390.3h13M857.5 390.3h-13M163.5 347.5h6.5M857.5 347.5h-6.5M163.5 304.7h13M857.5 304.7h-13M163.5 261.8h6.5M857.5 261.8h-6.5M163.5 219.0h13M857.5 219.0h-13" stroke="#000" stroke-width="1.2" fill="none"/>
<text x="157.6" y="840.3" font-size="15.5" text-anchor="start" textLength="8.5" lengthAdjust="spacingAndGlyphs"  xml:space="preserve">0</text>
<text x="233.5" y="840.3" font-size="15.5" text-anchor="start" textLength="28.4" lengthAdjust="spacingAndGlyphs"  xml:space="preserve">200</text>
<text x="319.3" y="840.3" font-size="15.5" text-anchor="start" textLength="28.4" lengthAdjust="spacingAndGlyphs"  xml:space="preserve">400</text>
<text x="405.2" y="840.3" font-size="15.5" text-anchor="start" textLength="28.4" lengthAdjust="spacingAndGlyphs"  xml:space="preserve">600</text>
<text x="491.0" y="840.3" font-size="15.5" text-anchor="start" textLength="28.4" lengthAdjust="spacingAndGlyphs"  xml:space="preserve">800</text>
<text x="572.7" y="840.3" font-size="15.5" text-anchor="start" textLength="36.8" lengthAdjust="spacingAndGlyphs"  xml:space="preserve">1000</text>
<text x="658.6" y="840.3" font-size="15.5" text-anchor="start" textLength="36.8" lengthAdjust="spacingAndGlyphs"  xml:space="preserve">1200</text>
<text x="744.4" y="840.3" font-size="15.5" text-anchor="start" textLength="36.8" lengthAdjust="spacingAndGlyphs"  xml:space="preserve">1400</text>
<text x="830.3" y="840.3" font-size="15.5" text-anchor="start" textLength="36.8" lengthAdjust="spacingAndGlyphs"  xml:space="preserve">1600</text>
<text x="142.8" y="824.1" font-size="15.5" text-anchor="start" textLength="8.5" lengthAdjust="spacingAndGlyphs"  xml:space="preserve">0</text>
<text x="122.9" y="738.5" font-size="15.5" text-anchor="start" textLength="28.4" lengthAdjust="spacingAndGlyphs"  xml:space="preserve">200</text>
<text x="122.9" y="652.8" font-size="15.5" text-anchor="start" textLength="28.4" lengthAdjust="spacingAndGlyphs"  xml:space="preserve">400</text>
<text x="122.9" y="567.2" font-size="15.5" text-anchor="start" textLength="28.4" lengthAdjust="spacingAndGlyphs"  xml:space="preserve">600</text>
<text x="122.9" y="481.5" font-size="15.5" text-anchor="start" textLength="28.4" lengthAdjust="spacingAndGlyphs"  xml:space="preserve">800</text>
<text x="114.5" y="395.9" font-size="15.5" text-anchor="start" textLength="36.8" lengthAdjust="spacingAndGlyphs"  xml:space="preserve">1000</text>
<text x="114.5" y="310.3" font-size="15.5" text-anchor="start" textLength="36.8" lengthAdjust="spacingAndGlyphs"  xml:space="preserve">1200</text>
<text x="114.5" y="224.6" font-size="15.5" text-anchor="start" textLength="36.8" lengthAdjust="spacingAndGlyphs"  xml:space="preserve">1400</text>
<rect x="878.2" y="220.30" width="28.5" height="48.33" fill="#c00000" stroke="#000" stroke-width="1"/>
<rect x="878.2" y="268.63" width="28.5" height="48.33" fill="#d80000" stroke="#000" stroke-width="1"/>
<rect x="878.2" y="316.96" width="28.5" height="48.33" fill="#ff0000" stroke="#000" stroke-width="1"/>
<rect x="878.2" y="365.29" width="28.5" height="48.33" fill="#ff9000" stroke="#000" stroke-width="1"/>
<rect x="878.2" y="413.62" width="28.5" height="48.33" fill="#e8c000" stroke="#000" stroke-width="1"/>
<rect x="878.2" y="461.95" width="28.5" height="48.33" fill="#ffff00" stroke="#000" stroke-width="1"/>
<rect x="878.2" y="510.28" width="28.5" height="48.33" fill="#009000" stroke="#000" stroke-width="1"/>
<rect x="878.2" y="558.61" width="28.5" height="48.33" fill="#00c800" stroke="#000" stroke-width="1"/>
<rect x="878.2" y="606.94" width="28.5" height="48.33" fill="#00f400" stroke="#000" stroke-width="1"/>
<rect x="878.2" y="655.27" width="28.5" height="48.33" fill="#0000f0" stroke="#000" stroke-width="1"/>
<rect x="878.2" y="703.60" width="28.5" height="48.33" fill="#00a0f0" stroke="#000" stroke-width="1"/>
<rect x="878.2" y="751.93" width="28.5" height="48.33" fill="#00e8e8" stroke="#000" stroke-width="1"/>
<text x="909.2" y="227.8" font-size="17" text-anchor="start" textLength="26.5" lengthAdjust="spacingAndGlyphs"  xml:space="preserve">12.</text>
<text x="909.2" y="276.1" font-size="17" text-anchor="start" textLength="26.5" lengthAdjust="spacingAndGlyphs"  xml:space="preserve">11.</text>
<text x="909.2" y="324.5" font-size="17" text-anchor="start" textLength="26.5" lengthAdjust="spacingAndGlyphs"  xml:space="preserve">10.</text>
<text x="909.2" y="372.8" font-size="17" text-anchor="start" textLength="17.0" lengthAdjust="spacingAndGlyphs"  xml:space="preserve">9.</text>
<text x="909.2" y="421.1" font-size="17" text-anchor="start" textLength="17.0" lengthAdjust="spacingAndGlyphs"  xml:space="preserve">8.</text>
<text x="909.2" y="469.4" font-size="17" text-anchor="start" textLength="17.0" lengthAdjust="spacingAndGlyphs"  xml:space="preserve">7.</text>
<text x="909.2" y="517.8" font-size="17" text-anchor="start" textLength="17.0" lengthAdjust="spacingAndGlyphs"  xml:space="preserve">6.</text>
<text x="909.2" y="566.1" font-size="17" text-anchor="start" textLength="17.0" lengthAdjust="spacingAndGlyphs"  xml:space="preserve">5.</text>
<text x="909.2" y="614.4" font-size="17" text-anchor="start" textLength="17.0" lengthAdjust="spacingAndGlyphs"  xml:space="preserve">4.</text>
<text x="909.2" y="662.8" font-size="17" text-anchor="start" textLength="17.0" lengthAdjust="spacingAndGlyphs"  xml:space="preserve">3.</text>
<text x="909.2" y="711.1" font-size="17" text-anchor="start" textLength="17.0" lengthAdjust="spacingAndGlyphs"  xml:space="preserve">2.</text>
<text x="909.2" y="759.4" font-size="17" text-anchor="start" textLength="17.0" lengthAdjust="spacingAndGlyphs"  xml:space="preserve">1.</text>
<text x="909.2" y="807.8" font-size="17" text-anchor="start" textLength="27.5" lengthAdjust="spacingAndGlyphs"  xml:space="preserve">0.0</text>
<text y="71.5" font-size="29"><tspan x="156.4" textLength="135.5" lengthAdjust="spacingAndGlyphs">Southern</tspan> <tspan x="304.4" textLength="83.0" lengthAdjust="spacingAndGlyphs">Plains</tspan> <tspan x="407.3" textLength="70.1" lengthAdjust="spacingAndGlyphs">Meso</tspan> <tspan x="497.6" textLength="191.8" lengthAdjust="spacingAndGlyphs">(180x160x50,</tspan> <tspan x="710.9" textLength="72.4" lengthAdjust="spacingAndGlyphs">dx=9</tspan> <tspan x="804.9" textLength="54.0" lengthAdjust="spacingAndGlyphs">km)</tspan></text>
<text y="112.3" font-size="29"><tspan x="254.3" textLength="113.9" lengthAdjust="spacingAndGlyphs">Analysis</tspan> <tspan x="390.5" textLength="43.0" lengthAdjust="spacingAndGlyphs">for</tspan> <tspan x="447.2" textLength="62.7" lengthAdjust="spacingAndGlyphs">07Z</tspan> <tspan x="521.1" textLength="31.3" lengthAdjust="spacingAndGlyphs">Fri</tspan> <tspan x="573.9" textLength="31.3" lengthAdjust="spacingAndGlyphs">12</tspan> <tspan x="626.8" textLength="45.0" lengthAdjust="spacingAndGlyphs">Jun</tspan> <tspan x="694.5" textLength="66.5" lengthAdjust="spacingAndGlyphs">2015</tspan></text>
<text y="191.2" font-size="16.5"><tspan x="292.6" textLength="50.4" lengthAdjust="spacingAndGlyphs">07:00</tspan> <tspan x="356.5">Z</tspan> <tspan x="376.8" textLength="21.1" lengthAdjust="spacingAndGlyphs">Fri</tspan> <tspan x="410.5" textLength="18.0" lengthAdjust="spacingAndGlyphs">12</tspan> <tspan x="445.6" textLength="27.9" lengthAdjust="spacingAndGlyphs">Jun</tspan> <tspan x="484.8" textLength="37.3" lengthAdjust="spacingAndGlyphs">2015</tspan> <tspan x="559.9" textLength="45.0" lengthAdjust="spacingAndGlyphs">T=0.0</tspan> <tspan x="620.2">s</tspan> <tspan x="638.7" textLength="86.8" lengthAdjust="spacingAndGlyphs">(0:00:00)</tspan></text>
<text x="513.0" y="875.0" font-size="14" text-anchor="middle" textLength="31.0" lengthAdjust="spacing"  xml:space="preserve">(km)</text>
<text transform="translate(94.5,508) rotate(-90)" font-size="14" text-anchor="middle" textLength="30" lengthAdjust="spacing">(km)</text>
<text y="917.8" font-size="17.5"><tspan x="127.4" textLength="35.2" lengthAdjust="spacingAndGlyphs">SOIL</tspan> <tspan x="174.4" textLength="43.0" lengthAdjust="spacingAndGlyphs">TYPE</tspan> <tspan x="230.5">1</tspan> <tspan x="249.5" textLength="57.2" lengthAdjust="spacingAndGlyphs">(index,</tspan> <tspan x="318.0" textLength="70.8" lengthAdjust="spacingAndGlyphs">Shaded)</tspan></text>
<text y="917.0" font-size="17.5"><tspan x="720.2" textLength="79.3" lengthAdjust="spacingAndGlyphs">Min=1.00</tspan> <tspan x="810.7" textLength="77.4" lengthAdjust="spacingAndGlyphs">Max=11.1</tspan></text>
<text y="1019.8" font-size="14.5"><tspan x="186.9" textLength="68.2" lengthAdjust="spacingAndGlyphs">CAPS/OU</tspan> <tspan x="266.1" textLength="93.0" lengthAdjust="spacingAndGlyphs">Experimental</tspan> <tspan x="369.4" textLength="70.5" lengthAdjust="spacingAndGlyphs">Forecasts</tspan> <tspan x="458.7" textLength="64.2" lengthAdjust="spacingAndGlyphs">Southern</tspan> <tspan x="533.8" textLength="41.4" lengthAdjust="spacingAndGlyphs">Plains</tspan> <tspan x="585.5" textLength="39.8" lengthAdjust="spacingAndGlyphs">Meso,</tspan> <tspan x="635.6" textLength="89.2" lengthAdjust="spacingAndGlyphs">180x160x50,</tspan> <tspan x="737.3" textLength="36.0" lengthAdjust="spacingAndGlyphs">dx=9</tspan> <tspan x="783.7" textLength="19.4" lengthAdjust="spacingAndGlyphs">km</tspan></text>
</svg>
</body></html>
